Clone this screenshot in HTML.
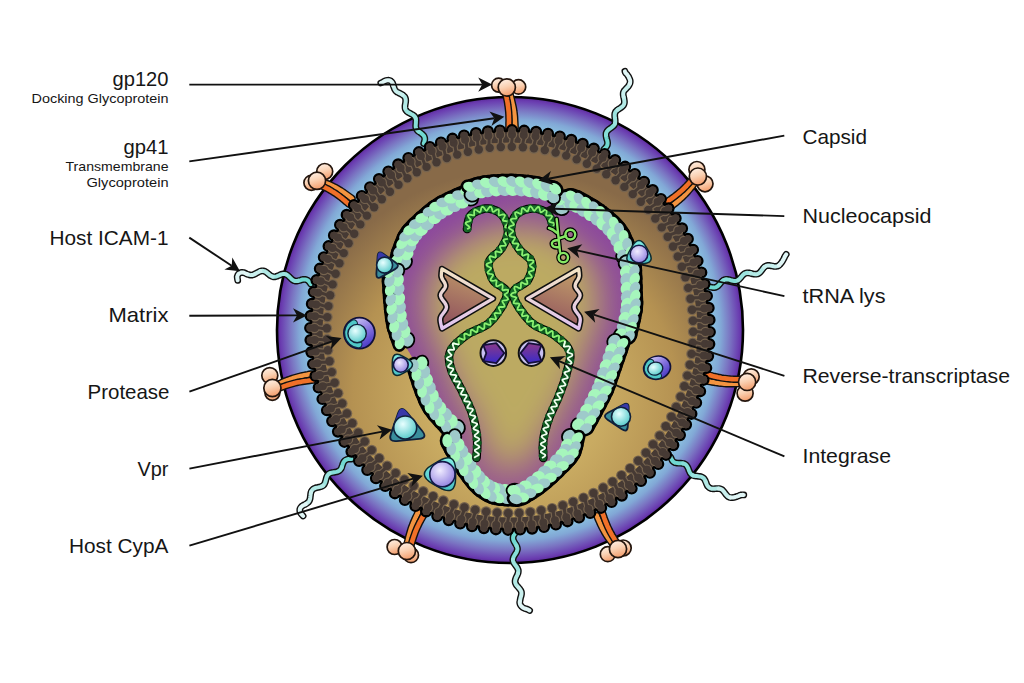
<!DOCTYPE html><html><head><meta charset="utf-8"><style>html,body{margin:0;padding:0;background:#fff;overflow:hidden}svg{display:block}text{font-family:"Liberation Sans",sans-serif}</style></head><body><svg width="1024" height="683" viewBox="0 0 1024 683"><defs>
<radialGradient id="gEnv" cx="510" cy="330" r="233" gradientUnits="userSpaceOnUse">
 <stop offset="0.86" stop-color="#8cc6e2"/>
 <stop offset="0.905" stop-color="#82a8d6"/>
 <stop offset="0.945" stop-color="#7a74c2"/>
 <stop offset="0.985" stop-color="#6a3cb0"/>
 <stop offset="1" stop-color="#5a2a98"/>
</radialGradient>
<radialGradient id="gMat" cx="515" cy="395" r="225" gradientUnits="userSpaceOnUse">
 <stop offset="0.4" stop-color="#c9ab62"/>
 <stop offset="0.72" stop-color="#b59252"/>
 <stop offset="1" stop-color="#886a48"/>
</radialGradient>
<linearGradient id="gKnob" x1="0.3" y1="0" x2="0.6" y2="1">
 <stop offset="0" stop-color="#fff0e4"/>
 <stop offset="0.45" stop-color="#fad2b4"/>
 <stop offset="1" stop-color="#f29a68"/>
</linearGradient>
<linearGradient id="gStalk" x1="0" y1="0" x2="0" y2="1">
 <stop offset="0" stop-color="#f06020"/>
 <stop offset="1" stop-color="#f8a040"/>
</linearGradient>
<filter id="blur15" x="-50%" y="-50%" width="200%" height="200%"><feGaussianBlur stdDeviation="17"/></filter>
<filter id="blur6" x="-50%" y="-50%" width="200%" height="200%"><feGaussianBlur stdDeviation="6"/></filter>
<linearGradient id="gRT" x1="0.3" y1="0" x2="0" y2="1">
 <stop offset="0" stop-color="#bc9468"/>
 <stop offset="1" stop-color="#8a4a5c"/>
</linearGradient>
<radialGradient id="gCyan" cx="0.4" cy="0.35" r="0.7">
 <stop offset="0" stop-color="#e8ffff"/>
 <stop offset="1" stop-color="#50c8c8"/>
</radialGradient>
<radialGradient id="gLav" cx="0.4" cy="0.35" r="0.7">
 <stop offset="0" stop-color="#f0ecff"/>
 <stop offset="1" stop-color="#9080e0"/>
</radialGradient>
</defs>
<circle cx="510" cy="330" r="233" fill="url(#gEnv)" stroke="#000" stroke-width="2.6"/>
<linearGradient id="gIcam" x1="0" y1="0" x2="1" y2="0"><stop offset="0" stop-color="#6ed8d0"/><stop offset="1" stop-color="#d8f4f4"/></linearGradient>
<polyline points="423.7,143.5 424.1,142.4 424.4,141.3 424.7,140.2 424.8,139.1 424.7,138.1 424.4,137.1 424.0,136.1 423.3,135.2 422.5,134.4 421.6,133.6 420.7,132.9 419.7,132.2 418.7,131.6 417.8,130.9 417.1,130.1 416.5,129.3 416.1,128.4 415.8,127.4 415.7,126.4 415.7,125.3 415.8,124.1 415.9,122.9 415.9,121.7 416.0,120.5 415.9,119.4 415.7,118.4 415.3,117.4 414.8,116.6 414.1,115.8 413.2,115.1 412.3,114.5 411.2,114.0 410.2,113.4 409.1,112.9 408.1,112.3 407.2,111.6 406.4,110.9 405.8,110.0 405.3,109.1 405.1,108.1 405.0,107.0 405.0,105.8 405.2,104.7 405.4,103.5 405.6,102.3 405.7,101.1 405.7,100.0 405.6,99.0 405.3,98.0 404.9,97.1 404.2,96.2 403.4,95.5 402.5,94.8 401.4,94.2 400.3,93.6 399.3,93.1 398.3,92.6 397.3,92.2 396.5,91.6 395.8,91.0 395.3,90.3 394.8,89.5 394.4,88.6 394.0,87.6 393.6,86.5 393.2,85.3 393.0,84.1 392.5,83.0 391.8,82.0 390.9,81.1 389.8,80.5 388.6,80.2 387.4,80.3 386.2,80.5 385.1,80.9 384.0,81.4 383.0,82.0 381.9,82.5 380.8,83.0" fill="none" stroke="#111" stroke-width="6.8" stroke-linecap="round" stroke-linejoin="round"/>
<polyline points="423.7,143.5 424.1,142.4 424.4,141.3 424.7,140.2 424.8,139.1 424.7,138.1 424.4,137.1 424.0,136.1 423.3,135.2 422.5,134.4 421.6,133.6 420.7,132.9 419.7,132.2 418.7,131.6" fill="none" stroke="#70d8d0" stroke-width="4.0" stroke-linecap="round" stroke-linejoin="round"/>
<polyline points="418.7,131.6 417.8,130.9 417.1,130.1 416.5,129.3 416.1,128.4 415.8,127.4 415.7,126.4 415.7,125.3 415.8,124.1 415.9,122.9 415.9,121.7 416.0,120.5 415.9,119.4 415.7,118.4" fill="none" stroke="#86ded7" stroke-width="4.0" stroke-linecap="round" stroke-linejoin="round"/>
<polyline points="415.7,118.4 415.3,117.4 414.8,116.6 414.1,115.8 413.2,115.1 412.3,114.5 411.2,114.0 410.2,113.4 409.1,112.9 408.1,112.3 407.2,111.6 406.4,110.9 405.8,110.0 405.3,109.1 405.1,108.1" fill="none" stroke="#9ce4df" stroke-width="4.0" stroke-linecap="round" stroke-linejoin="round"/>
<polyline points="405.1,108.1 405.0,107.0 405.0,105.8 405.2,104.7 405.4,103.5 405.6,102.3 405.7,101.1 405.7,100.0 405.6,99.0 405.3,98.0 404.9,97.1 404.2,96.2 403.4,95.5 402.5,94.8" fill="none" stroke="#b3eae6" stroke-width="4.0" stroke-linecap="round" stroke-linejoin="round"/>
<polyline points="402.5,94.8 401.4,94.2 400.3,93.6 399.3,93.1 398.3,92.6 397.3,92.2 396.5,91.6 395.8,91.0 395.3,90.3 394.8,89.5 394.4,88.6 394.0,87.6 393.6,86.5 393.2,85.3" fill="none" stroke="#c9f0ee" stroke-width="4.0" stroke-linecap="round" stroke-linejoin="round"/>
<polyline points="393.2,85.3 393.0,84.1 392.5,83.0 391.8,82.0 390.9,81.1 389.8,80.5 388.6,80.2 387.4,80.3 386.2,80.5 385.1,80.9 384.0,81.4 383.0,82.0 381.9,82.5 380.8,83.0" fill="none" stroke="#e0f6f6" stroke-width="4.0" stroke-linecap="round" stroke-linejoin="round"/>
<polyline points="603.9,149.3 604.8,148.5 605.6,147.6 606.3,146.8 606.9,145.9 607.3,145.0 607.5,144.0 607.6,143.0 607.5,142.0 607.3,140.9 607.0,139.8 606.6,138.6 606.3,137.5 606.1,136.3 606.0,135.3 606.0,134.2 606.1,133.1 606.5,132.2 607.0,131.3 607.7,130.5 608.5,129.7 609.4,129.0 610.4,128.3 611.4,127.6 612.3,126.9 613.2,126.2 613.9,125.5 614.5,124.6 614.9,123.7 615.1,122.7 615.2,121.7 615.2,120.6 615.1,119.4 614.9,118.2 614.8,117.1 614.7,115.9 614.7,114.8 614.8,113.7 615.1,112.8 615.5,111.9 616.1,111.1 616.9,110.3 617.8,109.6 618.8,109.0 619.8,108.4 620.8,107.7 621.7,107.0 622.6,106.3 623.3,105.5 623.8,104.6 624.2,103.7 624.4,102.7 624.4,101.6 624.3,100.5 624.1,99.3 623.9,98.1 623.6,97.0 623.4,95.8 623.2,94.8 623.2,93.7 623.3,92.7 623.6,91.8 624.1,90.9 624.7,90.1 625.5,89.3 626.3,88.5 627.1,87.6 628.0,86.8 628.7,85.8 629.3,84.8 629.7,83.8 630.0,83.1 630.2,82.1 630.2,81.0 630.0,80.0 629.6,78.9 629.1,77.8 628.6,76.7 627.9,75.7 627.3,74.8 626.7,74.0 626.1,73.5 625.6,72.9 625.2,72.2 624.9,71.3" fill="none" stroke="#111" stroke-width="6.8" stroke-linecap="round" stroke-linejoin="round"/>
<polyline points="603.9,149.3 604.8,148.5 605.6,147.6 606.3,146.8 606.9,145.9 607.3,145.0 607.5,144.0 607.6,143.0 607.5,142.0 607.3,140.9 607.0,139.8 606.6,138.6 606.3,137.5 606.1,136.3 606.0,135.3" fill="none" stroke="#70d8d0" stroke-width="4.0" stroke-linecap="round" stroke-linejoin="round"/>
<polyline points="606.0,135.3 606.0,134.2 606.1,133.1 606.5,132.2 607.0,131.3 607.7,130.5 608.5,129.7 609.4,129.0 610.4,128.3 611.4,127.6 612.3,126.9 613.2,126.2 613.9,125.5 614.5,124.6 614.9,123.7" fill="none" stroke="#86ded7" stroke-width="4.0" stroke-linecap="round" stroke-linejoin="round"/>
<polyline points="614.9,123.7 615.1,122.7 615.2,121.7 615.2,120.6 615.1,119.4 614.9,118.2 614.8,117.1 614.7,115.9 614.7,114.8 614.8,113.7 615.1,112.8 615.5,111.9 616.1,111.1 616.9,110.3 617.8,109.6" fill="none" stroke="#9ce4df" stroke-width="4.0" stroke-linecap="round" stroke-linejoin="round"/>
<polyline points="617.8,109.6 618.8,109.0 619.8,108.4 620.8,107.7 621.7,107.0 622.6,106.3 623.3,105.5 623.8,104.6 624.2,103.7 624.4,102.7 624.4,101.6 624.3,100.5 624.1,99.3 623.9,98.1 623.6,97.0" fill="none" stroke="#b3eae6" stroke-width="4.0" stroke-linecap="round" stroke-linejoin="round"/>
<polyline points="623.6,97.0 623.4,95.8 623.2,94.8 623.2,93.7 623.3,92.7 623.6,91.8 624.1,90.9 624.7,90.1 625.5,89.3 626.3,88.5 627.1,87.6 628.0,86.8 628.7,85.8 629.3,84.8 629.7,83.8" fill="none" stroke="#c9f0ee" stroke-width="4.0" stroke-linecap="round" stroke-linejoin="round"/>
<polyline points="629.7,83.8 630.0,83.1 630.2,82.1 630.2,81.0 630.0,80.0 629.6,78.9 629.1,77.8 628.6,76.7 627.9,75.7 627.3,74.8 626.7,74.0 626.1,73.5 625.6,72.9 625.2,72.2 624.9,71.3" fill="none" stroke="#e0f6f6" stroke-width="4.0" stroke-linecap="round" stroke-linejoin="round"/>
<polyline points="310.8,284.0 310.1,283.0 309.4,282.1 308.7,281.2 307.9,280.5 307.0,280.0 306.1,279.6 305.0,279.4 303.9,279.4 302.8,279.5 301.6,279.8 300.5,280.2 299.3,280.5 298.2,280.8 297.2,281.1 296.0,281.1 295.0,281.0 294.1,280.8 293.2,280.3 292.3,279.7 291.5,279.0 290.7,278.2 289.8,277.3 289.0,276.5 288.1,275.7 287.2,275.0 286.3,274.5 285.3,274.1 284.3,273.9 283.3,273.9 282.3,274.1 281.2,274.4 280.1,274.9 279.0,275.4 277.9,275.8 276.8,276.3 275.8,276.6 274.7,276.8 273.7,276.8 272.7,276.6 271.8,276.3 270.8,275.8 269.9,275.2 269.0,274.4 268.1,273.7 267.2,272.9 266.3,272.2 265.3,271.6 264.3,271.1 263.3,270.9 262.3,270.8 261.3,270.9 260.3,271.2 259.2,271.6 258.2,272.2 257.1,272.8 256.1,273.4 255.1,273.9 254.1,274.4 253.3,274.8 252.4,275.0 251.5,275.1 250.5,275.1 249.5,274.9 248.5,274.6 247.2,274.2 246.2,273.7 245.1,273.2 244.0,272.7 242.9,272.5 241.7,272.4 240.5,272.7 239.4,273.2 238.4,274.1 237.7,275.3 237.2,276.7 237.3,277.9 237.5,279.1 237.7,280.3" fill="none" stroke="#111" stroke-width="6.8" stroke-linecap="round" stroke-linejoin="round"/>
<polyline points="310.8,284.0 310.1,283.0 309.4,282.1 308.7,281.2 307.9,280.5 307.0,280.0 306.1,279.6 305.0,279.4 303.9,279.4 302.8,279.5 301.6,279.8 300.5,280.2 299.3,280.5 298.2,280.8" fill="none" stroke="#70d8d0" stroke-width="4.0" stroke-linecap="round" stroke-linejoin="round"/>
<polyline points="298.2,280.8 297.2,281.1 296.0,281.1 295.0,281.0 294.1,280.8 293.2,280.3 292.3,279.7 291.5,279.0 290.7,278.2 289.8,277.3 289.0,276.5 288.1,275.7 287.2,275.0 286.3,274.5" fill="none" stroke="#86ded7" stroke-width="4.0" stroke-linecap="round" stroke-linejoin="round"/>
<polyline points="286.3,274.5 285.3,274.1 284.3,273.9 283.3,273.9 282.3,274.1 281.2,274.4 280.1,274.9 279.0,275.4 277.9,275.8 276.8,276.3 275.8,276.6 274.7,276.8 273.7,276.8 272.7,276.6" fill="none" stroke="#9ce4df" stroke-width="4.0" stroke-linecap="round" stroke-linejoin="round"/>
<polyline points="272.7,276.6 271.8,276.3 270.8,275.8 269.9,275.2 269.0,274.4 268.1,273.7 267.2,272.9 266.3,272.2 265.3,271.6 264.3,271.1 263.3,270.9 262.3,270.8 261.3,270.9 260.3,271.2" fill="none" stroke="#b3eae6" stroke-width="4.0" stroke-linecap="round" stroke-linejoin="round"/>
<polyline points="260.3,271.2 259.2,271.6 258.2,272.2 257.1,272.8 256.1,273.4 255.1,273.9 254.1,274.4 253.3,274.8 252.4,275.0 251.5,275.1 250.5,275.1 249.5,274.9 248.5,274.6 247.2,274.2" fill="none" stroke="#c9f0ee" stroke-width="4.0" stroke-linecap="round" stroke-linejoin="round"/>
<polyline points="247.2,274.2 246.2,273.7 245.1,273.2 244.0,272.7 242.9,272.5 241.7,272.4 240.5,272.7 239.4,273.2 238.4,274.1 237.7,275.3 237.2,276.7 237.3,277.9 237.5,279.1 237.7,280.3" fill="none" stroke="#e0f6f6" stroke-width="4.0" stroke-linecap="round" stroke-linejoin="round"/>
<polyline points="709.8,286.9 711.0,287.2 712.1,287.4 713.2,287.6 714.3,287.6 715.3,287.4 716.2,287.1 717.1,286.6 717.9,286.0 718.7,285.2 719.5,284.3 720.2,283.4 721.0,282.5 721.8,281.6 722.6,280.9 723.4,280.2 724.3,279.8 725.3,279.5 726.3,279.3 727.4,279.4 728.5,279.6 729.6,279.8 730.8,280.2 731.9,280.5 733.0,280.8 734.1,280.9 735.2,281.0 736.2,280.9 737.2,280.6 738.1,280.1 738.9,279.5 739.7,278.7 740.5,277.8 741.3,276.9 742.0,276.0 742.8,275.1 743.6,274.4 744.5,273.7 745.4,273.3 746.3,273.0 747.3,272.8 748.4,272.9 749.5,273.0 750.6,273.3 751.8,273.6 752.9,273.9 754.1,274.1 755.2,274.2 756.2,274.2 757.3,274.0 758.2,273.7 759.1,273.1 759.9,272.5 760.7,271.6 761.4,270.7 762.1,269.8 762.8,268.8 763.5,267.9 764.3,267.1 765.1,266.4 766.0,265.9 767.0,265.6 768.0,265.4 769.0,265.4 770.2,265.6 771.3,265.8 772.5,266.0 773.6,266.3 774.8,266.4 776.0,266.4 777.1,266.2 778.1,265.9 779.0,265.3 779.5,264.8 780.3,264.1 781.0,263.2 781.7,262.3 782.4,261.3 783.0,260.3 783.5,259.3 784.0,258.4 784.4,257.6 784.6,257.0 784.8,256.6 785.1,256.1 785.6,255.3 786.2,254.4" fill="none" stroke="#111" stroke-width="6.8" stroke-linecap="round" stroke-linejoin="round"/>
<polyline points="709.8,286.9 711.0,287.2 712.1,287.4 713.2,287.6 714.3,287.6 715.3,287.4 716.2,287.1 717.1,286.6 717.9,286.0 718.7,285.2 719.5,284.3 720.2,283.4 721.0,282.5 721.8,281.6 722.6,280.9" fill="none" stroke="#70d8d0" stroke-width="4.0" stroke-linecap="round" stroke-linejoin="round"/>
<polyline points="722.6,280.9 723.4,280.2 724.3,279.8 725.3,279.5 726.3,279.3 727.4,279.4 728.5,279.6 729.6,279.8 730.8,280.2 731.9,280.5 733.0,280.8 734.1,280.9 735.2,281.0 736.2,280.9 737.2,280.6 738.1,280.1" fill="none" stroke="#86ded7" stroke-width="4.0" stroke-linecap="round" stroke-linejoin="round"/>
<polyline points="738.1,280.1 738.9,279.5 739.7,278.7 740.5,277.8 741.3,276.9 742.0,276.0 742.8,275.1 743.6,274.4 744.5,273.7 745.4,273.3 746.3,273.0 747.3,272.8 748.4,272.9 749.5,273.0 750.6,273.3" fill="none" stroke="#9ce4df" stroke-width="4.0" stroke-linecap="round" stroke-linejoin="round"/>
<polyline points="750.6,273.3 751.8,273.6 752.9,273.9 754.1,274.1 755.2,274.2 756.2,274.2 757.3,274.0 758.2,273.7 759.1,273.1 759.9,272.5 760.7,271.6 761.4,270.7 762.1,269.8 762.8,268.8 763.5,267.9 764.3,267.1" fill="none" stroke="#b3eae6" stroke-width="4.0" stroke-linecap="round" stroke-linejoin="round"/>
<polyline points="764.3,267.1 765.1,266.4 766.0,265.9 767.0,265.6 768.0,265.4 769.0,265.4 770.2,265.6 771.3,265.8 772.5,266.0 773.6,266.3 774.8,266.4 776.0,266.4 777.1,266.2 778.1,265.9 779.0,265.3" fill="none" stroke="#c9f0ee" stroke-width="4.0" stroke-linecap="round" stroke-linejoin="round"/>
<polyline points="779.0,265.3 779.5,264.8 780.3,264.1 781.0,263.2 781.7,262.3 782.4,261.3 783.0,260.3 783.5,259.3 784.0,258.4 784.4,257.6 784.6,257.0 784.8,256.6 785.1,256.1 785.6,255.3 786.2,254.4" fill="none" stroke="#e0f6f6" stroke-width="4.0" stroke-linecap="round" stroke-linejoin="round"/>
<polyline points="351.5,459.0 350.3,459.0 349.1,459.0 348.0,459.1 347.0,459.4 346.0,459.8 345.2,460.3 344.4,461.0 343.7,461.9 343.2,462.9 342.8,464.0 342.4,465.2 342.0,466.3 341.7,467.4 341.2,468.5 340.6,469.4 340.0,470.1 339.2,470.7 338.3,471.2 337.4,471.6 336.3,471.9 335.1,472.1 334.0,472.3 332.8,472.5 331.6,472.7 330.6,473.0 329.6,473.4 328.7,474.0 328.0,474.7 327.4,475.5 326.9,476.5 326.5,477.5 326.2,478.6 325.9,479.8 325.6,481.0 325.3,482.1 324.9,483.1 324.4,484.1 323.8,484.9 323.1,485.6 322.2,486.1 321.3,486.5 320.2,486.9 319.1,487.1 317.9,487.4 316.7,487.6 315.6,487.9 314.6,488.3 313.6,488.8 312.8,489.4 312.1,490.2 311.5,491.1 311.1,492.1 310.8,493.1 310.6,494.3 310.5,495.5 310.3,496.7 310.2,497.8 310.0,498.9 309.7,499.8 309.4,500.7 308.9,501.5 308.3,502.2 307.5,502.8 306.6,503.5 305.5,504.2 304.5,504.7 303.4,505.2 302.4,505.8 301.5,506.5 300.7,507.4 300.1,508.4 299.8,509.5 299.8,510.8 300.1,512.1 300.7,513.2 301.5,514.2 302.3,515.1 303.1,516.0" fill="none" stroke="#111" stroke-width="6.8" stroke-linecap="round" stroke-linejoin="round"/>
<polyline points="351.5,459.0 350.3,459.0 349.1,459.0 348.0,459.1 347.0,459.4 346.0,459.8 345.2,460.3 344.4,461.0 343.7,461.9 343.2,462.9 342.8,464.0 342.4,465.2 342.0,466.3 341.7,467.4" fill="none" stroke="#70d8d0" stroke-width="4.0" stroke-linecap="round" stroke-linejoin="round"/>
<polyline points="341.7,467.4 341.2,468.5 340.6,469.4 340.0,470.1 339.2,470.7 338.3,471.2 337.4,471.6 336.3,471.9 335.1,472.1 334.0,472.3 332.8,472.5 331.6,472.7 330.6,473.0 329.6,473.4" fill="none" stroke="#86ded7" stroke-width="4.0" stroke-linecap="round" stroke-linejoin="round"/>
<polyline points="329.6,473.4 328.7,474.0 328.0,474.7 327.4,475.5 326.9,476.5 326.5,477.5 326.2,478.6 325.9,479.8 325.6,481.0 325.3,482.1 324.9,483.1 324.4,484.1 323.8,484.9 323.1,485.6" fill="none" stroke="#9ce4df" stroke-width="4.0" stroke-linecap="round" stroke-linejoin="round"/>
<polyline points="323.1,485.6 322.2,486.1 321.3,486.5 320.2,486.9 319.1,487.1 317.9,487.4 316.7,487.6 315.6,487.9 314.6,488.3 313.6,488.8 312.8,489.4 312.1,490.2 311.5,491.1 311.1,492.1" fill="none" stroke="#b3eae6" stroke-width="4.0" stroke-linecap="round" stroke-linejoin="round"/>
<polyline points="311.1,492.1 310.8,493.1 310.6,494.3 310.5,495.5 310.3,496.7 310.2,497.8 310.0,498.9 309.7,499.8 309.4,500.7 308.9,501.5 308.3,502.2 307.5,502.8 306.6,503.5 305.5,504.2" fill="none" stroke="#c9f0ee" stroke-width="4.0" stroke-linecap="round" stroke-linejoin="round"/>
<polyline points="305.5,504.2 304.5,504.7 303.4,505.2 302.4,505.8 301.5,506.5 300.7,507.4 300.1,508.4 299.8,509.5 299.8,510.8 300.1,512.1 300.7,513.2 301.5,514.2 302.3,515.1 303.1,516.0" fill="none" stroke="#e0f6f6" stroke-width="4.0" stroke-linecap="round" stroke-linejoin="round"/>
<polyline points="670.5,457.0 671.0,458.1 671.5,459.1 672.0,460.1 672.6,461.0 673.3,461.7 674.2,462.2 675.1,462.7 676.1,462.9 677.2,463.1 678.4,463.2 679.6,463.2 680.7,463.2 681.9,463.3 683.0,463.5 684.0,463.7 685.0,464.1 685.8,464.7 686.5,465.4 687.1,466.3 687.7,467.3 688.2,468.3 688.6,469.4 689.0,470.6 689.5,471.6 689.9,472.6 690.5,473.5 691.2,474.3 692.0,474.9 692.9,475.3 693.9,475.7 694.9,475.9 696.1,476.0 697.3,476.1 698.5,476.3 699.6,476.4 700.7,476.6 701.7,476.9 702.6,477.4 703.4,478.0 704.1,478.7 704.7,479.6 705.2,480.5 705.6,481.6 706.1,482.7 706.5,483.8 707.0,484.9 707.5,485.9 708.2,486.7 708.9,487.4 709.8,488.0 710.7,488.4 711.8,488.7 712.9,488.8 714.1,488.8 715.2,488.7 716.4,488.6 717.6,488.6 718.7,488.6 719.7,488.7 720.7,489.0 721.6,489.4 722.4,489.9 723.1,490.7 723.8,491.5 724.5,492.4 725.2,493.4 725.9,494.3 726.6,495.2 727.5,496.1 728.3,496.7 729.3,497.2 730.3,497.5 731.0,497.6 732.1,497.6 733.2,497.5 734.4,497.3 735.5,496.9 736.7,496.6 737.7,496.2 738.7,495.8 739.6,495.4 740.1,495.2 740.8,495.0 741.7,494.9 742.7,494.8 743.8,494.9" fill="none" stroke="#111" stroke-width="6.8" stroke-linecap="round" stroke-linejoin="round"/>
<polyline points="670.5,457.0 671.0,458.1 671.5,459.1 672.0,460.1 672.6,461.0 673.3,461.7 674.2,462.2 675.1,462.7 676.1,462.9 677.2,463.1 678.4,463.2 679.6,463.2 680.7,463.2 681.9,463.3 683.0,463.5" fill="none" stroke="#70d8d0" stroke-width="4.0" stroke-linecap="round" stroke-linejoin="round"/>
<polyline points="683.0,463.5 684.0,463.7 685.0,464.1 685.8,464.7 686.5,465.4 687.1,466.3 687.7,467.3 688.2,468.3 688.6,469.4 689.0,470.6 689.5,471.6 689.9,472.6 690.5,473.5 691.2,474.3 692.0,474.9 692.9,475.3" fill="none" stroke="#86ded7" stroke-width="4.0" stroke-linecap="round" stroke-linejoin="round"/>
<polyline points="692.9,475.3 693.9,475.7 694.9,475.9 696.1,476.0 697.3,476.1 698.5,476.3 699.6,476.4 700.7,476.6 701.7,476.9 702.6,477.4 703.4,478.0 704.1,478.7 704.7,479.6 705.2,480.5 705.6,481.6" fill="none" stroke="#9ce4df" stroke-width="4.0" stroke-linecap="round" stroke-linejoin="round"/>
<polyline points="705.6,481.6 706.1,482.7 706.5,483.8 707.0,484.9 707.5,485.9 708.2,486.7 708.9,487.4 709.8,488.0 710.7,488.4 711.8,488.7 712.9,488.8 714.1,488.8 715.2,488.7 716.4,488.6 717.6,488.6 718.7,488.6" fill="none" stroke="#b3eae6" stroke-width="4.0" stroke-linecap="round" stroke-linejoin="round"/>
<polyline points="718.7,488.6 719.7,488.7 720.7,489.0 721.6,489.4 722.4,489.9 723.1,490.7 723.8,491.5 724.5,492.4 725.2,493.4 725.9,494.3 726.6,495.2 727.5,496.1 728.3,496.7 729.3,497.2 730.3,497.5" fill="none" stroke="#c9f0ee" stroke-width="4.0" stroke-linecap="round" stroke-linejoin="round"/>
<polyline points="730.3,497.5 731.0,497.6 732.1,497.6 733.2,497.5 734.4,497.3 735.5,496.9 736.7,496.6 737.7,496.2 738.7,495.8 739.6,495.4 740.1,495.2 740.8,495.0 741.7,494.9 742.7,494.8 743.8,494.9" fill="none" stroke="#e0f6f6" stroke-width="4.0" stroke-linecap="round" stroke-linejoin="round"/>
<polyline points="515.6,532.4 514.9,533.4 514.3,534.4 513.7,535.3 513.3,536.3 513.1,537.3 513.1,538.3 513.2,539.4 513.6,540.4 514.0,541.4 514.6,542.4 515.2,543.5 515.9,544.5 516.4,545.5 516.9,546.5 517.2,547.5 517.4,548.5 517.4,549.5 517.1,550.5 516.8,551.5 516.3,552.5 515.7,553.5 515.0,554.5 514.4,555.5 513.8,556.6 513.4,557.6 513.1,558.6 512.9,559.6 513.0,560.7 513.3,561.7 513.7,562.7 514.3,563.6 515.0,564.6 515.7,565.6 516.4,566.5 517.1,567.5 517.6,568.4 518.0,569.4 518.3,570.3 518.3,571.3 518.2,572.4 517.9,573.4 517.5,574.4 517.1,575.5 516.5,576.6 516.0,577.7 515.6,578.8 515.3,579.8 515.1,580.9 515.1,581.9 515.3,582.9 515.7,583.8 516.2,584.8 516.9,585.7 517.7,586.6 518.5,587.5 519.3,588.4 520.0,589.3 520.6,590.2 521.1,591.1 521.4,592.0 521.5,593.0 521.5,594.0 521.3,595.0 521.1,596.1 520.7,597.2 520.4,598.4 520.2,599.6 520.0,600.7 519.8,601.6 519.7,602.7 519.9,603.7 520.3,604.7 520.8,605.6 521.6,606.5 522.5,607.3 523.6,608.0 524.7,608.5 525.8,608.8 526.9,609.1 527.8,609.4 528.7,609.9 529.6,610.5" fill="none" stroke="#111" stroke-width="6.8" stroke-linecap="round" stroke-linejoin="round"/>
<polyline points="515.6,532.4 514.9,533.4 514.3,534.4 513.7,535.3 513.3,536.3 513.1,537.3 513.1,538.3 513.2,539.4 513.6,540.4 514.0,541.4 514.6,542.4 515.2,543.5 515.9,544.5 516.4,545.5" fill="none" stroke="#70d8d0" stroke-width="4.0" stroke-linecap="round" stroke-linejoin="round"/>
<polyline points="516.4,545.5 516.9,546.5 517.2,547.5 517.4,548.5 517.4,549.5 517.1,550.5 516.8,551.5 516.3,552.5 515.7,553.5 515.0,554.5 514.4,555.5 513.8,556.6 513.4,557.6 513.1,558.6 512.9,559.6" fill="none" stroke="#86ded7" stroke-width="4.0" stroke-linecap="round" stroke-linejoin="round"/>
<polyline points="512.9,559.6 513.0,560.7 513.3,561.7 513.7,562.7 514.3,563.6 515.0,564.6 515.7,565.6 516.4,566.5 517.1,567.5 517.6,568.4 518.0,569.4 518.3,570.3 518.3,571.3 518.2,572.4 517.9,573.4" fill="none" stroke="#9ce4df" stroke-width="4.0" stroke-linecap="round" stroke-linejoin="round"/>
<polyline points="517.9,573.4 517.5,574.4 517.1,575.5 516.5,576.6 516.0,577.7 515.6,578.8 515.3,579.8 515.1,580.9 515.1,581.9 515.3,582.9 515.7,583.8 516.2,584.8 516.9,585.7 517.7,586.6 518.5,587.5" fill="none" stroke="#b3eae6" stroke-width="4.0" stroke-linecap="round" stroke-linejoin="round"/>
<polyline points="518.5,587.5 519.3,588.4 520.0,589.3 520.6,590.2 521.1,591.1 521.4,592.0 521.5,593.0 521.5,594.0 521.3,595.0 521.1,596.1 520.7,597.2 520.4,598.4 520.2,599.6 520.0,600.7 519.8,601.6" fill="none" stroke="#c9f0ee" stroke-width="4.0" stroke-linecap="round" stroke-linejoin="round"/>
<polyline points="519.8,601.6 519.7,602.7 519.9,603.7 520.3,604.7 520.8,605.6 521.6,606.5 522.5,607.3 523.6,608.0 524.7,608.5 525.8,608.8 526.9,609.1 527.8,609.4 528.7,609.9 529.6,610.5" fill="none" stroke="#e0f6f6" stroke-width="4.0" stroke-linecap="round" stroke-linejoin="round"/>
<polyline points="515.2,127.6 515.1,125.8 515.0,124.0 514.9,122.2 514.8,120.4 514.7,118.6 514.6,116.8 514.4,115.0 514.2,113.2 513.9,111.4 513.7,109.6 513.4,107.8 513.0,106.0 512.6,104.3 512.2,102.5 511.8,100.7 511.4,99.0 510.9,97.2 510.4,95.4 509.9,93.7 509.4,91.9" fill="none" stroke="#111" stroke-width="7.4" stroke-linecap="round" stroke-linejoin="round"/>
<polyline points="515.2,127.6 515.1,125.8 515.0,124.0 514.9,122.2 514.8,120.4 514.7,118.6 514.6,116.8 514.4,115.0 514.2,113.2 513.9,111.4 513.7,109.6 513.4,107.8 513.0,106.0 512.6,104.3 512.2,102.5 511.8,100.7 511.4,99.0 510.9,97.2 510.4,95.4 509.9,93.7 509.4,91.9" fill="none" stroke="#f39440" stroke-width="4.6" stroke-linecap="round" stroke-linejoin="round"/>
<polyline points="508.8,128.4 508.9,126.6 508.9,124.8 508.9,122.9 509.0,121.1 509.0,119.3 508.9,117.5 508.9,115.7 508.8,113.9 508.7,112.0 508.5,110.2 508.3,108.5 508.1,106.7 507.8,104.9 507.6,103.1 507.3,101.3 506.9,99.5 506.6,97.8 506.2,96.0 505.8,94.2 505.4,92.4" fill="none" stroke="#111" stroke-width="7.4" stroke-linecap="round" stroke-linejoin="round"/>
<polyline points="508.8,128.4 508.9,126.6 508.9,124.8 508.9,122.9 509.0,121.1 509.0,119.3 508.9,117.5 508.9,115.7 508.8,113.9 508.7,112.0 508.5,110.2 508.3,108.5 508.1,106.7 507.8,104.9 507.6,103.1 507.3,101.3 506.9,99.5 506.6,97.8 506.2,96.0 505.8,94.2 505.4,92.4" fill="none" stroke="#f07028" stroke-width="4.6" stroke-linecap="round" stroke-linejoin="round"/>
<circle cx="498.6" cy="85.2" r="7.0" fill="url(#gKnob)" stroke="#24160e" stroke-width="1.7"/>
<circle cx="518.5" cy="86.9" r="7.2" fill="url(#gKnob)" stroke="#24160e" stroke-width="1.7"/>
<circle cx="506.8" cy="87.5" r="8.6" fill="url(#gKnob)" stroke="#24160e" stroke-width="1.7"/>
<polyline points="352.0,198.5 350.6,197.4 349.2,196.4 347.8,195.4 346.4,194.4 345.0,193.4 343.6,192.4 342.2,191.5 340.7,190.5 339.2,189.6 337.8,188.8 336.3,187.9 334.7,187.1 333.2,186.4 331.6,185.6 330.1,184.9 328.5,184.2 326.9,183.5 325.3,182.8 323.7,182.1 322.1,181.5" fill="none" stroke="#111" stroke-width="7.4" stroke-linecap="round" stroke-linejoin="round"/>
<polyline points="352.0,198.5 350.6,197.4 349.2,196.4 347.8,195.4 346.4,194.4 345.0,193.4 343.6,192.4 342.2,191.5 340.7,190.5 339.2,189.6 337.8,188.8 336.3,187.9 334.7,187.1 333.2,186.4 331.6,185.6 330.1,184.9 328.5,184.2 326.9,183.5 325.3,182.8 323.7,182.1 322.1,181.5" fill="none" stroke="#f39440" stroke-width="4.6" stroke-linecap="round" stroke-linejoin="round"/>
<polyline points="348.6,203.9 347.3,202.8 346.0,201.7 344.7,200.5 343.3,199.4 342.0,198.3 340.6,197.2 339.3,196.2 337.9,195.2 336.5,194.2 335.0,193.2 333.6,192.3 332.1,191.4 330.7,190.5 329.2,189.6 327.7,188.8 326.1,188.0 324.6,187.2 323.1,186.4 321.5,185.6 320.0,184.9" fill="none" stroke="#111" stroke-width="7.4" stroke-linecap="round" stroke-linejoin="round"/>
<polyline points="348.6,203.9 347.3,202.8 346.0,201.7 344.7,200.5 343.3,199.4 342.0,198.3 340.6,197.2 339.3,196.2 337.9,195.2 336.5,194.2 335.0,193.2 333.6,192.3 332.1,191.4 330.7,190.5 329.2,189.6 327.7,188.8 326.1,188.0 324.6,187.2 323.1,186.4 321.5,185.6 320.0,184.9" fill="none" stroke="#f07028" stroke-width="4.6" stroke-linecap="round" stroke-linejoin="round"/>
<circle cx="324.7" cy="171.5" r="8" fill="url(#gKnob)" stroke="#24160e" stroke-width="1.7"/>
<circle cx="311.4" cy="182.8" r="7.5" fill="url(#gKnob)" stroke="#24160e" stroke-width="1.7"/>
<circle cx="317" cy="180.7" r="8.6" fill="url(#gKnob)" stroke="#24160e" stroke-width="1.7"/>
<polyline points="672.4,205.6 673.7,204.5 675.1,203.5 676.4,202.4 677.7,201.3 679.0,200.2 680.2,199.1 681.5,198.0 682.7,196.9 683.9,195.7 685.1,194.5 686.3,193.2 687.4,192.0 688.5,190.7 689.6,189.4 690.7,188.1 691.8,186.8 692.8,185.4 693.8,184.1 694.9,182.7 695.9,181.3" fill="none" stroke="#111" stroke-width="7.4" stroke-linecap="round" stroke-linejoin="round"/>
<polyline points="672.4,205.6 673.7,204.5 675.1,203.5 676.4,202.4 677.7,201.3 679.0,200.2 680.2,199.1 681.5,198.0 682.7,196.9 683.9,195.7 685.1,194.5 686.3,193.2 687.4,192.0 688.5,190.7 689.6,189.4 690.7,188.1 691.8,186.8 692.8,185.4 693.8,184.1 694.9,182.7 695.9,181.3" fill="none" stroke="#f39440" stroke-width="4.6" stroke-linecap="round" stroke-linejoin="round"/>
<polyline points="668.0,201.0 669.4,200.0 670.8,199.1 672.2,198.1 673.6,197.1 674.9,196.1 676.3,195.0 677.6,194.0 679.0,192.9 680.2,191.8 681.5,190.7 682.8,189.6 684.0,188.4 685.2,187.2 686.4,186.0 687.5,184.8 688.7,183.5 689.8,182.3 690.9,181.0 692.0,179.7 693.1,178.4" fill="none" stroke="#111" stroke-width="7.4" stroke-linecap="round" stroke-linejoin="round"/>
<polyline points="668.0,201.0 669.4,200.0 670.8,199.1 672.2,198.1 673.6,197.1 674.9,196.1 676.3,195.0 677.6,194.0 679.0,192.9 680.2,191.8 681.5,190.7 682.8,189.6 684.0,188.4 685.2,187.2 686.4,186.0 687.5,184.8 688.7,183.5 689.8,182.3 690.9,181.0 692.0,179.7 693.1,178.4" fill="none" stroke="#f07028" stroke-width="4.6" stroke-linecap="round" stroke-linejoin="round"/>
<circle cx="696.9" cy="169.5" r="8" fill="url(#gKnob)" stroke="#24160e" stroke-width="1.7"/>
<circle cx="705" cy="183.8" r="8" fill="url(#gKnob)" stroke="#24160e" stroke-width="1.7"/>
<circle cx="697.9" cy="176.6" r="8.6" fill="url(#gKnob)" stroke="#24160e" stroke-width="1.7"/>
<polyline points="311.4,373.9 309.6,374.2 307.8,374.6 306.0,374.9 304.2,375.3 302.4,375.7 300.6,376.1 298.9,376.5 297.1,377.0 295.3,377.5 293.6,378.0 291.8,378.6 290.1,379.2 288.4,379.8 286.6,380.5 284.9,381.1 283.2,381.8 281.5,382.6 279.8,383.3 278.1,384.1 276.4,384.8" fill="none" stroke="#111" stroke-width="7.4" stroke-linecap="round" stroke-linejoin="round"/>
<polyline points="311.4,373.9 309.6,374.2 307.8,374.6 306.0,374.9 304.2,375.3 302.4,375.7 300.6,376.1 298.9,376.5 297.1,377.0 295.3,377.5 293.6,378.0 291.8,378.6 290.1,379.2 288.4,379.8 286.6,380.5 284.9,381.1 283.2,381.8 281.5,382.6 279.8,383.3 278.1,384.1 276.4,384.8" fill="none" stroke="#f39440" stroke-width="4.6" stroke-linecap="round" stroke-linejoin="round"/>
<polyline points="313.2,380.1 311.3,380.3 309.5,380.5 307.6,380.8 305.8,381.0 304.0,381.3 302.2,381.6 300.3,381.9 298.5,382.2 296.7,382.6 294.9,383.0 293.2,383.5 291.4,384.0 289.6,384.5 287.9,385.0 286.1,385.6 284.4,386.2 282.7,386.8 280.9,387.4 279.2,388.0 277.5,388.7" fill="none" stroke="#111" stroke-width="7.4" stroke-linecap="round" stroke-linejoin="round"/>
<polyline points="313.2,380.1 311.3,380.3 309.5,380.5 307.6,380.8 305.8,381.0 304.0,381.3 302.2,381.6 300.3,381.9 298.5,382.2 296.7,382.6 294.9,383.0 293.2,383.5 291.4,384.0 289.6,384.5 287.9,385.0 286.1,385.6 284.4,386.2 282.7,386.8 280.9,387.4 279.2,388.0 277.5,388.7" fill="none" stroke="#f07028" stroke-width="4.6" stroke-linecap="round" stroke-linejoin="round"/>
<circle cx="269.8" cy="375.6" r="8" fill="url(#gKnob)" stroke="#24160e" stroke-width="1.7"/>
<circle cx="272.4" cy="392.8" r="7.5" fill="url(#gKnob)" stroke="#24160e" stroke-width="1.7"/>
<circle cx="272.4" cy="388" r="8.6" fill="url(#gKnob)" stroke="#24160e" stroke-width="1.7"/>
<polyline points="706.9,381.0 708.6,381.3 710.4,381.7 712.1,382.0 713.9,382.3 715.6,382.6 717.4,382.8 719.1,383.1 720.9,383.3 722.6,383.4 724.4,383.6 726.2,383.7 727.9,383.8 729.7,383.8 731.5,383.8 733.3,383.8 735.0,383.7 736.8,383.7 738.6,383.6 740.4,383.5 742.2,383.4" fill="none" stroke="#111" stroke-width="7.4" stroke-linecap="round" stroke-linejoin="round"/>
<polyline points="706.9,381.0 708.6,381.3 710.4,381.7 712.1,382.0 713.9,382.3 715.6,382.6 717.4,382.8 719.1,383.1 720.9,383.3 722.6,383.4 724.4,383.6 726.2,383.7 727.9,383.8 729.7,383.8 731.5,383.8 733.3,383.8 735.0,383.7 736.8,383.7 738.6,383.6 740.4,383.5 742.2,383.4" fill="none" stroke="#f39440" stroke-width="4.6" stroke-linecap="round" stroke-linejoin="round"/>
<polyline points="707.5,374.6 709.3,375.1 711.0,375.5 712.7,376.0 714.5,376.4 716.2,376.8 717.9,377.2 719.7,377.5 721.4,377.9 723.2,378.2 724.9,378.4 726.7,378.6 728.4,378.8 730.2,379.0 732.0,379.1 733.7,379.2 735.5,379.3 737.3,379.3 739.0,379.4 740.8,379.4 742.6,379.4" fill="none" stroke="#111" stroke-width="7.4" stroke-linecap="round" stroke-linejoin="round"/>
<polyline points="707.5,374.6 709.3,375.1 711.0,375.5 712.7,376.0 714.5,376.4 716.2,376.8 717.9,377.2 719.7,377.5 721.4,377.9 723.2,378.2 724.9,378.4 726.7,378.6 728.4,378.8 730.2,379.0 732.0,379.1 733.7,379.2 735.5,379.3 737.3,379.3 739.0,379.4 740.8,379.4 742.6,379.4" fill="none" stroke="#f07028" stroke-width="4.6" stroke-linecap="round" stroke-linejoin="round"/>
<circle cx="751.2" cy="376.8" r="8" fill="url(#gKnob)" stroke="#24160e" stroke-width="1.7"/>
<circle cx="745.1" cy="393.2" r="8" fill="url(#gKnob)" stroke="#24160e" stroke-width="1.7"/>
<circle cx="747.1" cy="381.9" r="8.6" fill="url(#gKnob)" stroke="#24160e" stroke-width="1.7"/>
<polyline points="418.2,512.1 417.4,513.7 416.7,515.3 415.9,516.9 415.1,518.6 414.4,520.2 413.7,521.8 413.0,523.5 412.4,525.2 411.7,526.8 411.1,528.5 410.6,530.2 410.1,531.9 409.6,533.7 409.1,535.4 408.6,537.1 408.2,538.9 407.8,540.7 407.4,542.4 407.1,544.2 406.7,546.0" fill="none" stroke="#111" stroke-width="7.4" stroke-linecap="round" stroke-linejoin="round"/>
<polyline points="418.2,512.1 417.4,513.7 416.7,515.3 415.9,516.9 415.1,518.6 414.4,520.2 413.7,521.8 413.0,523.5 412.4,525.2 411.7,526.8 411.1,528.5 410.6,530.2 410.1,531.9 409.6,533.7 409.1,535.4 408.6,537.1 408.2,538.9 407.8,540.7 407.4,542.4 407.1,544.2 406.7,546.0" fill="none" stroke="#f39440" stroke-width="4.6" stroke-linecap="round" stroke-linejoin="round"/>
<polyline points="424.2,514.3 423.3,515.9 422.4,517.5 421.5,519.1 420.7,520.6 419.8,522.2 419.0,523.8 418.2,525.5 417.4,527.1 416.7,528.7 416.0,530.4 415.3,532.0 414.7,533.7 414.1,535.4 413.5,537.1 413.0,538.8 412.4,540.5 411.9,542.2 411.4,543.9 410.9,545.7 410.4,547.4" fill="none" stroke="#111" stroke-width="7.4" stroke-linecap="round" stroke-linejoin="round"/>
<polyline points="424.2,514.3 423.3,515.9 422.4,517.5 421.5,519.1 420.7,520.6 419.8,522.2 419.0,523.8 418.2,525.5 417.4,527.1 416.7,528.7 416.0,530.4 415.3,532.0 414.7,533.7 414.1,535.4 413.5,537.1 413.0,538.8 412.4,540.5 411.9,542.2 411.4,543.9 410.9,545.7 410.4,547.4" fill="none" stroke="#f07028" stroke-width="4.6" stroke-linecap="round" stroke-linejoin="round"/>
<circle cx="394.6" cy="547" r="7.5" fill="url(#gKnob)" stroke="#24160e" stroke-width="1.7"/>
<circle cx="411" cy="555.2" r="7.5" fill="url(#gKnob)" stroke="#24160e" stroke-width="1.7"/>
<circle cx="406.9" cy="551.1" r="8.6" fill="url(#gKnob)" stroke="#24160e" stroke-width="1.7"/>
<polyline points="596.8,515.7 597.4,517.3 598.1,518.9 598.8,520.5 599.5,522.1 600.2,523.7 600.9,525.2 601.7,526.8 602.5,528.3 603.3,529.9 604.2,531.4 605.0,532.9 605.9,534.4 606.9,535.8 607.8,537.3 608.8,538.7 609.8,540.1 610.9,541.5 611.9,542.9 613.0,544.4 614.0,545.8" fill="none" stroke="#111" stroke-width="7.4" stroke-linecap="round" stroke-linejoin="round"/>
<polyline points="596.8,515.7 597.4,517.3 598.1,518.9 598.8,520.5 599.5,522.1 600.2,523.7 600.9,525.2 601.7,526.8 602.5,528.3 603.3,529.9 604.2,531.4 605.0,532.9 605.9,534.4 606.9,535.8 607.8,537.3 608.8,538.7 609.8,540.1 610.9,541.5 611.9,542.9 613.0,544.4 614.0,545.8" fill="none" stroke="#f39440" stroke-width="4.6" stroke-linecap="round" stroke-linejoin="round"/>
<polyline points="602.4,512.7 603.0,514.4 603.6,516.0 604.1,517.7 604.7,519.3 605.3,521.0 606.0,522.6 606.6,524.2 607.3,525.8 608.0,527.4 608.8,528.9 609.5,530.5 610.3,532.0 611.2,533.6 612.0,535.1 612.9,536.6 613.8,538.0 614.7,539.5 615.7,541.0 616.6,542.4 617.6,543.9" fill="none" stroke="#111" stroke-width="7.4" stroke-linecap="round" stroke-linejoin="round"/>
<polyline points="602.4,512.7 603.0,514.4 603.6,516.0 604.1,517.7 604.7,519.3 605.3,521.0 606.0,522.6 606.6,524.2 607.3,525.8 608.0,527.4 608.8,528.9 609.5,530.5 610.3,532.0 611.2,533.6 612.0,535.1 612.9,536.6 613.8,538.0 614.7,539.5 615.7,541.0 616.6,542.4 617.6,543.9" fill="none" stroke="#f07028" stroke-width="4.6" stroke-linecap="round" stroke-linejoin="round"/>
<circle cx="623.2" cy="548" r="8" fill="url(#gKnob)" stroke="#24160e" stroke-width="1.7"/>
<circle cx="607.8" cy="554.2" r="7.5" fill="url(#gKnob)" stroke="#24160e" stroke-width="1.7"/>
<circle cx="618" cy="549" r="8.6" fill="url(#gKnob)" stroke="#24160e" stroke-width="1.7"/>
<circle cx="510" cy="330" r="199" fill="#463a34" stroke="#000" stroke-width="2.4"/>
<g fill="#463a34" stroke="#000" stroke-width="2.4"><circle cx="709.8" cy="332.0" r="4.9"/><circle cx="709.3" cy="344.1" r="4.9"/><circle cx="708.1" cy="356.1" r="4.9"/><circle cx="706.2" cy="368.0" r="4.9"/><circle cx="703.5" cy="379.8" r="4.9"/><circle cx="700.1" cy="391.3" r="4.9"/><circle cx="696.1" cy="402.7" r="4.9"/><circle cx="691.4" cy="413.8" r="4.9"/><circle cx="686.0" cy="424.6" r="4.9"/><circle cx="679.9" cy="435.1" r="4.9"/><circle cx="673.3" cy="445.1" r="4.9"/><circle cx="666.0" cy="454.8" r="4.9"/><circle cx="658.2" cy="464.0" r="4.9"/><circle cx="649.9" cy="472.7" r="4.9"/><circle cx="641.0" cy="480.9" r="4.9"/><circle cx="631.6" cy="488.5" r="4.9"/><circle cx="621.8" cy="495.6" r="4.9"/><circle cx="611.6" cy="502.0" r="4.9"/><circle cx="601.1" cy="507.8" r="4.9"/><circle cx="590.2" cy="513.0" r="4.9"/><circle cx="579.0" cy="517.5" r="4.9"/><circle cx="567.5" cy="521.3" r="4.9"/><circle cx="555.9" cy="524.5" r="4.9"/><circle cx="544.0" cy="526.9" r="4.9"/><circle cx="532.1" cy="528.6" r="4.9"/><circle cx="520.1" cy="529.5" r="4.9"/><circle cx="508.0" cy="529.8" r="4.9"/><circle cx="495.9" cy="529.3" r="4.9"/><circle cx="483.9" cy="528.1" r="4.9"/><circle cx="472.0" cy="526.2" r="4.9"/><circle cx="460.2" cy="523.5" r="4.9"/><circle cx="448.7" cy="520.1" r="4.9"/><circle cx="437.3" cy="516.1" r="4.9"/><circle cx="426.2" cy="511.4" r="4.9"/><circle cx="415.4" cy="506.0" r="4.9"/><circle cx="404.9" cy="499.9" r="4.9"/><circle cx="394.9" cy="493.3" r="4.9"/><circle cx="385.2" cy="486.0" r="4.9"/><circle cx="376.0" cy="478.2" r="4.9"/><circle cx="367.3" cy="469.9" r="4.9"/><circle cx="359.1" cy="461.0" r="4.9"/><circle cx="351.5" cy="451.6" r="4.9"/><circle cx="344.4" cy="441.8" r="4.9"/><circle cx="338.0" cy="431.6" r="4.9"/><circle cx="332.2" cy="421.1" r="4.9"/><circle cx="327.0" cy="410.2" r="4.9"/><circle cx="322.5" cy="399.0" r="4.9"/><circle cx="318.7" cy="387.5" r="4.9"/><circle cx="315.5" cy="375.9" r="4.9"/><circle cx="313.1" cy="364.0" r="4.9"/><circle cx="311.4" cy="352.1" r="4.9"/><circle cx="310.5" cy="340.1" r="4.9"/><circle cx="310.2" cy="328.0" r="4.9"/><circle cx="310.7" cy="315.9" r="4.9"/><circle cx="311.9" cy="303.9" r="4.9"/><circle cx="313.8" cy="292.0" r="4.9"/><circle cx="316.5" cy="280.2" r="4.9"/><circle cx="319.9" cy="268.7" r="4.9"/><circle cx="323.9" cy="257.3" r="4.9"/><circle cx="328.6" cy="246.2" r="4.9"/><circle cx="334.0" cy="235.4" r="4.9"/><circle cx="340.1" cy="224.9" r="4.9"/><circle cx="346.7" cy="214.9" r="4.9"/><circle cx="354.0" cy="205.2" r="4.9"/><circle cx="361.8" cy="196.0" r="4.9"/><circle cx="370.1" cy="187.3" r="4.9"/><circle cx="379.0" cy="179.1" r="4.9"/><circle cx="388.4" cy="171.5" r="4.9"/><circle cx="398.2" cy="164.4" r="4.9"/><circle cx="408.4" cy="158.0" r="4.9"/><circle cx="418.9" cy="152.2" r="4.9"/><circle cx="429.8" cy="147.0" r="4.9"/><circle cx="441.0" cy="142.5" r="4.9"/><circle cx="452.5" cy="138.7" r="4.9"/><circle cx="464.1" cy="135.5" r="4.9"/><circle cx="476.0" cy="133.1" r="4.9"/><circle cx="487.9" cy="131.4" r="4.9"/><circle cx="499.9" cy="130.5" r="4.9"/><circle cx="512.0" cy="130.2" r="4.9"/><circle cx="524.1" cy="130.7" r="4.9"/><circle cx="536.1" cy="131.9" r="4.9"/><circle cx="548.0" cy="133.8" r="4.9"/><circle cx="559.8" cy="136.5" r="4.9"/><circle cx="571.3" cy="139.9" r="4.9"/><circle cx="582.7" cy="143.9" r="4.9"/><circle cx="593.8" cy="148.6" r="4.9"/><circle cx="604.6" cy="154.0" r="4.9"/><circle cx="615.1" cy="160.1" r="4.9"/><circle cx="625.1" cy="166.7" r="4.9"/><circle cx="634.8" cy="174.0" r="4.9"/><circle cx="644.0" cy="181.8" r="4.9"/><circle cx="652.7" cy="190.1" r="4.9"/><circle cx="660.9" cy="199.0" r="4.9"/><circle cx="668.5" cy="208.4" r="4.9"/><circle cx="675.6" cy="218.2" r="4.9"/><circle cx="682.0" cy="228.4" r="4.9"/><circle cx="687.8" cy="238.9" r="4.9"/><circle cx="693.0" cy="249.8" r="4.9"/><circle cx="697.5" cy="261.0" r="4.9"/><circle cx="701.3" cy="272.5" r="4.9"/><circle cx="704.5" cy="284.1" r="4.9"/><circle cx="706.9" cy="296.0" r="4.9"/><circle cx="708.6" cy="307.9" r="4.9"/><circle cx="709.5" cy="319.9" r="4.9"/></g>
<g fill="#463a34"><circle cx="709.8" cy="332.0" r="3.7"/><circle cx="709.3" cy="344.1" r="3.7"/><circle cx="708.1" cy="356.1" r="3.7"/><circle cx="706.2" cy="368.0" r="3.7"/><circle cx="703.5" cy="379.8" r="3.7"/><circle cx="700.1" cy="391.3" r="3.7"/><circle cx="696.1" cy="402.7" r="3.7"/><circle cx="691.4" cy="413.8" r="3.7"/><circle cx="686.0" cy="424.6" r="3.7"/><circle cx="679.9" cy="435.1" r="3.7"/><circle cx="673.3" cy="445.1" r="3.7"/><circle cx="666.0" cy="454.8" r="3.7"/><circle cx="658.2" cy="464.0" r="3.7"/><circle cx="649.9" cy="472.7" r="3.7"/><circle cx="641.0" cy="480.9" r="3.7"/><circle cx="631.6" cy="488.5" r="3.7"/><circle cx="621.8" cy="495.6" r="3.7"/><circle cx="611.6" cy="502.0" r="3.7"/><circle cx="601.1" cy="507.8" r="3.7"/><circle cx="590.2" cy="513.0" r="3.7"/><circle cx="579.0" cy="517.5" r="3.7"/><circle cx="567.5" cy="521.3" r="3.7"/><circle cx="555.9" cy="524.5" r="3.7"/><circle cx="544.0" cy="526.9" r="3.7"/><circle cx="532.1" cy="528.6" r="3.7"/><circle cx="520.1" cy="529.5" r="3.7"/><circle cx="508.0" cy="529.8" r="3.7"/><circle cx="495.9" cy="529.3" r="3.7"/><circle cx="483.9" cy="528.1" r="3.7"/><circle cx="472.0" cy="526.2" r="3.7"/><circle cx="460.2" cy="523.5" r="3.7"/><circle cx="448.7" cy="520.1" r="3.7"/><circle cx="437.3" cy="516.1" r="3.7"/><circle cx="426.2" cy="511.4" r="3.7"/><circle cx="415.4" cy="506.0" r="3.7"/><circle cx="404.9" cy="499.9" r="3.7"/><circle cx="394.9" cy="493.3" r="3.7"/><circle cx="385.2" cy="486.0" r="3.7"/><circle cx="376.0" cy="478.2" r="3.7"/><circle cx="367.3" cy="469.9" r="3.7"/><circle cx="359.1" cy="461.0" r="3.7"/><circle cx="351.5" cy="451.6" r="3.7"/><circle cx="344.4" cy="441.8" r="3.7"/><circle cx="338.0" cy="431.6" r="3.7"/><circle cx="332.2" cy="421.1" r="3.7"/><circle cx="327.0" cy="410.2" r="3.7"/><circle cx="322.5" cy="399.0" r="3.7"/><circle cx="318.7" cy="387.5" r="3.7"/><circle cx="315.5" cy="375.9" r="3.7"/><circle cx="313.1" cy="364.0" r="3.7"/><circle cx="311.4" cy="352.1" r="3.7"/><circle cx="310.5" cy="340.1" r="3.7"/><circle cx="310.2" cy="328.0" r="3.7"/><circle cx="310.7" cy="315.9" r="3.7"/><circle cx="311.9" cy="303.9" r="3.7"/><circle cx="313.8" cy="292.0" r="3.7"/><circle cx="316.5" cy="280.2" r="3.7"/><circle cx="319.9" cy="268.7" r="3.7"/><circle cx="323.9" cy="257.3" r="3.7"/><circle cx="328.6" cy="246.2" r="3.7"/><circle cx="334.0" cy="235.4" r="3.7"/><circle cx="340.1" cy="224.9" r="3.7"/><circle cx="346.7" cy="214.9" r="3.7"/><circle cx="354.0" cy="205.2" r="3.7"/><circle cx="361.8" cy="196.0" r="3.7"/><circle cx="370.1" cy="187.3" r="3.7"/><circle cx="379.0" cy="179.1" r="3.7"/><circle cx="388.4" cy="171.5" r="3.7"/><circle cx="398.2" cy="164.4" r="3.7"/><circle cx="408.4" cy="158.0" r="3.7"/><circle cx="418.9" cy="152.2" r="3.7"/><circle cx="429.8" cy="147.0" r="3.7"/><circle cx="441.0" cy="142.5" r="3.7"/><circle cx="452.5" cy="138.7" r="3.7"/><circle cx="464.1" cy="135.5" r="3.7"/><circle cx="476.0" cy="133.1" r="3.7"/><circle cx="487.9" cy="131.4" r="3.7"/><circle cx="499.9" cy="130.5" r="3.7"/><circle cx="512.0" cy="130.2" r="3.7"/><circle cx="524.1" cy="130.7" r="3.7"/><circle cx="536.1" cy="131.9" r="3.7"/><circle cx="548.0" cy="133.8" r="3.7"/><circle cx="559.8" cy="136.5" r="3.7"/><circle cx="571.3" cy="139.9" r="3.7"/><circle cx="582.7" cy="143.9" r="3.7"/><circle cx="593.8" cy="148.6" r="3.7"/><circle cx="604.6" cy="154.0" r="3.7"/><circle cx="615.1" cy="160.1" r="3.7"/><circle cx="625.1" cy="166.7" r="3.7"/><circle cx="634.8" cy="174.0" r="3.7"/><circle cx="644.0" cy="181.8" r="3.7"/><circle cx="652.7" cy="190.1" r="3.7"/><circle cx="660.9" cy="199.0" r="3.7"/><circle cx="668.5" cy="208.4" r="3.7"/><circle cx="675.6" cy="218.2" r="3.7"/><circle cx="682.0" cy="228.4" r="3.7"/><circle cx="687.8" cy="238.9" r="3.7"/><circle cx="693.0" cy="249.8" r="3.7"/><circle cx="697.5" cy="261.0" r="3.7"/><circle cx="701.3" cy="272.5" r="3.7"/><circle cx="704.5" cy="284.1" r="3.7"/><circle cx="706.9" cy="296.0" r="3.7"/><circle cx="708.6" cy="307.9" r="3.7"/><circle cx="709.5" cy="319.9" r="3.7"/></g>
<circle cx="510" cy="330" r="197.8" fill="#463a34"/>
<circle cx="510" cy="330" r="197" fill="url(#gMat)"/>
<circle cx="510" cy="330" r="192.5" fill="none" stroke="#463a34" stroke-width="10"/>
<g fill="none" stroke="#76644f" stroke-linecap="round"><path d="M705.5,332.0 C701.0,333.7 698.0,330.1 693.2,331.8" stroke-width="5.4"/><path d="M705.0,343.8 C700.4,345.2 697.7,341.4 692.7,342.9" stroke-width="5.4"/><path d="M703.8,355.5 C699.1,356.7 696.6,352.7 691.6,353.9" stroke-width="5.4"/><path d="M701.9,367.2 C697.2,368.1 694.9,364.0 689.9,364.8" stroke-width="5.4"/><path d="M699.3,378.7 C694.5,379.3 692.5,375.1 687.4,375.6" stroke-width="5.4"/><path d="M696.1,390.0 C691.2,390.4 689.5,386.0 684.4,386.2" stroke-width="5.4"/><path d="M692.1,401.1 C687.2,401.2 685.8,396.7 680.6,396.7" stroke-width="5.4"/><path d="M687.5,412.0 C682.6,411.8 681.4,407.2 676.3,406.9" stroke-width="5.4"/><path d="M682.2,422.6 C677.4,422.0 676.4,417.4 671.4,416.8" stroke-width="5.4"/><path d="M676.3,432.8 C671.5,432.0 670.9,427.3 665.8,426.3" stroke-width="5.4"/><path d="M669.8,442.7 C665.1,441.5 664.7,436.9 659.7,435.6" stroke-width="5.4"/><path d="M662.7,452.1 C658.0,450.7 657.9,446.0 653.1,444.4" stroke-width="5.4"/><path d="M655.0,461.1 C650.5,459.4 650.7,454.7 645.9,452.8" stroke-width="5.4"/><path d="M646.9,469.6 C642.4,467.7 642.9,463.0 638.2,460.8" stroke-width="5.4"/><path d="M638.2,477.6 C633.9,475.4 634.6,470.8 630.1,468.3" stroke-width="5.4"/><path d="M629.0,485.1 C624.9,482.6 625.9,478.0 621.5,475.3" stroke-width="5.4"/><path d="M619.4,492.0 C615.4,489.3 616.7,484.8 612.6,481.8" stroke-width="5.4"/><path d="M609.5,498.3 C605.6,495.3 607.2,490.9 603.2,487.7" stroke-width="5.4"/><path d="M599.1,504.0 C595.5,500.8 597.3,496.5 593.5,493.1" stroke-width="5.4"/><path d="M588.4,509.1 C585.0,505.7 587.1,501.5 583.5,497.8" stroke-width="5.4"/><path d="M577.5,513.5 C574.3,509.9 576.6,505.8 573.2,501.9" stroke-width="5.4"/><path d="M566.3,517.2 C563.3,513.4 565.9,509.5 562.8,505.4" stroke-width="5.4"/><path d="M554.9,520.3 C552.1,516.3 554.9,512.6 552.1,508.3" stroke-width="5.4"/><path d="M543.3,522.6 C540.8,518.5 543.8,514.9 541.2,510.5" stroke-width="5.4"/><path d="M531.6,524.3 C529.3,520.0 532.6,516.6 530.3,512.1" stroke-width="5.4"/><path d="M519.9,525.3 C517.8,520.8 521.3,517.7 519.2,513.0" stroke-width="5.4"/><path d="M508.0,525.5 C506.3,521.0 509.9,518.0 508.2,513.2" stroke-width="5.4"/><path d="M496.2,525.0 C494.8,520.4 498.6,517.7 497.1,512.7" stroke-width="5.4"/><path d="M484.5,523.8 C483.3,519.1 487.3,516.6 486.1,511.6" stroke-width="5.4"/><path d="M472.8,521.9 C471.9,517.2 476.0,514.9 475.2,509.9" stroke-width="5.4"/><path d="M461.3,519.3 C460.7,514.5 464.9,512.5 464.4,507.4" stroke-width="5.4"/><path d="M450.0,516.1 C449.6,511.2 454.0,509.5 453.8,504.4" stroke-width="5.4"/><path d="M438.9,512.1 C438.8,507.2 443.3,505.8 443.3,500.6" stroke-width="5.4"/><path d="M428.0,507.5 C428.2,502.6 432.8,501.4 433.1,496.3" stroke-width="5.4"/><path d="M417.4,502.2 C418.0,497.4 422.6,496.4 423.2,491.4" stroke-width="5.4"/><path d="M407.2,496.3 C408.0,491.5 412.7,490.9 413.7,485.8" stroke-width="5.4"/><path d="M397.3,489.8 C398.5,485.1 403.1,484.7 404.4,479.7" stroke-width="5.4"/><path d="M387.9,482.7 C389.3,478.0 394.0,477.9 395.6,473.1" stroke-width="5.4"/><path d="M378.9,475.0 C380.6,470.5 385.3,470.7 387.2,465.9" stroke-width="5.4"/><path d="M370.4,466.9 C372.3,462.4 377.0,462.9 379.2,458.2" stroke-width="5.4"/><path d="M362.4,458.2 C364.6,453.9 369.2,454.6 371.7,450.1" stroke-width="5.4"/><path d="M354.9,449.0 C357.4,444.9 362.0,445.9 364.7,441.5" stroke-width="5.4"/><path d="M348.0,439.4 C350.7,435.4 355.2,436.7 358.2,432.6" stroke-width="5.4"/><path d="M341.7,429.5 C344.7,425.6 349.1,427.2 352.3,423.2" stroke-width="5.4"/><path d="M336.0,419.1 C339.2,415.5 343.5,417.3 346.9,413.5" stroke-width="5.4"/><path d="M330.9,408.4 C334.3,405.0 338.5,407.1 342.2,403.5" stroke-width="5.4"/><path d="M326.5,397.5 C330.1,394.3 334.2,396.6 338.1,393.2" stroke-width="5.4"/><path d="M322.8,386.3 C326.6,383.3 330.5,385.9 334.6,382.8" stroke-width="5.4"/><path d="M319.7,374.9 C323.7,372.1 327.4,374.9 331.7,372.1" stroke-width="5.4"/><path d="M317.4,363.3 C321.5,360.8 325.1,363.8 329.5,361.2" stroke-width="5.4"/><path d="M315.7,351.6 C320.0,349.3 323.4,352.6 327.9,350.3" stroke-width="5.4"/><path d="M314.7,339.9 C319.2,337.8 322.3,341.3 327.0,339.2" stroke-width="5.4"/><path d="M314.5,328.0 C319.0,326.3 322.0,329.9 326.8,328.2" stroke-width="5.4"/><path d="M315.0,316.2 C319.6,314.8 322.3,318.6 327.3,317.1" stroke-width="5.4"/><path d="M316.2,304.5 C320.9,303.3 323.4,307.3 328.4,306.1" stroke-width="5.4"/><path d="M318.1,292.8 C322.8,291.9 325.1,296.0 330.1,295.2" stroke-width="5.4"/><path d="M320.7,281.3 C325.5,280.7 327.5,284.9 332.6,284.4" stroke-width="5.4"/><path d="M323.9,270.0 C328.8,269.6 330.5,274.0 335.6,273.8" stroke-width="5.4"/><path d="M327.9,258.9 C332.8,258.8 334.2,263.3 339.4,263.3" stroke-width="5.4"/><path d="M332.5,248.0 C337.4,248.2 338.6,252.8 343.7,253.1" stroke-width="5.4"/><path d="M337.8,237.4 C342.6,238.0 343.6,242.6 348.6,243.2" stroke-width="5.4"/><path d="M343.7,227.2 C348.5,228.0 349.1,232.7 354.2,233.7" stroke-width="5.4"/><path d="M350.2,217.3 C354.9,218.5 355.3,223.1 360.3,224.4" stroke-width="5.4"/><path d="M357.3,207.9 C362.0,209.3 362.1,214.0 366.9,215.6" stroke-width="5.4"/><path d="M365.0,198.9 C369.5,200.6 369.3,205.3 374.1,207.2" stroke-width="5.4"/><path d="M373.1,190.4 C377.6,192.3 377.1,197.0 381.8,199.2" stroke-width="5.4"/><path d="M381.8,182.4 C386.1,184.6 385.4,189.2 389.9,191.7" stroke-width="5.4"/><path d="M391.0,174.9 C395.1,177.4 394.1,182.0 398.5,184.7" stroke-width="5.4"/><path d="M400.6,168.0 C404.6,170.7 403.3,175.2 407.4,178.2" stroke-width="5.4"/><path d="M410.5,161.7 C414.4,164.7 412.8,169.1 416.8,172.3" stroke-width="5.4"/><path d="M420.9,156.0 C424.5,159.2 422.7,163.5 426.5,166.9" stroke-width="5.4"/><path d="M431.6,150.9 C435.0,154.3 432.9,158.5 436.5,162.2" stroke-width="5.4"/><path d="M442.5,146.5 C445.7,150.1 443.4,154.2 446.8,158.1" stroke-width="5.4"/><path d="M453.7,142.8 C456.7,146.6 454.1,150.5 457.2,154.6" stroke-width="5.4"/><path d="M465.1,139.7 C467.9,143.7 465.1,147.4 467.9,151.7" stroke-width="5.4"/><path d="M476.7,137.4 C479.2,141.5 476.2,145.1 478.8,149.5" stroke-width="5.4"/><path d="M488.4,135.7 C490.7,140.0 487.4,143.4 489.7,147.9" stroke-width="5.4"/><path d="M500.1,134.7 C502.2,139.2 498.7,142.3 500.8,147.0" stroke-width="5.4"/><path d="M512.0,134.5 C513.7,139.0 510.1,142.0 511.8,146.8" stroke-width="5.4"/><path d="M523.8,135.0 C525.2,139.6 521.4,142.3 522.9,147.3" stroke-width="5.4"/><path d="M535.5,136.2 C536.7,140.9 532.7,143.4 533.9,148.4" stroke-width="5.4"/><path d="M547.2,138.1 C548.1,142.8 544.0,145.1 544.8,150.1" stroke-width="5.4"/><path d="M558.7,140.7 C559.3,145.5 555.1,147.5 555.6,152.6" stroke-width="5.4"/><path d="M570.0,143.9 C570.4,148.8 566.0,150.5 566.2,155.6" stroke-width="5.4"/><path d="M581.1,147.9 C581.2,152.8 576.7,154.2 576.7,159.4" stroke-width="5.4"/><path d="M592.0,152.5 C591.8,157.4 587.2,158.6 586.9,163.7" stroke-width="5.4"/><path d="M602.6,157.8 C602.0,162.6 597.4,163.6 596.8,168.6" stroke-width="5.4"/><path d="M612.8,163.7 C612.0,168.5 607.3,169.1 606.3,174.2" stroke-width="5.4"/><path d="M622.7,170.2 C621.5,174.9 616.9,175.3 615.6,180.3" stroke-width="5.4"/><path d="M632.1,177.3 C630.7,182.0 626.0,182.1 624.4,186.9" stroke-width="5.4"/><path d="M641.1,185.0 C639.4,189.5 634.7,189.3 632.8,194.1" stroke-width="5.4"/><path d="M649.6,193.1 C647.7,197.6 643.0,197.1 640.8,201.8" stroke-width="5.4"/><path d="M657.6,201.8 C655.4,206.1 650.8,205.4 648.3,209.9" stroke-width="5.4"/><path d="M665.1,211.0 C662.6,215.1 658.0,214.1 655.3,218.5" stroke-width="5.4"/><path d="M672.0,220.6 C669.3,224.6 664.8,223.3 661.8,227.4" stroke-width="5.4"/><path d="M678.3,230.5 C675.3,234.4 670.9,232.8 667.7,236.8" stroke-width="5.4"/><path d="M684.0,240.9 C680.8,244.5 676.5,242.7 673.1,246.5" stroke-width="5.4"/><path d="M689.1,251.6 C685.7,255.0 681.5,252.9 677.8,256.5" stroke-width="5.4"/><path d="M693.5,262.5 C689.9,265.7 685.8,263.4 681.9,266.8" stroke-width="5.4"/><path d="M697.2,273.7 C693.4,276.7 689.5,274.1 685.4,277.2" stroke-width="5.4"/><path d="M700.3,285.1 C696.3,287.9 692.6,285.1 688.3,287.9" stroke-width="5.4"/><path d="M702.6,296.7 C698.5,299.2 694.9,296.2 690.5,298.8" stroke-width="5.4"/><path d="M704.3,308.4 C700.0,310.7 696.6,307.4 692.1,309.7" stroke-width="5.4"/><path d="M705.3,320.1 C700.8,322.2 697.7,318.7 693.0,320.8" stroke-width="5.4"/></g><g fill="#76644f"><circle cx="693.2" cy="331.8" r="5.4"/><circle cx="705.5" cy="332.0" r="5.2"/><circle cx="692.7" cy="342.9" r="5.4"/><circle cx="705.0" cy="343.8" r="5.2"/><circle cx="691.6" cy="353.9" r="5.4"/><circle cx="703.8" cy="355.5" r="5.2"/><circle cx="689.9" cy="364.8" r="5.4"/><circle cx="701.9" cy="367.2" r="5.2"/><circle cx="687.4" cy="375.6" r="5.4"/><circle cx="699.3" cy="378.7" r="5.2"/><circle cx="684.4" cy="386.2" r="5.4"/><circle cx="696.1" cy="390.0" r="5.2"/><circle cx="680.6" cy="396.7" r="5.4"/><circle cx="692.1" cy="401.1" r="5.2"/><circle cx="676.3" cy="406.9" r="5.4"/><circle cx="687.5" cy="412.0" r="5.2"/><circle cx="671.4" cy="416.8" r="5.4"/><circle cx="682.2" cy="422.6" r="5.2"/><circle cx="665.8" cy="426.3" r="5.4"/><circle cx="676.3" cy="432.8" r="5.2"/><circle cx="659.7" cy="435.6" r="5.4"/><circle cx="669.8" cy="442.7" r="5.2"/><circle cx="653.1" cy="444.4" r="5.4"/><circle cx="662.7" cy="452.1" r="5.2"/><circle cx="645.9" cy="452.8" r="5.4"/><circle cx="655.0" cy="461.1" r="5.2"/><circle cx="638.2" cy="460.8" r="5.4"/><circle cx="646.9" cy="469.6" r="5.2"/><circle cx="630.1" cy="468.3" r="5.4"/><circle cx="638.2" cy="477.6" r="5.2"/><circle cx="621.5" cy="475.3" r="5.4"/><circle cx="629.0" cy="485.1" r="5.2"/><circle cx="612.6" cy="481.8" r="5.4"/><circle cx="619.4" cy="492.0" r="5.2"/><circle cx="603.2" cy="487.7" r="5.4"/><circle cx="609.5" cy="498.3" r="5.2"/><circle cx="593.5" cy="493.1" r="5.4"/><circle cx="599.1" cy="504.0" r="5.2"/><circle cx="583.5" cy="497.8" r="5.4"/><circle cx="588.4" cy="509.1" r="5.2"/><circle cx="573.2" cy="501.9" r="5.4"/><circle cx="577.5" cy="513.5" r="5.2"/><circle cx="562.8" cy="505.4" r="5.4"/><circle cx="566.3" cy="517.2" r="5.2"/><circle cx="552.1" cy="508.3" r="5.4"/><circle cx="554.9" cy="520.3" r="5.2"/><circle cx="541.2" cy="510.5" r="5.4"/><circle cx="543.3" cy="522.6" r="5.2"/><circle cx="530.3" cy="512.1" r="5.4"/><circle cx="531.6" cy="524.3" r="5.2"/><circle cx="519.2" cy="513.0" r="5.4"/><circle cx="519.9" cy="525.3" r="5.2"/><circle cx="508.2" cy="513.2" r="5.4"/><circle cx="508.0" cy="525.5" r="5.2"/><circle cx="497.1" cy="512.7" r="5.4"/><circle cx="496.2" cy="525.0" r="5.2"/><circle cx="486.1" cy="511.6" r="5.4"/><circle cx="484.5" cy="523.8" r="5.2"/><circle cx="475.2" cy="509.9" r="5.4"/><circle cx="472.8" cy="521.9" r="5.2"/><circle cx="464.4" cy="507.4" r="5.4"/><circle cx="461.3" cy="519.3" r="5.2"/><circle cx="453.8" cy="504.4" r="5.4"/><circle cx="450.0" cy="516.1" r="5.2"/><circle cx="443.3" cy="500.6" r="5.4"/><circle cx="438.9" cy="512.1" r="5.2"/><circle cx="433.1" cy="496.3" r="5.4"/><circle cx="428.0" cy="507.5" r="5.2"/><circle cx="423.2" cy="491.4" r="5.4"/><circle cx="417.4" cy="502.2" r="5.2"/><circle cx="413.7" cy="485.8" r="5.4"/><circle cx="407.2" cy="496.3" r="5.2"/><circle cx="404.4" cy="479.7" r="5.4"/><circle cx="397.3" cy="489.8" r="5.2"/><circle cx="395.6" cy="473.1" r="5.4"/><circle cx="387.9" cy="482.7" r="5.2"/><circle cx="387.2" cy="465.9" r="5.4"/><circle cx="378.9" cy="475.0" r="5.2"/><circle cx="379.2" cy="458.2" r="5.4"/><circle cx="370.4" cy="466.9" r="5.2"/><circle cx="371.7" cy="450.1" r="5.4"/><circle cx="362.4" cy="458.2" r="5.2"/><circle cx="364.7" cy="441.5" r="5.4"/><circle cx="354.9" cy="449.0" r="5.2"/><circle cx="358.2" cy="432.6" r="5.4"/><circle cx="348.0" cy="439.4" r="5.2"/><circle cx="352.3" cy="423.2" r="5.4"/><circle cx="341.7" cy="429.5" r="5.2"/><circle cx="346.9" cy="413.5" r="5.4"/><circle cx="336.0" cy="419.1" r="5.2"/><circle cx="342.2" cy="403.5" r="5.4"/><circle cx="330.9" cy="408.4" r="5.2"/><circle cx="338.1" cy="393.2" r="5.4"/><circle cx="326.5" cy="397.5" r="5.2"/><circle cx="334.6" cy="382.8" r="5.4"/><circle cx="322.8" cy="386.3" r="5.2"/><circle cx="331.7" cy="372.1" r="5.4"/><circle cx="319.7" cy="374.9" r="5.2"/><circle cx="329.5" cy="361.2" r="5.4"/><circle cx="317.4" cy="363.3" r="5.2"/><circle cx="327.9" cy="350.3" r="5.4"/><circle cx="315.7" cy="351.6" r="5.2"/><circle cx="327.0" cy="339.2" r="5.4"/><circle cx="314.7" cy="339.9" r="5.2"/><circle cx="326.8" cy="328.2" r="5.4"/><circle cx="314.5" cy="328.0" r="5.2"/><circle cx="327.3" cy="317.1" r="5.4"/><circle cx="315.0" cy="316.2" r="5.2"/><circle cx="328.4" cy="306.1" r="5.4"/><circle cx="316.2" cy="304.5" r="5.2"/><circle cx="330.1" cy="295.2" r="5.4"/><circle cx="318.1" cy="292.8" r="5.2"/><circle cx="332.6" cy="284.4" r="5.4"/><circle cx="320.7" cy="281.3" r="5.2"/><circle cx="335.6" cy="273.8" r="5.4"/><circle cx="323.9" cy="270.0" r="5.2"/><circle cx="339.4" cy="263.3" r="5.4"/><circle cx="327.9" cy="258.9" r="5.2"/><circle cx="343.7" cy="253.1" r="5.4"/><circle cx="332.5" cy="248.0" r="5.2"/><circle cx="348.6" cy="243.2" r="5.4"/><circle cx="337.8" cy="237.4" r="5.2"/><circle cx="354.2" cy="233.7" r="5.4"/><circle cx="343.7" cy="227.2" r="5.2"/><circle cx="360.3" cy="224.4" r="5.4"/><circle cx="350.2" cy="217.3" r="5.2"/><circle cx="366.9" cy="215.6" r="5.4"/><circle cx="357.3" cy="207.9" r="5.2"/><circle cx="374.1" cy="207.2" r="5.4"/><circle cx="365.0" cy="198.9" r="5.2"/><circle cx="381.8" cy="199.2" r="5.4"/><circle cx="373.1" cy="190.4" r="5.2"/><circle cx="389.9" cy="191.7" r="5.4"/><circle cx="381.8" cy="182.4" r="5.2"/><circle cx="398.5" cy="184.7" r="5.4"/><circle cx="391.0" cy="174.9" r="5.2"/><circle cx="407.4" cy="178.2" r="5.4"/><circle cx="400.6" cy="168.0" r="5.2"/><circle cx="416.8" cy="172.3" r="5.4"/><circle cx="410.5" cy="161.7" r="5.2"/><circle cx="426.5" cy="166.9" r="5.4"/><circle cx="420.9" cy="156.0" r="5.2"/><circle cx="436.5" cy="162.2" r="5.4"/><circle cx="431.6" cy="150.9" r="5.2"/><circle cx="446.8" cy="158.1" r="5.4"/><circle cx="442.5" cy="146.5" r="5.2"/><circle cx="457.2" cy="154.6" r="5.4"/><circle cx="453.7" cy="142.8" r="5.2"/><circle cx="467.9" cy="151.7" r="5.4"/><circle cx="465.1" cy="139.7" r="5.2"/><circle cx="478.8" cy="149.5" r="5.4"/><circle cx="476.7" cy="137.4" r="5.2"/><circle cx="489.7" cy="147.9" r="5.4"/><circle cx="488.4" cy="135.7" r="5.2"/><circle cx="500.8" cy="147.0" r="5.4"/><circle cx="500.1" cy="134.7" r="5.2"/><circle cx="511.8" cy="146.8" r="5.4"/><circle cx="512.0" cy="134.5" r="5.2"/><circle cx="522.9" cy="147.3" r="5.4"/><circle cx="523.8" cy="135.0" r="5.2"/><circle cx="533.9" cy="148.4" r="5.4"/><circle cx="535.5" cy="136.2" r="5.2"/><circle cx="544.8" cy="150.1" r="5.4"/><circle cx="547.2" cy="138.1" r="5.2"/><circle cx="555.6" cy="152.6" r="5.4"/><circle cx="558.7" cy="140.7" r="5.2"/><circle cx="566.2" cy="155.6" r="5.4"/><circle cx="570.0" cy="143.9" r="5.2"/><circle cx="576.7" cy="159.4" r="5.4"/><circle cx="581.1" cy="147.9" r="5.2"/><circle cx="586.9" cy="163.7" r="5.4"/><circle cx="592.0" cy="152.5" r="5.2"/><circle cx="596.8" cy="168.6" r="5.4"/><circle cx="602.6" cy="157.8" r="5.2"/><circle cx="606.3" cy="174.2" r="5.4"/><circle cx="612.8" cy="163.7" r="5.2"/><circle cx="615.6" cy="180.3" r="5.4"/><circle cx="622.7" cy="170.2" r="5.2"/><circle cx="624.4" cy="186.9" r="5.4"/><circle cx="632.1" cy="177.3" r="5.2"/><circle cx="632.8" cy="194.1" r="5.4"/><circle cx="641.1" cy="185.0" r="5.2"/><circle cx="640.8" cy="201.8" r="5.4"/><circle cx="649.6" cy="193.1" r="5.2"/><circle cx="648.3" cy="209.9" r="5.4"/><circle cx="657.6" cy="201.8" r="5.2"/><circle cx="655.3" cy="218.5" r="5.4"/><circle cx="665.1" cy="211.0" r="5.2"/><circle cx="661.8" cy="227.4" r="5.4"/><circle cx="672.0" cy="220.6" r="5.2"/><circle cx="667.7" cy="236.8" r="5.4"/><circle cx="678.3" cy="230.5" r="5.2"/><circle cx="673.1" cy="246.5" r="5.4"/><circle cx="684.0" cy="240.9" r="5.2"/><circle cx="677.8" cy="256.5" r="5.4"/><circle cx="689.1" cy="251.6" r="5.2"/><circle cx="681.9" cy="266.8" r="5.4"/><circle cx="693.5" cy="262.5" r="5.2"/><circle cx="685.4" cy="277.2" r="5.4"/><circle cx="697.2" cy="273.7" r="5.2"/><circle cx="688.3" cy="287.9" r="5.4"/><circle cx="700.3" cy="285.1" r="5.2"/><circle cx="690.5" cy="298.8" r="5.4"/><circle cx="702.6" cy="296.7" r="5.2"/><circle cx="692.1" cy="309.7" r="5.4"/><circle cx="704.3" cy="308.4" r="5.2"/><circle cx="693.0" cy="320.8" r="5.4"/><circle cx="705.3" cy="320.1" r="5.2"/></g><g fill="none" stroke="#463a34" stroke-linecap="round"><path d="M705.5,332.0 C701.0,333.7 698.0,330.1 693.2,331.8" stroke-width="3.0"/><path d="M705.0,343.8 C700.4,345.2 697.7,341.4 692.7,342.9" stroke-width="3.0"/><path d="M703.8,355.5 C699.1,356.7 696.6,352.7 691.6,353.9" stroke-width="3.0"/><path d="M701.9,367.2 C697.2,368.1 694.9,364.0 689.9,364.8" stroke-width="3.0"/><path d="M699.3,378.7 C694.5,379.3 692.5,375.1 687.4,375.6" stroke-width="3.0"/><path d="M696.1,390.0 C691.2,390.4 689.5,386.0 684.4,386.2" stroke-width="3.0"/><path d="M692.1,401.1 C687.2,401.2 685.8,396.7 680.6,396.7" stroke-width="3.0"/><path d="M687.5,412.0 C682.6,411.8 681.4,407.2 676.3,406.9" stroke-width="3.0"/><path d="M682.2,422.6 C677.4,422.0 676.4,417.4 671.4,416.8" stroke-width="3.0"/><path d="M676.3,432.8 C671.5,432.0 670.9,427.3 665.8,426.3" stroke-width="3.0"/><path d="M669.8,442.7 C665.1,441.5 664.7,436.9 659.7,435.6" stroke-width="3.0"/><path d="M662.7,452.1 C658.0,450.7 657.9,446.0 653.1,444.4" stroke-width="3.0"/><path d="M655.0,461.1 C650.5,459.4 650.7,454.7 645.9,452.8" stroke-width="3.0"/><path d="M646.9,469.6 C642.4,467.7 642.9,463.0 638.2,460.8" stroke-width="3.0"/><path d="M638.2,477.6 C633.9,475.4 634.6,470.8 630.1,468.3" stroke-width="3.0"/><path d="M629.0,485.1 C624.9,482.6 625.9,478.0 621.5,475.3" stroke-width="3.0"/><path d="M619.4,492.0 C615.4,489.3 616.7,484.8 612.6,481.8" stroke-width="3.0"/><path d="M609.5,498.3 C605.6,495.3 607.2,490.9 603.2,487.7" stroke-width="3.0"/><path d="M599.1,504.0 C595.5,500.8 597.3,496.5 593.5,493.1" stroke-width="3.0"/><path d="M588.4,509.1 C585.0,505.7 587.1,501.5 583.5,497.8" stroke-width="3.0"/><path d="M577.5,513.5 C574.3,509.9 576.6,505.8 573.2,501.9" stroke-width="3.0"/><path d="M566.3,517.2 C563.3,513.4 565.9,509.5 562.8,505.4" stroke-width="3.0"/><path d="M554.9,520.3 C552.1,516.3 554.9,512.6 552.1,508.3" stroke-width="3.0"/><path d="M543.3,522.6 C540.8,518.5 543.8,514.9 541.2,510.5" stroke-width="3.0"/><path d="M531.6,524.3 C529.3,520.0 532.6,516.6 530.3,512.1" stroke-width="3.0"/><path d="M519.9,525.3 C517.8,520.8 521.3,517.7 519.2,513.0" stroke-width="3.0"/><path d="M508.0,525.5 C506.3,521.0 509.9,518.0 508.2,513.2" stroke-width="3.0"/><path d="M496.2,525.0 C494.8,520.4 498.6,517.7 497.1,512.7" stroke-width="3.0"/><path d="M484.5,523.8 C483.3,519.1 487.3,516.6 486.1,511.6" stroke-width="3.0"/><path d="M472.8,521.9 C471.9,517.2 476.0,514.9 475.2,509.9" stroke-width="3.0"/><path d="M461.3,519.3 C460.7,514.5 464.9,512.5 464.4,507.4" stroke-width="3.0"/><path d="M450.0,516.1 C449.6,511.2 454.0,509.5 453.8,504.4" stroke-width="3.0"/><path d="M438.9,512.1 C438.8,507.2 443.3,505.8 443.3,500.6" stroke-width="3.0"/><path d="M428.0,507.5 C428.2,502.6 432.8,501.4 433.1,496.3" stroke-width="3.0"/><path d="M417.4,502.2 C418.0,497.4 422.6,496.4 423.2,491.4" stroke-width="3.0"/><path d="M407.2,496.3 C408.0,491.5 412.7,490.9 413.7,485.8" stroke-width="3.0"/><path d="M397.3,489.8 C398.5,485.1 403.1,484.7 404.4,479.7" stroke-width="3.0"/><path d="M387.9,482.7 C389.3,478.0 394.0,477.9 395.6,473.1" stroke-width="3.0"/><path d="M378.9,475.0 C380.6,470.5 385.3,470.7 387.2,465.9" stroke-width="3.0"/><path d="M370.4,466.9 C372.3,462.4 377.0,462.9 379.2,458.2" stroke-width="3.0"/><path d="M362.4,458.2 C364.6,453.9 369.2,454.6 371.7,450.1" stroke-width="3.0"/><path d="M354.9,449.0 C357.4,444.9 362.0,445.9 364.7,441.5" stroke-width="3.0"/><path d="M348.0,439.4 C350.7,435.4 355.2,436.7 358.2,432.6" stroke-width="3.0"/><path d="M341.7,429.5 C344.7,425.6 349.1,427.2 352.3,423.2" stroke-width="3.0"/><path d="M336.0,419.1 C339.2,415.5 343.5,417.3 346.9,413.5" stroke-width="3.0"/><path d="M330.9,408.4 C334.3,405.0 338.5,407.1 342.2,403.5" stroke-width="3.0"/><path d="M326.5,397.5 C330.1,394.3 334.2,396.6 338.1,393.2" stroke-width="3.0"/><path d="M322.8,386.3 C326.6,383.3 330.5,385.9 334.6,382.8" stroke-width="3.0"/><path d="M319.7,374.9 C323.7,372.1 327.4,374.9 331.7,372.1" stroke-width="3.0"/><path d="M317.4,363.3 C321.5,360.8 325.1,363.8 329.5,361.2" stroke-width="3.0"/><path d="M315.7,351.6 C320.0,349.3 323.4,352.6 327.9,350.3" stroke-width="3.0"/><path d="M314.7,339.9 C319.2,337.8 322.3,341.3 327.0,339.2" stroke-width="3.0"/><path d="M314.5,328.0 C319.0,326.3 322.0,329.9 326.8,328.2" stroke-width="3.0"/><path d="M315.0,316.2 C319.6,314.8 322.3,318.6 327.3,317.1" stroke-width="3.0"/><path d="M316.2,304.5 C320.9,303.3 323.4,307.3 328.4,306.1" stroke-width="3.0"/><path d="M318.1,292.8 C322.8,291.9 325.1,296.0 330.1,295.2" stroke-width="3.0"/><path d="M320.7,281.3 C325.5,280.7 327.5,284.9 332.6,284.4" stroke-width="3.0"/><path d="M323.9,270.0 C328.8,269.6 330.5,274.0 335.6,273.8" stroke-width="3.0"/><path d="M327.9,258.9 C332.8,258.8 334.2,263.3 339.4,263.3" stroke-width="3.0"/><path d="M332.5,248.0 C337.4,248.2 338.6,252.8 343.7,253.1" stroke-width="3.0"/><path d="M337.8,237.4 C342.6,238.0 343.6,242.6 348.6,243.2" stroke-width="3.0"/><path d="M343.7,227.2 C348.5,228.0 349.1,232.7 354.2,233.7" stroke-width="3.0"/><path d="M350.2,217.3 C354.9,218.5 355.3,223.1 360.3,224.4" stroke-width="3.0"/><path d="M357.3,207.9 C362.0,209.3 362.1,214.0 366.9,215.6" stroke-width="3.0"/><path d="M365.0,198.9 C369.5,200.6 369.3,205.3 374.1,207.2" stroke-width="3.0"/><path d="M373.1,190.4 C377.6,192.3 377.1,197.0 381.8,199.2" stroke-width="3.0"/><path d="M381.8,182.4 C386.1,184.6 385.4,189.2 389.9,191.7" stroke-width="3.0"/><path d="M391.0,174.9 C395.1,177.4 394.1,182.0 398.5,184.7" stroke-width="3.0"/><path d="M400.6,168.0 C404.6,170.7 403.3,175.2 407.4,178.2" stroke-width="3.0"/><path d="M410.5,161.7 C414.4,164.7 412.8,169.1 416.8,172.3" stroke-width="3.0"/><path d="M420.9,156.0 C424.5,159.2 422.7,163.5 426.5,166.9" stroke-width="3.0"/><path d="M431.6,150.9 C435.0,154.3 432.9,158.5 436.5,162.2" stroke-width="3.0"/><path d="M442.5,146.5 C445.7,150.1 443.4,154.2 446.8,158.1" stroke-width="3.0"/><path d="M453.7,142.8 C456.7,146.6 454.1,150.5 457.2,154.6" stroke-width="3.0"/><path d="M465.1,139.7 C467.9,143.7 465.1,147.4 467.9,151.7" stroke-width="3.0"/><path d="M476.7,137.4 C479.2,141.5 476.2,145.1 478.8,149.5" stroke-width="3.0"/><path d="M488.4,135.7 C490.7,140.0 487.4,143.4 489.7,147.9" stroke-width="3.0"/><path d="M500.1,134.7 C502.2,139.2 498.7,142.3 500.8,147.0" stroke-width="3.0"/><path d="M512.0,134.5 C513.7,139.0 510.1,142.0 511.8,146.8" stroke-width="3.0"/><path d="M523.8,135.0 C525.2,139.6 521.4,142.3 522.9,147.3" stroke-width="3.0"/><path d="M535.5,136.2 C536.7,140.9 532.7,143.4 533.9,148.4" stroke-width="3.0"/><path d="M547.2,138.1 C548.1,142.8 544.0,145.1 544.8,150.1" stroke-width="3.0"/><path d="M558.7,140.7 C559.3,145.5 555.1,147.5 555.6,152.6" stroke-width="3.0"/><path d="M570.0,143.9 C570.4,148.8 566.0,150.5 566.2,155.6" stroke-width="3.0"/><path d="M581.1,147.9 C581.2,152.8 576.7,154.2 576.7,159.4" stroke-width="3.0"/><path d="M592.0,152.5 C591.8,157.4 587.2,158.6 586.9,163.7" stroke-width="3.0"/><path d="M602.6,157.8 C602.0,162.6 597.4,163.6 596.8,168.6" stroke-width="3.0"/><path d="M612.8,163.7 C612.0,168.5 607.3,169.1 606.3,174.2" stroke-width="3.0"/><path d="M622.7,170.2 C621.5,174.9 616.9,175.3 615.6,180.3" stroke-width="3.0"/><path d="M632.1,177.3 C630.7,182.0 626.0,182.1 624.4,186.9" stroke-width="3.0"/><path d="M641.1,185.0 C639.4,189.5 634.7,189.3 632.8,194.1" stroke-width="3.0"/><path d="M649.6,193.1 C647.7,197.6 643.0,197.1 640.8,201.8" stroke-width="3.0"/><path d="M657.6,201.8 C655.4,206.1 650.8,205.4 648.3,209.9" stroke-width="3.0"/><path d="M665.1,211.0 C662.6,215.1 658.0,214.1 655.3,218.5" stroke-width="3.0"/><path d="M672.0,220.6 C669.3,224.6 664.8,223.3 661.8,227.4" stroke-width="3.0"/><path d="M678.3,230.5 C675.3,234.4 670.9,232.8 667.7,236.8" stroke-width="3.0"/><path d="M684.0,240.9 C680.8,244.5 676.5,242.7 673.1,246.5" stroke-width="3.0"/><path d="M689.1,251.6 C685.7,255.0 681.5,252.9 677.8,256.5" stroke-width="3.0"/><path d="M693.5,262.5 C689.9,265.7 685.8,263.4 681.9,266.8" stroke-width="3.0"/><path d="M697.2,273.7 C693.4,276.7 689.5,274.1 685.4,277.2" stroke-width="3.0"/><path d="M700.3,285.1 C696.3,287.9 692.6,285.1 688.3,287.9" stroke-width="3.0"/><path d="M702.6,296.7 C698.5,299.2 694.9,296.2 690.5,298.8" stroke-width="3.0"/><path d="M704.3,308.4 C700.0,310.7 696.6,307.4 692.1,309.7" stroke-width="3.0"/><path d="M705.3,320.1 C700.8,322.2 697.7,318.7 693.0,320.8" stroke-width="3.0"/></g><g fill="#463a34"><circle cx="693.2" cy="331.8" r="4.2"/><circle cx="705.5" cy="332.0" r="4.0"/><circle cx="692.7" cy="342.9" r="4.2"/><circle cx="705.0" cy="343.8" r="4.0"/><circle cx="691.6" cy="353.9" r="4.2"/><circle cx="703.8" cy="355.5" r="4.0"/><circle cx="689.9" cy="364.8" r="4.2"/><circle cx="701.9" cy="367.2" r="4.0"/><circle cx="687.4" cy="375.6" r="4.2"/><circle cx="699.3" cy="378.7" r="4.0"/><circle cx="684.4" cy="386.2" r="4.2"/><circle cx="696.1" cy="390.0" r="4.0"/><circle cx="680.6" cy="396.7" r="4.2"/><circle cx="692.1" cy="401.1" r="4.0"/><circle cx="676.3" cy="406.9" r="4.2"/><circle cx="687.5" cy="412.0" r="4.0"/><circle cx="671.4" cy="416.8" r="4.2"/><circle cx="682.2" cy="422.6" r="4.0"/><circle cx="665.8" cy="426.3" r="4.2"/><circle cx="676.3" cy="432.8" r="4.0"/><circle cx="659.7" cy="435.6" r="4.2"/><circle cx="669.8" cy="442.7" r="4.0"/><circle cx="653.1" cy="444.4" r="4.2"/><circle cx="662.7" cy="452.1" r="4.0"/><circle cx="645.9" cy="452.8" r="4.2"/><circle cx="655.0" cy="461.1" r="4.0"/><circle cx="638.2" cy="460.8" r="4.2"/><circle cx="646.9" cy="469.6" r="4.0"/><circle cx="630.1" cy="468.3" r="4.2"/><circle cx="638.2" cy="477.6" r="4.0"/><circle cx="621.5" cy="475.3" r="4.2"/><circle cx="629.0" cy="485.1" r="4.0"/><circle cx="612.6" cy="481.8" r="4.2"/><circle cx="619.4" cy="492.0" r="4.0"/><circle cx="603.2" cy="487.7" r="4.2"/><circle cx="609.5" cy="498.3" r="4.0"/><circle cx="593.5" cy="493.1" r="4.2"/><circle cx="599.1" cy="504.0" r="4.0"/><circle cx="583.5" cy="497.8" r="4.2"/><circle cx="588.4" cy="509.1" r="4.0"/><circle cx="573.2" cy="501.9" r="4.2"/><circle cx="577.5" cy="513.5" r="4.0"/><circle cx="562.8" cy="505.4" r="4.2"/><circle cx="566.3" cy="517.2" r="4.0"/><circle cx="552.1" cy="508.3" r="4.2"/><circle cx="554.9" cy="520.3" r="4.0"/><circle cx="541.2" cy="510.5" r="4.2"/><circle cx="543.3" cy="522.6" r="4.0"/><circle cx="530.3" cy="512.1" r="4.2"/><circle cx="531.6" cy="524.3" r="4.0"/><circle cx="519.2" cy="513.0" r="4.2"/><circle cx="519.9" cy="525.3" r="4.0"/><circle cx="508.2" cy="513.2" r="4.2"/><circle cx="508.0" cy="525.5" r="4.0"/><circle cx="497.1" cy="512.7" r="4.2"/><circle cx="496.2" cy="525.0" r="4.0"/><circle cx="486.1" cy="511.6" r="4.2"/><circle cx="484.5" cy="523.8" r="4.0"/><circle cx="475.2" cy="509.9" r="4.2"/><circle cx="472.8" cy="521.9" r="4.0"/><circle cx="464.4" cy="507.4" r="4.2"/><circle cx="461.3" cy="519.3" r="4.0"/><circle cx="453.8" cy="504.4" r="4.2"/><circle cx="450.0" cy="516.1" r="4.0"/><circle cx="443.3" cy="500.6" r="4.2"/><circle cx="438.9" cy="512.1" r="4.0"/><circle cx="433.1" cy="496.3" r="4.2"/><circle cx="428.0" cy="507.5" r="4.0"/><circle cx="423.2" cy="491.4" r="4.2"/><circle cx="417.4" cy="502.2" r="4.0"/><circle cx="413.7" cy="485.8" r="4.2"/><circle cx="407.2" cy="496.3" r="4.0"/><circle cx="404.4" cy="479.7" r="4.2"/><circle cx="397.3" cy="489.8" r="4.0"/><circle cx="395.6" cy="473.1" r="4.2"/><circle cx="387.9" cy="482.7" r="4.0"/><circle cx="387.2" cy="465.9" r="4.2"/><circle cx="378.9" cy="475.0" r="4.0"/><circle cx="379.2" cy="458.2" r="4.2"/><circle cx="370.4" cy="466.9" r="4.0"/><circle cx="371.7" cy="450.1" r="4.2"/><circle cx="362.4" cy="458.2" r="4.0"/><circle cx="364.7" cy="441.5" r="4.2"/><circle cx="354.9" cy="449.0" r="4.0"/><circle cx="358.2" cy="432.6" r="4.2"/><circle cx="348.0" cy="439.4" r="4.0"/><circle cx="352.3" cy="423.2" r="4.2"/><circle cx="341.7" cy="429.5" r="4.0"/><circle cx="346.9" cy="413.5" r="4.2"/><circle cx="336.0" cy="419.1" r="4.0"/><circle cx="342.2" cy="403.5" r="4.2"/><circle cx="330.9" cy="408.4" r="4.0"/><circle cx="338.1" cy="393.2" r="4.2"/><circle cx="326.5" cy="397.5" r="4.0"/><circle cx="334.6" cy="382.8" r="4.2"/><circle cx="322.8" cy="386.3" r="4.0"/><circle cx="331.7" cy="372.1" r="4.2"/><circle cx="319.7" cy="374.9" r="4.0"/><circle cx="329.5" cy="361.2" r="4.2"/><circle cx="317.4" cy="363.3" r="4.0"/><circle cx="327.9" cy="350.3" r="4.2"/><circle cx="315.7" cy="351.6" r="4.0"/><circle cx="327.0" cy="339.2" r="4.2"/><circle cx="314.7" cy="339.9" r="4.0"/><circle cx="326.8" cy="328.2" r="4.2"/><circle cx="314.5" cy="328.0" r="4.0"/><circle cx="327.3" cy="317.1" r="4.2"/><circle cx="315.0" cy="316.2" r="4.0"/><circle cx="328.4" cy="306.1" r="4.2"/><circle cx="316.2" cy="304.5" r="4.0"/><circle cx="330.1" cy="295.2" r="4.2"/><circle cx="318.1" cy="292.8" r="4.0"/><circle cx="332.6" cy="284.4" r="4.2"/><circle cx="320.7" cy="281.3" r="4.0"/><circle cx="335.6" cy="273.8" r="4.2"/><circle cx="323.9" cy="270.0" r="4.0"/><circle cx="339.4" cy="263.3" r="4.2"/><circle cx="327.9" cy="258.9" r="4.0"/><circle cx="343.7" cy="253.1" r="4.2"/><circle cx="332.5" cy="248.0" r="4.0"/><circle cx="348.6" cy="243.2" r="4.2"/><circle cx="337.8" cy="237.4" r="4.0"/><circle cx="354.2" cy="233.7" r="4.2"/><circle cx="343.7" cy="227.2" r="4.0"/><circle cx="360.3" cy="224.4" r="4.2"/><circle cx="350.2" cy="217.3" r="4.0"/><circle cx="366.9" cy="215.6" r="4.2"/><circle cx="357.3" cy="207.9" r="4.0"/><circle cx="374.1" cy="207.2" r="4.2"/><circle cx="365.0" cy="198.9" r="4.0"/><circle cx="381.8" cy="199.2" r="4.2"/><circle cx="373.1" cy="190.4" r="4.0"/><circle cx="389.9" cy="191.7" r="4.2"/><circle cx="381.8" cy="182.4" r="4.0"/><circle cx="398.5" cy="184.7" r="4.2"/><circle cx="391.0" cy="174.9" r="4.0"/><circle cx="407.4" cy="178.2" r="4.2"/><circle cx="400.6" cy="168.0" r="4.0"/><circle cx="416.8" cy="172.3" r="4.2"/><circle cx="410.5" cy="161.7" r="4.0"/><circle cx="426.5" cy="166.9" r="4.2"/><circle cx="420.9" cy="156.0" r="4.0"/><circle cx="436.5" cy="162.2" r="4.2"/><circle cx="431.6" cy="150.9" r="4.0"/><circle cx="446.8" cy="158.1" r="4.2"/><circle cx="442.5" cy="146.5" r="4.0"/><circle cx="457.2" cy="154.6" r="4.2"/><circle cx="453.7" cy="142.8" r="4.0"/><circle cx="467.9" cy="151.7" r="4.2"/><circle cx="465.1" cy="139.7" r="4.0"/><circle cx="478.8" cy="149.5" r="4.2"/><circle cx="476.7" cy="137.4" r="4.0"/><circle cx="489.7" cy="147.9" r="4.2"/><circle cx="488.4" cy="135.7" r="4.0"/><circle cx="500.8" cy="147.0" r="4.2"/><circle cx="500.1" cy="134.7" r="4.0"/><circle cx="511.8" cy="146.8" r="4.2"/><circle cx="512.0" cy="134.5" r="4.0"/><circle cx="522.9" cy="147.3" r="4.2"/><circle cx="523.8" cy="135.0" r="4.0"/><circle cx="533.9" cy="148.4" r="4.2"/><circle cx="535.5" cy="136.2" r="4.0"/><circle cx="544.8" cy="150.1" r="4.2"/><circle cx="547.2" cy="138.1" r="4.0"/><circle cx="555.6" cy="152.6" r="4.2"/><circle cx="558.7" cy="140.7" r="4.0"/><circle cx="566.2" cy="155.6" r="4.2"/><circle cx="570.0" cy="143.9" r="4.0"/><circle cx="576.7" cy="159.4" r="4.2"/><circle cx="581.1" cy="147.9" r="4.0"/><circle cx="586.9" cy="163.7" r="4.2"/><circle cx="592.0" cy="152.5" r="4.0"/><circle cx="596.8" cy="168.6" r="4.2"/><circle cx="602.6" cy="157.8" r="4.0"/><circle cx="606.3" cy="174.2" r="4.2"/><circle cx="612.8" cy="163.7" r="4.0"/><circle cx="615.6" cy="180.3" r="4.2"/><circle cx="622.7" cy="170.2" r="4.0"/><circle cx="624.4" cy="186.9" r="4.2"/><circle cx="632.1" cy="177.3" r="4.0"/><circle cx="632.8" cy="194.1" r="4.2"/><circle cx="641.1" cy="185.0" r="4.0"/><circle cx="640.8" cy="201.8" r="4.2"/><circle cx="649.6" cy="193.1" r="4.0"/><circle cx="648.3" cy="209.9" r="4.2"/><circle cx="657.6" cy="201.8" r="4.0"/><circle cx="655.3" cy="218.5" r="4.2"/><circle cx="665.1" cy="211.0" r="4.0"/><circle cx="661.8" cy="227.4" r="4.2"/><circle cx="672.0" cy="220.6" r="4.0"/><circle cx="667.7" cy="236.8" r="4.2"/><circle cx="678.3" cy="230.5" r="4.0"/><circle cx="673.1" cy="246.5" r="4.2"/><circle cx="684.0" cy="240.9" r="4.0"/><circle cx="677.8" cy="256.5" r="4.2"/><circle cx="689.1" cy="251.6" r="4.0"/><circle cx="681.9" cy="266.8" r="4.2"/><circle cx="693.5" cy="262.5" r="4.0"/><circle cx="685.4" cy="277.2" r="4.2"/><circle cx="697.2" cy="273.7" r="4.0"/><circle cx="688.3" cy="287.9" r="4.2"/><circle cx="700.3" cy="285.1" r="4.0"/><circle cx="690.5" cy="298.8" r="4.2"/><circle cx="702.6" cy="296.7" r="4.0"/><circle cx="692.1" cy="309.7" r="4.2"/><circle cx="704.3" cy="308.4" r="4.0"/><circle cx="693.0" cy="320.8" r="4.2"/><circle cx="705.3" cy="320.1" r="4.0"/></g>
<g fill="#463a34"><circle cx="709.8" cy="332.0" r="3.7"/><circle cx="709.3" cy="344.1" r="3.7"/><circle cx="708.1" cy="356.1" r="3.7"/><circle cx="706.2" cy="368.0" r="3.7"/><circle cx="703.5" cy="379.8" r="3.7"/><circle cx="700.1" cy="391.3" r="3.7"/><circle cx="696.1" cy="402.7" r="3.7"/><circle cx="691.4" cy="413.8" r="3.7"/><circle cx="686.0" cy="424.6" r="3.7"/><circle cx="679.9" cy="435.1" r="3.7"/><circle cx="673.3" cy="445.1" r="3.7"/><circle cx="666.0" cy="454.8" r="3.7"/><circle cx="658.2" cy="464.0" r="3.7"/><circle cx="649.9" cy="472.7" r="3.7"/><circle cx="641.0" cy="480.9" r="3.7"/><circle cx="631.6" cy="488.5" r="3.7"/><circle cx="621.8" cy="495.6" r="3.7"/><circle cx="611.6" cy="502.0" r="3.7"/><circle cx="601.1" cy="507.8" r="3.7"/><circle cx="590.2" cy="513.0" r="3.7"/><circle cx="579.0" cy="517.5" r="3.7"/><circle cx="567.5" cy="521.3" r="3.7"/><circle cx="555.9" cy="524.5" r="3.7"/><circle cx="544.0" cy="526.9" r="3.7"/><circle cx="532.1" cy="528.6" r="3.7"/><circle cx="520.1" cy="529.5" r="3.7"/><circle cx="508.0" cy="529.8" r="3.7"/><circle cx="495.9" cy="529.3" r="3.7"/><circle cx="483.9" cy="528.1" r="3.7"/><circle cx="472.0" cy="526.2" r="3.7"/><circle cx="460.2" cy="523.5" r="3.7"/><circle cx="448.7" cy="520.1" r="3.7"/><circle cx="437.3" cy="516.1" r="3.7"/><circle cx="426.2" cy="511.4" r="3.7"/><circle cx="415.4" cy="506.0" r="3.7"/><circle cx="404.9" cy="499.9" r="3.7"/><circle cx="394.9" cy="493.3" r="3.7"/><circle cx="385.2" cy="486.0" r="3.7"/><circle cx="376.0" cy="478.2" r="3.7"/><circle cx="367.3" cy="469.9" r="3.7"/><circle cx="359.1" cy="461.0" r="3.7"/><circle cx="351.5" cy="451.6" r="3.7"/><circle cx="344.4" cy="441.8" r="3.7"/><circle cx="338.0" cy="431.6" r="3.7"/><circle cx="332.2" cy="421.1" r="3.7"/><circle cx="327.0" cy="410.2" r="3.7"/><circle cx="322.5" cy="399.0" r="3.7"/><circle cx="318.7" cy="387.5" r="3.7"/><circle cx="315.5" cy="375.9" r="3.7"/><circle cx="313.1" cy="364.0" r="3.7"/><circle cx="311.4" cy="352.1" r="3.7"/><circle cx="310.5" cy="340.1" r="3.7"/><circle cx="310.2" cy="328.0" r="3.7"/><circle cx="310.7" cy="315.9" r="3.7"/><circle cx="311.9" cy="303.9" r="3.7"/><circle cx="313.8" cy="292.0" r="3.7"/><circle cx="316.5" cy="280.2" r="3.7"/><circle cx="319.9" cy="268.7" r="3.7"/><circle cx="323.9" cy="257.3" r="3.7"/><circle cx="328.6" cy="246.2" r="3.7"/><circle cx="334.0" cy="235.4" r="3.7"/><circle cx="340.1" cy="224.9" r="3.7"/><circle cx="346.7" cy="214.9" r="3.7"/><circle cx="354.0" cy="205.2" r="3.7"/><circle cx="361.8" cy="196.0" r="3.7"/><circle cx="370.1" cy="187.3" r="3.7"/><circle cx="379.0" cy="179.1" r="3.7"/><circle cx="388.4" cy="171.5" r="3.7"/><circle cx="398.2" cy="164.4" r="3.7"/><circle cx="408.4" cy="158.0" r="3.7"/><circle cx="418.9" cy="152.2" r="3.7"/><circle cx="429.8" cy="147.0" r="3.7"/><circle cx="441.0" cy="142.5" r="3.7"/><circle cx="452.5" cy="138.7" r="3.7"/><circle cx="464.1" cy="135.5" r="3.7"/><circle cx="476.0" cy="133.1" r="3.7"/><circle cx="487.9" cy="131.4" r="3.7"/><circle cx="499.9" cy="130.5" r="3.7"/><circle cx="512.0" cy="130.2" r="3.7"/><circle cx="524.1" cy="130.7" r="3.7"/><circle cx="536.1" cy="131.9" r="3.7"/><circle cx="548.0" cy="133.8" r="3.7"/><circle cx="559.8" cy="136.5" r="3.7"/><circle cx="571.3" cy="139.9" r="3.7"/><circle cx="582.7" cy="143.9" r="3.7"/><circle cx="593.8" cy="148.6" r="3.7"/><circle cx="604.6" cy="154.0" r="3.7"/><circle cx="615.1" cy="160.1" r="3.7"/><circle cx="625.1" cy="166.7" r="3.7"/><circle cx="634.8" cy="174.0" r="3.7"/><circle cx="644.0" cy="181.8" r="3.7"/><circle cx="652.7" cy="190.1" r="3.7"/><circle cx="660.9" cy="199.0" r="3.7"/><circle cx="668.5" cy="208.4" r="3.7"/><circle cx="675.6" cy="218.2" r="3.7"/><circle cx="682.0" cy="228.4" r="3.7"/><circle cx="687.8" cy="238.9" r="3.7"/><circle cx="693.0" cy="249.8" r="3.7"/><circle cx="697.5" cy="261.0" r="3.7"/><circle cx="701.3" cy="272.5" r="3.7"/><circle cx="704.5" cy="284.1" r="3.7"/><circle cx="706.9" cy="296.0" r="3.7"/><circle cx="708.6" cy="307.9" r="3.7"/><circle cx="709.5" cy="319.9" r="3.7"/></g>
<clipPath id="capClip"><polygon points="514.8,496.0 513.8,496.0 512.5,495.9 511.5,495.8 510.5,495.8 509.5,495.7 508.5,495.7 507.5,495.6 506.6,495.5 505.6,495.5 504.6,495.4 503.9,495.4 502.9,495.3 501.9,495.2 501.2,495.1 500.2,495.0 499.2,494.9 498.8,494.8 497.8,494.7 496.8,494.5 496.6,494.5 495.6,494.2 494.7,494.0 494.5,494.0 493.6,493.6 492.6,493.3 492.3,493.1 491.3,492.8 490.9,492.6 490.0,492.2 489.2,491.7 488.8,491.5 487.9,491.0 487.5,490.8 486.6,490.3 485.8,489.7 485.4,489.4 484.5,488.9 484.1,488.5 483.3,487.9 482.5,487.3 482.0,486.9 481.2,486.3 480.5,485.7 480.1,485.3 479.4,484.7 479.1,484.4 478.4,483.6 477.7,482.9 477.3,482.5 476.6,481.8 476.0,481.0 475.5,480.5 474.9,479.8 474.3,479.0 473.8,478.4 473.2,477.6 472.6,476.8 472.1,476.2 471.5,475.4 470.9,474.6 470.4,473.9 469.8,473.1 469.2,472.3 468.7,471.5 468.1,470.7 467.5,469.9 467.0,469.2 466.5,468.4 466.1,467.8 465.5,467.0 465.0,466.1 464.5,465.5 464.0,464.6 463.5,463.8 463.1,463.0 462.5,462.2 462.0,461.3 461.6,460.6 461.1,459.7 460.6,458.8 460.1,458.0 459.6,457.2 459.1,456.3 458.6,455.4 458.1,454.6 457.6,453.7 457.1,452.8 456.6,452.0 456.1,451.1 455.7,450.2 455.2,449.5 454.7,448.6 454.3,447.8 453.8,446.9 453.4,446.1 452.9,445.2 452.5,444.4 452.0,443.5 451.6,442.6 451.1,441.7 450.6,440.9 450.2,439.9 448.3,450.8 449.0,450.1 449.7,449.4 450.4,448.7 451.1,448.0 451.8,447.3 452.5,446.6 453.3,445.9 454.0,445.2 453.7,430.5 453.0,429.8 452.3,429.0 451.6,428.3 450.9,427.6 450.2,426.9 449.5,426.1 448.8,425.4 448.1,424.7 447.5,424.0 446.8,423.3 446.1,422.6 445.5,421.9 444.8,421.1 444.1,420.4 443.5,419.8 442.8,419.0 442.2,418.3 441.6,417.7 441.0,416.9 440.4,416.2 439.7,415.5 439.0,414.7 438.4,413.9 437.8,413.2 437.1,412.5 436.5,411.7 436.0,411.1 435.5,410.5 434.9,409.7 434.5,409.2 433.9,408.4 433.5,407.9 433.0,407.1 432.6,406.6 432.1,405.7 431.6,404.9 431.3,404.4 430.8,403.5 430.5,402.9 430.1,402.0 429.7,401.4 429.3,400.5 429.0,399.8 428.6,398.9 428.2,398.0 427.8,397.2 427.5,396.3 427.1,395.5 426.8,394.6 426.4,393.7 426.1,392.8 425.7,391.9 425.3,391.0 425.0,390.1 424.6,389.2 424.3,388.4 424.0,387.4 423.6,386.5 423.4,385.7 423.0,384.8 422.7,383.8 422.4,382.9 422.1,382.1 421.8,381.1 421.4,380.2 421.1,379.2 420.8,378.3 420.5,377.4 420.2,376.4 419.9,375.5 419.6,374.6 419.3,373.6 419.0,372.7 418.7,371.7 418.4,370.8 418.1,369.8 417.8,368.9 417.5,367.9 417.2,367.0 416.9,366.0 416.5,365.0 415.1,362.0 414.6,361.2 414.0,360.3 413.5,359.5 413.0,358.6 412.5,357.8 412.0,356.9 411.4,356.1 410.9,355.2 410.4,354.4 409.9,353.5 409.4,352.6 408.8,351.8 408.3,350.9 407.8,350.1 407.3,349.2 406.8,348.4 406.2,347.5 405.7,346.7 405.2,345.8 404.7,345.0 404.2,344.1 403.6,343.3 403.1,342.4 402.6,341.5 402.1,340.7 401.6,339.8 402.2,340.9 401.8,339.8 401.4,338.8 401.1,337.9 400.8,336.9 400.5,336.1 400.1,335.1 399.8,334.2 399.5,333.4 399.2,332.4 398.9,331.5 398.6,330.7 398.3,329.8 398.1,328.8 397.9,328.1 397.6,327.2 397.3,326.2 397.2,325.6 397.0,324.7 396.8,324.1 396.6,323.1 396.4,322.1 396.3,321.4 396.1,320.4 396.0,319.4 395.9,318.7 395.7,317.7 395.6,316.7 395.5,315.9 395.3,314.9 395.2,313.9 395.1,313.0 395.0,312.0 394.9,311.0 394.8,310.1 394.7,309.1 394.6,308.2 394.5,307.2 394.4,306.2 394.3,305.2 394.2,304.2 394.2,303.2 394.1,302.2 394.0,301.3 393.9,300.3 393.8,299.3 393.7,298.3 393.7,297.4 393.6,296.4 393.5,295.5 393.4,294.5 393.4,293.5 393.3,292.5 393.2,291.5 393.2,290.5 393.1,289.5 393.0,288.6 393.0,287.6 392.9,286.6 392.8,285.6 392.8,284.6 392.7,283.6 392.7,282.6 392.6,281.6 392.5,280.6 392.5,279.6 392.4,278.6 392.4,277.6 392.3,276.6 392.2,275.6 392.2,274.6 392.1,273.6 392.1,272.6 392.0,271.6 391.1,276.3 391.6,275.4 392.1,274.6 392.5,273.7 393.0,272.8 393.5,272.0 394.0,271.1 394.5,270.2 395.0,269.4 395.5,268.5 396.0,267.6 396.5,266.7 397.0,265.9 397.5,265.0 398.0,264.1 398.5,263.3 399.8,260.1 400.1,259.0 400.4,258.1 400.6,257.1 400.9,256.2 401.1,255.2 401.4,254.4 401.6,253.6 401.9,252.7 402.1,252.0 402.4,251.0 402.6,250.4 403.0,249.5 403.3,248.6 403.7,247.7 404.1,246.7 404.4,245.7 404.8,244.8 405.1,243.9 405.5,243.0 405.8,242.2 406.2,241.3 406.4,240.7 406.8,239.8 407.0,239.3 407.5,238.4 407.9,237.6 408.1,237.2 408.6,236.3 408.8,236.1 409.3,235.3 409.9,234.4 410.1,234.2 410.7,233.4 411.3,232.6 411.7,232.3 412.3,231.5 413.0,230.8 413.4,230.3 414.1,229.6 414.8,228.9 415.3,228.4 416.0,227.6 416.7,226.9 417.3,226.4 418.0,225.7 418.7,225.0 419.3,224.5 420.1,223.8 420.8,223.1 421.5,222.4 422.2,221.8 422.9,221.2 423.7,220.5 424.4,219.9 425.1,219.2 425.9,218.6 426.6,218.0 427.4,217.3 428.1,216.6 428.8,216.0 429.6,215.4 430.2,214.8 431.0,214.2 431.8,213.5 432.4,213.1 433.2,212.4 433.9,211.8 434.5,211.4 435.3,210.8 435.8,210.4 436.7,209.8 437.5,209.2 438.0,208.9 438.9,208.3 439.7,207.8 440.3,207.4 441.1,206.9 442.0,206.4 442.5,206.1 443.4,205.6 444.2,205.2 444.8,204.8 445.7,204.4 446.6,203.9 447.5,203.5 448.2,203.1 449.1,202.7 450.0,202.3 450.9,201.9 451.8,201.4 452.6,201.1 453.5,200.7 454.4,200.2 455.3,199.8 456.1,199.4 457.0,199.0 458.0,198.6 458.9,198.2 459.7,197.8 460.7,197.4 461.6,197.0 462.5,196.6 463.4,196.2 464.3,195.8 465.2,195.4 466.3,195.0 467.2,194.5 468.1,194.1 472.4,190.5 473.0,189.7 473.6,189.0 474.3,188.2 474.9,187.4 475.5,186.6 471.0,189.5 472.2,189.2 473.1,189.0 474.1,188.7 475.1,188.4 476.0,188.2 476.9,187.9 477.7,187.7 478.7,187.5 479.7,187.2 480.4,187.0 481.4,186.8 482.1,186.7 483.0,186.5 484.0,186.3 484.6,186.2 485.6,186.0 486.2,185.9 487.2,185.8 488.2,185.7 489.0,185.6 490.0,185.5 491.0,185.4 491.9,185.3 492.9,185.2 493.9,185.1 494.7,185.1 495.7,185.0 496.7,184.9 497.7,184.9 498.5,184.8 499.5,184.8 500.5,184.7 501.4,184.7 502.4,184.6 503.4,184.6 504.2,184.6 505.2,184.5 506.2,184.5 507.0,184.5 508.0,184.5 509.0,184.5 510.0,184.5 510.8,184.5 511.8,184.5 512.8,184.6 513.6,184.6 514.6,184.6 515.6,184.7 516.5,184.7 517.5,184.7 518.5,184.8 519.3,184.8 520.3,184.9 521.3,185.0 522.1,185.0 523.1,185.1 524.1,185.2 524.9,185.3 525.9,185.4 526.9,185.5 527.9,185.6 528.7,185.7 529.7,185.8 530.7,186.0 531.5,186.1 532.4,186.2 533.4,186.4 534.1,186.5 535.1,186.7 536.0,186.9 536.7,187.0 537.7,187.2 538.6,187.4 539.4,187.6 540.3,187.8 541.3,188.1 542.1,188.3 543.1,188.5 544.0,188.8 544.9,189.0 545.9,189.3 546.8,189.5 547.8,189.8 548.7,190.1 549.7,190.3 550.6,190.6 551.6,190.9 552.6,191.2 553.7,191.5 547.0,181.4 546.9,182.4 546.9,183.4 546.8,184.4 546.7,185.4 546.6,186.4 546.5,187.4 546.4,188.4 546.4,189.3 546.3,190.3 546.2,191.3 546.1,192.3 559.9,203.2 560.8,202.9 562.3,202.2 563.2,201.7 564.1,201.3 564.8,201.0 565.7,200.6 566.6,200.2 567.0,200.0 568.0,199.6 568.1,199.6 569.1,199.3 570.1,199.0 569.9,199.1 570.9,198.9 570.2,199.0 571.2,199.0 570.4,198.9 571.4,199.1 572.4,199.2 572.2,199.2 573.2,199.5 573.4,199.6 574.3,199.9 575.2,200.3 575.6,200.5 576.5,200.9 577.4,201.3 577.9,201.6 578.8,202.1 579.7,202.5 580.3,202.9 581.2,203.3 582.0,203.8 582.8,204.3 583.7,204.8 584.5,205.2 585.4,205.7 586.3,206.2 587.0,206.7 587.9,207.2 588.8,207.7 589.4,208.1 590.3,208.6 591.1,209.2 591.8,209.6 592.6,210.1 593.5,210.7 594.1,211.1 595.0,211.7 595.8,212.2 596.6,212.8 597.3,213.2 598.1,213.8 598.9,214.4 599.5,214.9 600.3,215.5 601.1,216.1 601.7,216.5 602.5,217.1 603.3,217.8 603.8,218.2 604.6,218.9 605.4,219.5 606.0,220.0 606.7,220.7 607.5,221.3 608.1,221.9 608.9,222.6 609.4,223.1 610.2,223.7 610.9,224.4 611.4,224.9 612.1,225.6 612.8,226.3 613.2,226.8 613.9,227.5 614.6,228.2 615.0,228.7 615.6,229.4 616.0,229.8 616.6,230.6 617.2,231.4 617.5,231.8 618.0,232.6 618.6,233.5 618.8,233.7 619.3,234.6 619.8,235.4 620.0,235.8 620.4,236.6 620.9,237.5 621.1,238.1 621.6,239.0 622.0,239.9 622.4,240.8 622.7,241.5 623.1,242.4 623.5,243.3 623.8,244.1 624.2,245.0 624.5,245.9 624.9,246.8 625.3,247.7 625.6,248.6 626.0,249.5 626.4,250.5 626.8,251.4 627.2,252.5 627.6,253.4 627.7,253.6 628.0,254.6 628.3,255.5 628.6,256.5 628.9,257.4 629.3,258.4 629.6,259.3 629.9,260.3 630.2,261.2 630.5,262.2 630.8,263.1 631.2,264.1 631.5,265.0 631.0,263.2 631.1,264.2 631.1,265.2 631.2,266.2 631.2,267.2 631.2,268.2 631.3,269.2 631.3,270.2 631.4,271.2 631.4,272.2 631.4,273.2 631.5,274.2 631.5,275.2 631.5,276.2 631.6,277.2 631.6,278.2 631.7,279.2 631.7,280.2 631.7,281.2 631.8,282.2 631.8,283.2 631.8,284.2 631.9,285.2 631.9,286.2 631.9,287.1 631.9,288.1 632.0,289.1 632.0,290.1 632.0,291.2 632.1,292.2 632.1,293.3 632.1,294.3 632.2,295.3 632.2,296.4 632.3,297.4 632.4,298.3 632.4,299.3 632.4,300.3 632.5,301.0 632.5,302.0 632.5,302.7 632.5,303.7 632.5,304.2 632.4,305.2 632.3,306.2 632.3,306.8 632.2,307.8 632.1,308.8 632.0,309.3 631.8,310.3 631.7,311.3 631.6,311.9 631.4,312.9 631.2,313.9 631.0,314.9 630.9,315.6 630.7,316.6 630.5,317.6 630.3,318.6 630.1,319.4 629.8,320.4 629.6,321.4 629.4,322.3 629.2,323.2 629.0,324.2 628.7,325.2 628.5,326.1 628.3,327.1 628.1,328.1 627.8,329.0 627.6,330.0 627.4,331.0 627.1,332.0 626.9,332.9 626.7,334.0 626.4,335.0 628.4,331.5 627.7,332.3 627.0,333.0 626.4,333.8 625.7,334.6 625.1,335.3 624.4,336.1 623.8,336.8 623.1,337.6 622.4,338.3 621.8,339.1 619.4,343.2 619.0,344.2 618.7,345.1 618.4,346.1 618.1,347.0 617.7,348.0 617.4,348.9 617.1,349.9 616.8,350.8 616.4,351.7 616.1,352.7 615.8,353.6 615.5,354.6 615.1,355.5 614.8,356.5 614.5,357.4 614.1,358.4 613.8,359.3 613.5,360.3 613.2,361.2 612.8,362.1 612.5,363.1 612.2,364.0 611.9,365.0 611.5,365.9 611.2,366.9 610.9,367.8 610.5,368.8 610.2,369.7 609.9,370.7 609.5,371.7 609.2,372.7 608.9,373.6 608.6,374.6 608.3,375.5 608.0,376.5 607.6,377.4 607.3,378.4 607.0,379.3 606.7,380.2 606.4,381.1 606.1,382.0 605.8,382.9 605.5,383.8 605.2,384.6 604.8,385.5 604.5,386.2 604.2,387.2 603.8,388.1 603.5,388.8 603.1,389.7 602.8,390.4 602.4,391.3 601.9,392.2 601.6,392.9 601.2,393.8 600.8,394.6 600.3,395.5 599.9,396.3 599.5,397.2 599.0,398.0 598.6,398.9 598.1,399.8 597.6,400.6 597.2,401.5 596.7,402.4 596.2,403.3 595.8,404.2 595.3,405.1 594.8,405.9 594.4,406.8 593.9,407.7 593.5,408.5 593.0,409.4 592.5,410.3 592.1,411.1 591.6,412.0 591.1,412.9 590.6,413.8 590.1,414.6 589.7,415.5 589.2,416.4 588.7,417.2 588.2,418.1 587.8,419.0 587.3,419.9 586.8,420.7 586.3,421.6 585.8,422.5 585.3,423.4 584.9,424.2 584.4,425.1 583.9,426.0 583.4,426.9 584.5,425.4 583.8,426.1 583.1,426.8 582.3,427.5 581.6,428.2 580.9,428.9 580.2,429.6 579.5,430.3 578.8,431.0 578.1,431.8 577.4,432.5 574.2,437.9 574.0,438.8 573.7,440.2 573.5,441.2 573.3,442.2 573.1,443.2 572.9,444.0 572.7,444.9 572.5,445.6 572.2,446.6 572.0,447.5 571.9,448.0 571.6,449.0 571.3,449.9 571.1,450.2 570.8,451.1 570.8,451.1 570.3,452.0 569.9,452.9 569.9,452.9 569.4,453.7 568.8,454.5 568.6,454.8 568.0,455.6 567.4,456.4 567.1,456.7 566.4,457.5 566.0,457.9 565.4,458.7 564.7,459.4 564.0,460.2 563.5,460.7 562.8,461.4 562.1,462.1 561.5,462.7 560.8,463.4 560.1,464.1 559.4,464.8 558.7,465.5 558.0,466.2 557.3,466.9 556.6,467.6 555.9,468.3 555.2,469.0 554.4,469.7 553.7,470.4 553.1,471.0 552.4,471.7 551.7,472.4 551.0,473.0 550.3,473.7 549.6,474.4 548.9,475.0 548.2,475.6 547.5,476.3 546.8,476.9 546.1,477.5 545.3,478.2 544.7,478.7 544.0,479.4 543.2,480.0 542.6,480.5 541.8,481.2 541.0,481.8 540.4,482.3 539.6,482.9 538.9,483.5 538.3,483.9 537.5,484.5 536.9,485.0 536.0,485.6 535.2,486.1 534.4,486.7 533.7,487.2 532.9,487.7 532.1,488.3 531.4,488.7 530.5,489.3 529.7,489.8 529.0,490.2 528.2,490.8 527.3,491.3 526.6,491.7 525.7,492.2 524.9,492.8 524.2,493.2 523.3,493.7 522.7,494.0 521.8,494.5 521.4,494.7 520.5,495.2 520.3,495.2 519.4,495.6 519.3,495.6 519.1,495.7 518.7,495.7 518.1,495.8 517.0,495.9 515.2,496.2"/></clipPath>
<linearGradient id="gCapIn" x1="0" y1="170" x2="0" y2="510" gradientUnits="userSpaceOnUse"><stop offset="0" stop-color="#8a44a0"/><stop offset="0.6" stop-color="#8e4c98"/><stop offset="1" stop-color="#985690"/></linearGradient>
<polygon points="514.8,496.0 513.8,496.0 512.5,495.9 511.5,495.8 510.5,495.8 509.5,495.7 508.5,495.7 507.5,495.6 506.6,495.5 505.6,495.5 504.6,495.4 503.9,495.4 502.9,495.3 501.9,495.2 501.2,495.1 500.2,495.0 499.2,494.9 498.8,494.8 497.8,494.7 496.8,494.5 496.6,494.5 495.6,494.2 494.7,494.0 494.5,494.0 493.6,493.6 492.6,493.3 492.3,493.1 491.3,492.8 490.9,492.6 490.0,492.2 489.2,491.7 488.8,491.5 487.9,491.0 487.5,490.8 486.6,490.3 485.8,489.7 485.4,489.4 484.5,488.9 484.1,488.5 483.3,487.9 482.5,487.3 482.0,486.9 481.2,486.3 480.5,485.7 480.1,485.3 479.4,484.7 479.1,484.4 478.4,483.6 477.7,482.9 477.3,482.5 476.6,481.8 476.0,481.0 475.5,480.5 474.9,479.8 474.3,479.0 473.8,478.4 473.2,477.6 472.6,476.8 472.1,476.2 471.5,475.4 470.9,474.6 470.4,473.9 469.8,473.1 469.2,472.3 468.7,471.5 468.1,470.7 467.5,469.9 467.0,469.2 466.5,468.4 466.1,467.8 465.5,467.0 465.0,466.1 464.5,465.5 464.0,464.6 463.5,463.8 463.1,463.0 462.5,462.2 462.0,461.3 461.6,460.6 461.1,459.7 460.6,458.8 460.1,458.0 459.6,457.2 459.1,456.3 458.6,455.4 458.1,454.6 457.6,453.7 457.1,452.8 456.6,452.0 456.1,451.1 455.7,450.2 455.2,449.5 454.7,448.6 454.3,447.8 453.8,446.9 453.4,446.1 452.9,445.2 452.5,444.4 452.0,443.5 451.6,442.6 451.1,441.7 450.6,440.9 450.2,439.9 448.3,450.8 449.0,450.1 449.7,449.4 450.4,448.7 451.1,448.0 451.8,447.3 452.5,446.6 453.3,445.9 454.0,445.2 453.7,430.5 453.0,429.8 452.3,429.0 451.6,428.3 450.9,427.6 450.2,426.9 449.5,426.1 448.8,425.4 448.1,424.7 447.5,424.0 446.8,423.3 446.1,422.6 445.5,421.9 444.8,421.1 444.1,420.4 443.5,419.8 442.8,419.0 442.2,418.3 441.6,417.7 441.0,416.9 440.4,416.2 439.7,415.5 439.0,414.7 438.4,413.9 437.8,413.2 437.1,412.5 436.5,411.7 436.0,411.1 435.5,410.5 434.9,409.7 434.5,409.2 433.9,408.4 433.5,407.9 433.0,407.1 432.6,406.6 432.1,405.7 431.6,404.9 431.3,404.4 430.8,403.5 430.5,402.9 430.1,402.0 429.7,401.4 429.3,400.5 429.0,399.8 428.6,398.9 428.2,398.0 427.8,397.2 427.5,396.3 427.1,395.5 426.8,394.6 426.4,393.7 426.1,392.8 425.7,391.9 425.3,391.0 425.0,390.1 424.6,389.2 424.3,388.4 424.0,387.4 423.6,386.5 423.4,385.7 423.0,384.8 422.7,383.8 422.4,382.9 422.1,382.1 421.8,381.1 421.4,380.2 421.1,379.2 420.8,378.3 420.5,377.4 420.2,376.4 419.9,375.5 419.6,374.6 419.3,373.6 419.0,372.7 418.7,371.7 418.4,370.8 418.1,369.8 417.8,368.9 417.5,367.9 417.2,367.0 416.9,366.0 416.5,365.0 415.1,362.0 414.6,361.2 414.0,360.3 413.5,359.5 413.0,358.6 412.5,357.8 412.0,356.9 411.4,356.1 410.9,355.2 410.4,354.4 409.9,353.5 409.4,352.6 408.8,351.8 408.3,350.9 407.8,350.1 407.3,349.2 406.8,348.4 406.2,347.5 405.7,346.7 405.2,345.8 404.7,345.0 404.2,344.1 403.6,343.3 403.1,342.4 402.6,341.5 402.1,340.7 401.6,339.8 402.2,340.9 401.8,339.8 401.4,338.8 401.1,337.9 400.8,336.9 400.5,336.1 400.1,335.1 399.8,334.2 399.5,333.4 399.2,332.4 398.9,331.5 398.6,330.7 398.3,329.8 398.1,328.8 397.9,328.1 397.6,327.2 397.3,326.2 397.2,325.6 397.0,324.7 396.8,324.1 396.6,323.1 396.4,322.1 396.3,321.4 396.1,320.4 396.0,319.4 395.9,318.7 395.7,317.7 395.6,316.7 395.5,315.9 395.3,314.9 395.2,313.9 395.1,313.0 395.0,312.0 394.9,311.0 394.8,310.1 394.7,309.1 394.6,308.2 394.5,307.2 394.4,306.2 394.3,305.2 394.2,304.2 394.2,303.2 394.1,302.2 394.0,301.3 393.9,300.3 393.8,299.3 393.7,298.3 393.7,297.4 393.6,296.4 393.5,295.5 393.4,294.5 393.4,293.5 393.3,292.5 393.2,291.5 393.2,290.5 393.1,289.5 393.0,288.6 393.0,287.6 392.9,286.6 392.8,285.6 392.8,284.6 392.7,283.6 392.7,282.6 392.6,281.6 392.5,280.6 392.5,279.6 392.4,278.6 392.4,277.6 392.3,276.6 392.2,275.6 392.2,274.6 392.1,273.6 392.1,272.6 392.0,271.6 391.1,276.3 391.6,275.4 392.1,274.6 392.5,273.7 393.0,272.8 393.5,272.0 394.0,271.1 394.5,270.2 395.0,269.4 395.5,268.5 396.0,267.6 396.5,266.7 397.0,265.9 397.5,265.0 398.0,264.1 398.5,263.3 399.8,260.1 400.1,259.0 400.4,258.1 400.6,257.1 400.9,256.2 401.1,255.2 401.4,254.4 401.6,253.6 401.9,252.7 402.1,252.0 402.4,251.0 402.6,250.4 403.0,249.5 403.3,248.6 403.7,247.7 404.1,246.7 404.4,245.7 404.8,244.8 405.1,243.9 405.5,243.0 405.8,242.2 406.2,241.3 406.4,240.7 406.8,239.8 407.0,239.3 407.5,238.4 407.9,237.6 408.1,237.2 408.6,236.3 408.8,236.1 409.3,235.3 409.9,234.4 410.1,234.2 410.7,233.4 411.3,232.6 411.7,232.3 412.3,231.5 413.0,230.8 413.4,230.3 414.1,229.6 414.8,228.9 415.3,228.4 416.0,227.6 416.7,226.9 417.3,226.4 418.0,225.7 418.7,225.0 419.3,224.5 420.1,223.8 420.8,223.1 421.5,222.4 422.2,221.8 422.9,221.2 423.7,220.5 424.4,219.9 425.1,219.2 425.9,218.6 426.6,218.0 427.4,217.3 428.1,216.6 428.8,216.0 429.6,215.4 430.2,214.8 431.0,214.2 431.8,213.5 432.4,213.1 433.2,212.4 433.9,211.8 434.5,211.4 435.3,210.8 435.8,210.4 436.7,209.8 437.5,209.2 438.0,208.9 438.9,208.3 439.7,207.8 440.3,207.4 441.1,206.9 442.0,206.4 442.5,206.1 443.4,205.6 444.2,205.2 444.8,204.8 445.7,204.4 446.6,203.9 447.5,203.5 448.2,203.1 449.1,202.7 450.0,202.3 450.9,201.9 451.8,201.4 452.6,201.1 453.5,200.7 454.4,200.2 455.3,199.8 456.1,199.4 457.0,199.0 458.0,198.6 458.9,198.2 459.7,197.8 460.7,197.4 461.6,197.0 462.5,196.6 463.4,196.2 464.3,195.8 465.2,195.4 466.3,195.0 467.2,194.5 468.1,194.1 472.4,190.5 473.0,189.7 473.6,189.0 474.3,188.2 474.9,187.4 475.5,186.6 471.0,189.5 472.2,189.2 473.1,189.0 474.1,188.7 475.1,188.4 476.0,188.2 476.9,187.9 477.7,187.7 478.7,187.5 479.7,187.2 480.4,187.0 481.4,186.8 482.1,186.7 483.0,186.5 484.0,186.3 484.6,186.2 485.6,186.0 486.2,185.9 487.2,185.8 488.2,185.7 489.0,185.6 490.0,185.5 491.0,185.4 491.9,185.3 492.9,185.2 493.9,185.1 494.7,185.1 495.7,185.0 496.7,184.9 497.7,184.9 498.5,184.8 499.5,184.8 500.5,184.7 501.4,184.7 502.4,184.6 503.4,184.6 504.2,184.6 505.2,184.5 506.2,184.5 507.0,184.5 508.0,184.5 509.0,184.5 510.0,184.5 510.8,184.5 511.8,184.5 512.8,184.6 513.6,184.6 514.6,184.6 515.6,184.7 516.5,184.7 517.5,184.7 518.5,184.8 519.3,184.8 520.3,184.9 521.3,185.0 522.1,185.0 523.1,185.1 524.1,185.2 524.9,185.3 525.9,185.4 526.9,185.5 527.9,185.6 528.7,185.7 529.7,185.8 530.7,186.0 531.5,186.1 532.4,186.2 533.4,186.4 534.1,186.5 535.1,186.7 536.0,186.9 536.7,187.0 537.7,187.2 538.6,187.4 539.4,187.6 540.3,187.8 541.3,188.1 542.1,188.3 543.1,188.5 544.0,188.8 544.9,189.0 545.9,189.3 546.8,189.5 547.8,189.8 548.7,190.1 549.7,190.3 550.6,190.6 551.6,190.9 552.6,191.2 553.7,191.5 547.0,181.4 546.9,182.4 546.9,183.4 546.8,184.4 546.7,185.4 546.6,186.4 546.5,187.4 546.4,188.4 546.4,189.3 546.3,190.3 546.2,191.3 546.1,192.3 559.9,203.2 560.8,202.9 562.3,202.2 563.2,201.7 564.1,201.3 564.8,201.0 565.7,200.6 566.6,200.2 567.0,200.0 568.0,199.6 568.1,199.6 569.1,199.3 570.1,199.0 569.9,199.1 570.9,198.9 570.2,199.0 571.2,199.0 570.4,198.9 571.4,199.1 572.4,199.2 572.2,199.2 573.2,199.5 573.4,199.6 574.3,199.9 575.2,200.3 575.6,200.5 576.5,200.9 577.4,201.3 577.9,201.6 578.8,202.1 579.7,202.5 580.3,202.9 581.2,203.3 582.0,203.8 582.8,204.3 583.7,204.8 584.5,205.2 585.4,205.7 586.3,206.2 587.0,206.7 587.9,207.2 588.8,207.7 589.4,208.1 590.3,208.6 591.1,209.2 591.8,209.6 592.6,210.1 593.5,210.7 594.1,211.1 595.0,211.7 595.8,212.2 596.6,212.8 597.3,213.2 598.1,213.8 598.9,214.4 599.5,214.9 600.3,215.5 601.1,216.1 601.7,216.5 602.5,217.1 603.3,217.8 603.8,218.2 604.6,218.9 605.4,219.5 606.0,220.0 606.7,220.7 607.5,221.3 608.1,221.9 608.9,222.6 609.4,223.1 610.2,223.7 610.9,224.4 611.4,224.9 612.1,225.6 612.8,226.3 613.2,226.8 613.9,227.5 614.6,228.2 615.0,228.7 615.6,229.4 616.0,229.8 616.6,230.6 617.2,231.4 617.5,231.8 618.0,232.6 618.6,233.5 618.8,233.7 619.3,234.6 619.8,235.4 620.0,235.8 620.4,236.6 620.9,237.5 621.1,238.1 621.6,239.0 622.0,239.9 622.4,240.8 622.7,241.5 623.1,242.4 623.5,243.3 623.8,244.1 624.2,245.0 624.5,245.9 624.9,246.8 625.3,247.7 625.6,248.6 626.0,249.5 626.4,250.5 626.8,251.4 627.2,252.5 627.6,253.4 627.7,253.6 628.0,254.6 628.3,255.5 628.6,256.5 628.9,257.4 629.3,258.4 629.6,259.3 629.9,260.3 630.2,261.2 630.5,262.2 630.8,263.1 631.2,264.1 631.5,265.0 631.0,263.2 631.1,264.2 631.1,265.2 631.2,266.2 631.2,267.2 631.2,268.2 631.3,269.2 631.3,270.2 631.4,271.2 631.4,272.2 631.4,273.2 631.5,274.2 631.5,275.2 631.5,276.2 631.6,277.2 631.6,278.2 631.7,279.2 631.7,280.2 631.7,281.2 631.8,282.2 631.8,283.2 631.8,284.2 631.9,285.2 631.9,286.2 631.9,287.1 631.9,288.1 632.0,289.1 632.0,290.1 632.0,291.2 632.1,292.2 632.1,293.3 632.1,294.3 632.2,295.3 632.2,296.4 632.3,297.4 632.4,298.3 632.4,299.3 632.4,300.3 632.5,301.0 632.5,302.0 632.5,302.7 632.5,303.7 632.5,304.2 632.4,305.2 632.3,306.2 632.3,306.8 632.2,307.8 632.1,308.8 632.0,309.3 631.8,310.3 631.7,311.3 631.6,311.9 631.4,312.9 631.2,313.9 631.0,314.9 630.9,315.6 630.7,316.6 630.5,317.6 630.3,318.6 630.1,319.4 629.8,320.4 629.6,321.4 629.4,322.3 629.2,323.2 629.0,324.2 628.7,325.2 628.5,326.1 628.3,327.1 628.1,328.1 627.8,329.0 627.6,330.0 627.4,331.0 627.1,332.0 626.9,332.9 626.7,334.0 626.4,335.0 628.4,331.5 627.7,332.3 627.0,333.0 626.4,333.8 625.7,334.6 625.1,335.3 624.4,336.1 623.8,336.8 623.1,337.6 622.4,338.3 621.8,339.1 619.4,343.2 619.0,344.2 618.7,345.1 618.4,346.1 618.1,347.0 617.7,348.0 617.4,348.9 617.1,349.9 616.8,350.8 616.4,351.7 616.1,352.7 615.8,353.6 615.5,354.6 615.1,355.5 614.8,356.5 614.5,357.4 614.1,358.4 613.8,359.3 613.5,360.3 613.2,361.2 612.8,362.1 612.5,363.1 612.2,364.0 611.9,365.0 611.5,365.9 611.2,366.9 610.9,367.8 610.5,368.8 610.2,369.7 609.9,370.7 609.5,371.7 609.2,372.7 608.9,373.6 608.6,374.6 608.3,375.5 608.0,376.5 607.6,377.4 607.3,378.4 607.0,379.3 606.7,380.2 606.4,381.1 606.1,382.0 605.8,382.9 605.5,383.8 605.2,384.6 604.8,385.5 604.5,386.2 604.2,387.2 603.8,388.1 603.5,388.8 603.1,389.7 602.8,390.4 602.4,391.3 601.9,392.2 601.6,392.9 601.2,393.8 600.8,394.6 600.3,395.5 599.9,396.3 599.5,397.2 599.0,398.0 598.6,398.9 598.1,399.8 597.6,400.6 597.2,401.5 596.7,402.4 596.2,403.3 595.8,404.2 595.3,405.1 594.8,405.9 594.4,406.8 593.9,407.7 593.5,408.5 593.0,409.4 592.5,410.3 592.1,411.1 591.6,412.0 591.1,412.9 590.6,413.8 590.1,414.6 589.7,415.5 589.2,416.4 588.7,417.2 588.2,418.1 587.8,419.0 587.3,419.9 586.8,420.7 586.3,421.6 585.8,422.5 585.3,423.4 584.9,424.2 584.4,425.1 583.9,426.0 583.4,426.9 584.5,425.4 583.8,426.1 583.1,426.8 582.3,427.5 581.6,428.2 580.9,428.9 580.2,429.6 579.5,430.3 578.8,431.0 578.1,431.8 577.4,432.5 574.2,437.9 574.0,438.8 573.7,440.2 573.5,441.2 573.3,442.2 573.1,443.2 572.9,444.0 572.7,444.9 572.5,445.6 572.2,446.6 572.0,447.5 571.9,448.0 571.6,449.0 571.3,449.9 571.1,450.2 570.8,451.1 570.8,451.1 570.3,452.0 569.9,452.9 569.9,452.9 569.4,453.7 568.8,454.5 568.6,454.8 568.0,455.6 567.4,456.4 567.1,456.7 566.4,457.5 566.0,457.9 565.4,458.7 564.7,459.4 564.0,460.2 563.5,460.7 562.8,461.4 562.1,462.1 561.5,462.7 560.8,463.4 560.1,464.1 559.4,464.8 558.7,465.5 558.0,466.2 557.3,466.9 556.6,467.6 555.9,468.3 555.2,469.0 554.4,469.7 553.7,470.4 553.1,471.0 552.4,471.7 551.7,472.4 551.0,473.0 550.3,473.7 549.6,474.4 548.9,475.0 548.2,475.6 547.5,476.3 546.8,476.9 546.1,477.5 545.3,478.2 544.7,478.7 544.0,479.4 543.2,480.0 542.6,480.5 541.8,481.2 541.0,481.8 540.4,482.3 539.6,482.9 538.9,483.5 538.3,483.9 537.5,484.5 536.9,485.0 536.0,485.6 535.2,486.1 534.4,486.7 533.7,487.2 532.9,487.7 532.1,488.3 531.4,488.7 530.5,489.3 529.7,489.8 529.0,490.2 528.2,490.8 527.3,491.3 526.6,491.7 525.7,492.2 524.9,492.8 524.2,493.2 523.3,493.7 522.7,494.0 521.8,494.5 521.4,494.7 520.5,495.2 520.3,495.2 519.4,495.6 519.3,495.6 519.1,495.7 518.7,495.7 518.1,495.8 517.0,495.9 515.2,496.2" fill="url(#gCapIn)"/>
<g clip-path="url(#capClip)"><polygon points="517.3,464.1 516.3,464.1 514.2,463.9 513.2,463.9 512.2,463.8 511.1,463.7 510.2,463.7 509.2,463.6 508.6,463.6 507.6,463.5 506.6,463.5 506.5,463.5 505.5,463.4 504.5,463.3 505.0,463.3 504.0,463.2 503.0,463.1 504.2,463.3 503.2,463.1 502.2,463.0 504.6,463.5 503.6,463.2 502.6,463.0 505.2,463.8 504.2,463.4 503.3,463.1 504.7,463.6 503.7,463.2 505.0,463.9 504.1,463.4 503.2,463.0 504.4,463.6 503.5,463.1 504.6,463.7 503.7,463.2 502.9,462.7 503.8,463.3 502.9,462.7 503.6,463.2 502.8,462.6 502.0,462.0 502.5,462.4 501.8,461.8 501.0,461.1 501.9,461.9 501.1,461.2 502.1,462.2 501.4,461.4 500.7,460.7 501.3,461.4 500.6,460.6 500.0,459.9 500.3,460.2 499.7,459.5 499.0,458.7 499.1,458.8 498.5,458.0 497.9,457.2 497.8,457.1 497.2,456.3 496.6,455.5 496.3,455.1 495.7,454.3 495.1,453.5 494.7,452.9 494.1,452.1 493.5,451.2 493.4,451.0 492.8,450.2 492.9,450.3 492.3,449.5 491.8,448.7 491.7,448.6 491.2,447.7 490.7,446.9 490.5,446.6 490.0,445.8 489.5,444.9 489.2,444.5 488.7,443.6 488.2,442.8 487.9,442.1 487.4,441.3 486.9,440.5 486.4,439.6 485.9,438.7 485.4,437.8 484.9,436.9 484.5,436.1 484.0,435.3 483.5,434.4 483.2,434.0 482.7,433.1 482.5,432.6 482.0,431.7 481.7,431.1 481.2,430.2 480.8,429.5 480.4,428.6 480.0,427.9 479.5,427.0 479.0,426.1 478.4,424.9 470.9,473.5 471.6,472.8 472.3,472.1 473.1,471.3 473.8,470.6 474.5,469.9 475.2,469.2 475.9,468.5 476.6,467.8 476.9,408.5 476.1,407.6 475.4,406.9 474.7,406.2 474.0,405.5 473.3,404.7 472.7,404.1 472.0,403.4 471.3,402.6 470.8,402.0 470.1,401.3 469.4,400.6 468.9,400.1 468.2,399.3 467.5,398.6 467.2,398.2 466.5,397.5 465.8,396.7 465.6,396.5 465.0,395.8 464.6,395.3 463.9,394.6 463.2,393.8 462.6,393.0 462.1,392.5 461.5,391.7 460.8,391.0 460.7,390.7 460.7,390.8 460.1,390.0 460.3,390.4 459.8,389.6 460.1,390.1 459.6,389.3 460.0,389.9 459.4,389.1 458.9,388.2 459.3,388.8 458.8,387.9 459.0,388.3 458.5,387.4 458.6,387.6 458.2,386.7 458.2,386.7 457.8,385.8 457.4,384.9 457.3,384.8 456.9,383.8 456.8,383.5 456.4,382.6 456.0,381.7 455.8,381.2 455.5,380.2 455.1,379.3 454.9,378.7 454.5,377.7 454.4,377.4 454.0,376.4 453.7,375.5 453.6,375.2 453.3,374.3 452.9,373.3 452.6,372.4 452.4,371.9 452.1,370.9 451.8,370.0 451.5,369.0 451.3,368.4 450.9,367.4 450.6,366.5 450.4,365.7 450.1,364.7 449.8,363.8 449.5,362.8 449.2,362.0 448.9,361.0 448.6,360.1 448.3,359.1 448.0,358.2 447.7,357.2 447.3,356.0 447.0,355.1 442.4,345.4 441.9,344.6 441.4,343.7 440.9,342.8 440.3,342.0 439.8,341.1 439.3,340.3 438.8,339.4 438.3,338.6 437.7,337.7 437.2,336.9 436.7,336.0 436.2,335.2 435.7,334.3 435.1,333.4 434.6,332.6 434.1,331.7 433.6,330.9 433.1,330.0 432.5,329.2 432.0,328.3 431.5,327.5 431.0,326.6 430.5,325.8 429.9,324.9 429.4,324.0 428.9,323.2 432.5,330.7 431.9,329.0 431.6,328.1 431.2,327.1 430.9,326.2 430.7,325.5 430.3,324.6 430.0,323.6 429.9,323.2 429.6,322.3 429.2,321.3 429.2,321.2 428.9,320.3 428.6,319.3 428.7,319.5 428.4,318.6 428.1,317.6 428.3,318.3 428.1,317.3 428.2,318.0 428.0,317.0 427.9,316.0 427.9,316.2 427.7,315.2 427.6,314.2 427.5,314.2 427.4,313.2 427.3,312.2 427.2,312.0 427.1,311.0 427.0,310.0 426.9,309.6 426.8,308.6 426.7,307.6 426.7,307.0 426.6,306.0 426.5,305.0 426.4,304.2 426.3,303.2 426.2,302.2 426.1,301.3 426.0,300.3 425.9,299.3 425.8,298.3 425.8,297.6 425.7,296.6 425.6,295.6 425.6,295.1 425.5,294.1 425.4,293.1 425.3,292.1 425.3,291.4 425.2,290.4 425.2,289.4 425.1,288.4 425.0,287.4 425.0,286.6 424.9,285.6 424.8,284.6 424.8,283.6 424.7,282.7 424.7,281.7 424.6,280.7 424.5,279.7 424.5,278.7 424.4,277.7 424.4,276.7 424.3,275.7 424.2,274.7 424.2,273.7 424.1,272.7 424.1,271.6 424.0,270.6 423.9,269.6 418.8,292.2 419.3,291.3 419.8,290.4 420.3,289.6 420.8,288.7 421.3,287.8 421.8,287.0 422.3,286.1 422.8,285.2 423.3,284.4 423.8,283.5 424.3,282.6 424.8,281.8 425.3,280.9 425.8,280.0 426.3,279.2 430.5,269.0 431.0,267.4 431.3,266.4 431.5,265.4 431.7,264.7 432.0,263.8 432.1,263.3 432.1,263.2 432.4,262.2 432.4,262.3 432.7,261.3 432.6,261.8 432.9,260.8 433.1,260.2 433.5,259.3 433.9,258.4 434.4,257.0 434.7,256.1 435.0,255.4 435.4,254.4 435.4,254.4 435.8,253.4 435.6,253.9 436.0,253.0 435.5,253.9 436.0,253.0 436.4,252.2 435.7,253.5 436.2,252.6 435.1,254.3 435.7,253.5 436.2,252.6 435.1,254.2 435.7,253.4 436.3,252.6 435.6,253.5 436.3,252.7 436.9,252.0 436.6,252.4 437.2,251.7 437.9,251.0 437.8,251.1 438.5,250.4 439.2,249.7 439.3,249.7 440.0,249.0 440.7,248.3 440.9,248.1 441.7,247.4 442.4,246.7 443.1,246.0 443.5,245.7 444.2,245.1 445.0,244.4 445.5,244.0 446.2,243.3 447.0,242.6 447.6,242.1 448.4,241.4 449.1,240.8 449.7,240.3 450.4,239.7 450.7,239.4 451.5,238.8 452.2,238.1 452.3,238.1 453.1,237.5 453.9,236.8 453.7,237.0 454.5,236.4 454.2,236.6 455.0,236.0 455.8,235.4 455.5,235.7 456.3,235.1 457.2,234.6 456.8,234.8 457.6,234.3 458.5,233.8 457.8,234.2 458.7,233.7 459.6,233.2 459.1,233.4 460.0,233.0 460.9,232.6 461.8,232.1 461.9,232.1 462.8,231.6 463.7,231.2 464.6,230.8 465.5,230.3 465.9,230.2 466.8,229.8 467.7,229.3 468.6,228.9 469.2,228.7 470.1,228.3 471.0,227.9 471.9,227.4 472.7,227.1 473.6,226.7 474.5,226.3 475.4,225.9 476.4,225.5 477.3,225.1 478.2,224.7 479.5,224.1 480.4,223.7 481.3,223.3 497.4,210.5 498.0,209.7 498.6,208.9 499.3,208.2 499.9,207.4 500.5,206.6 479.0,220.5 480.8,220.1 481.8,219.8 482.8,219.5 483.8,219.2 484.4,219.1 485.4,218.8 485.7,218.7 486.6,218.5 487.6,218.2 487.6,218.2 488.6,218.0 488.3,218.1 489.2,217.9 490.2,217.7 489.5,217.8 490.5,217.6 490.1,217.7 491.1,217.6 492.1,217.5 492.3,217.4 493.3,217.3 494.3,217.2 494.6,217.2 495.6,217.1 496.6,217.0 496.9,217.0 497.9,216.9 498.9,216.8 499.9,216.8 500.3,216.8 501.3,216.7 502.3,216.6 502.6,216.6 503.6,216.6 504.6,216.6 504.9,216.6 505.9,216.5 506.9,216.5 507.0,216.5 508.0,216.5 509.0,216.5 510.0,216.5 510.2,216.5 511.2,216.5 512.2,216.5 512.5,216.6 513.5,216.6 514.5,216.6 514.8,216.6 515.8,216.7 516.8,216.8 517.1,216.8 518.0,216.8 519.0,216.9 519.3,216.9 520.3,217.0 521.3,217.1 521.5,217.1 522.5,217.2 523.5,217.3 524.5,217.4 524.7,217.5 525.7,217.6 526.7,217.7 526.8,217.7 527.8,217.9 528.7,218.0 528.3,218.0 529.3,218.2 530.3,218.3 529.8,218.2 530.8,218.5 531.8,218.7 531.7,218.7 532.7,218.9 533.7,219.1 533.9,219.2 534.9,219.5 535.9,219.7 536.4,219.9 537.3,220.1 538.3,220.4 539.2,220.7 540.0,220.9 540.9,221.1 541.9,221.4 542.9,221.7 543.9,222.0 545.4,222.4 515.1,178.7 515.0,179.7 515.0,180.7 514.9,181.7 514.8,182.7 514.7,183.7 514.6,184.7 514.5,185.7 514.5,186.7 514.4,187.7 514.3,188.7 514.2,189.7 571.7,232.9 572.6,232.6 576.0,231.1 577.1,230.6 578.0,230.2 577.9,230.2 578.8,229.8 579.7,229.4 578.5,229.9 579.5,229.5 577.2,230.3 578.1,230.0 579.1,229.7 575.2,230.7 576.1,230.5 570.0,231.0 571.0,231.0 564.7,230.4 565.7,230.5 566.6,230.7 563.0,229.9 564.0,230.2 561.6,229.3 562.6,229.7 563.5,230.1 562.1,229.5 563.0,229.9 563.9,230.3 563.2,230.0 564.1,230.5 565.0,230.9 564.9,230.9 565.7,231.4 566.1,231.5 566.9,232.0 567.8,232.5 568.5,232.9 569.4,233.4 570.3,233.9 570.8,234.2 571.6,234.7 572.5,235.3 572.5,235.3 573.4,235.8 574.2,236.3 574.3,236.4 575.2,236.9 576.0,237.5 576.1,237.5 576.9,238.1 577.8,238.7 578.6,239.2 578.7,239.3 579.5,239.9 580.3,240.5 580.3,240.5 581.1,241.1 581.9,241.7 581.9,241.7 582.7,242.3 583.5,242.9 583.4,242.8 584.1,243.5 584.9,244.1 585.0,244.2 585.8,244.8 586.5,245.5 586.8,245.7 587.5,246.4 587.5,246.4 588.3,247.1 589.0,247.8 588.8,247.6 589.5,248.3 590.2,249.0 589.8,248.6 590.5,249.3 591.2,250.0 590.6,249.5 591.3,250.2 590.7,249.4 591.3,250.2 591.9,251.0 591.2,250.1 591.8,250.9 592.4,251.7 591.3,250.1 591.8,251.0 592.3,251.8 591.5,250.4 591.9,251.3 592.4,252.1 592.1,251.5 592.5,252.4 592.9,253.3 593.3,254.2 593.3,254.1 593.7,255.0 594.1,255.9 594.2,256.1 594.5,257.1 594.9,258.0 595.3,258.9 595.5,259.5 595.9,260.4 596.3,261.4 596.7,262.4 597.0,263.3 597.7,265.0 598.1,265.9 597.3,263.8 597.6,264.7 597.9,265.7 598.3,266.6 598.6,267.6 598.9,268.5 599.2,269.4 599.5,270.4 599.8,271.3 600.2,272.3 600.5,273.2 600.8,274.2 601.1,275.1 599.1,264.4 599.1,265.4 599.1,266.5 599.2,267.5 599.2,268.5 599.3,269.5 599.3,270.5 599.3,271.5 599.4,272.5 599.4,273.5 599.5,274.5 599.5,275.5 599.5,276.4 599.6,277.4 599.6,278.4 599.6,279.4 599.7,280.4 599.7,281.3 599.8,282.3 599.8,283.3 599.8,284.3 599.8,285.2 599.9,286.2 599.9,287.2 599.9,287.9 600.0,288.9 600.0,289.9 600.0,290.9 600.0,292.2 600.1,293.2 600.1,294.8 600.2,295.8 600.2,296.8 600.3,298.1 600.3,299.1 600.4,299.7 600.4,300.7 600.5,301.7 600.5,301.7 600.5,302.7 600.5,302.2 600.5,303.2 600.5,302.3 600.4,303.3 600.4,304.3 600.5,303.5 600.3,304.5 600.2,305.5 600.4,304.5 600.2,305.5 600.1,306.5 600.1,306.0 600.0,307.0 599.8,307.9 599.6,308.9 599.6,309.0 599.4,310.0 599.1,311.0 598.9,311.9 598.9,312.4 598.6,313.3 598.4,314.3 598.2,315.3 598.0,315.9 597.8,316.9 597.6,317.9 597.4,318.8 597.2,319.6 596.9,320.6 596.7,321.6 596.5,322.6 596.2,323.6 596.0,324.5 595.8,325.5 595.5,326.9 595.2,327.9 604.3,310.5 603.6,311.2 603.0,312.0 602.3,312.7 601.6,313.5 601.0,314.2 600.3,315.0 599.7,315.7 599.0,316.5 598.4,317.2 597.7,318.0 589.1,332.8 588.8,333.7 588.5,334.7 588.1,335.6 587.8,336.6 587.5,337.5 587.2,338.5 586.8,339.4 586.5,340.3 586.2,341.3 585.9,342.2 585.5,343.2 585.2,344.1 584.9,345.1 584.6,346.0 584.2,347.0 583.9,347.9 583.6,348.8 583.3,349.8 582.9,350.7 582.6,351.7 582.3,352.6 581.9,353.5 581.6,354.5 581.3,355.4 581.0,356.4 580.6,357.3 580.2,358.4 579.9,359.4 579.6,360.3 579.2,361.6 578.8,362.6 578.5,363.5 578.2,364.6 577.9,365.6 577.5,366.5 577.3,367.4 576.9,368.3 576.6,369.3 576.4,369.9 576.1,370.9 576.0,371.3 575.6,372.2 575.3,373.2 575.2,373.3 574.9,374.3 574.9,374.2 574.5,375.2 574.1,376.1 574.2,376.0 573.8,376.9 573.7,377.0 573.3,377.9 572.9,378.8 572.8,378.9 572.4,379.8 572.2,380.1 571.8,381.0 571.6,381.5 571.1,382.4 570.6,383.3 570.3,383.9 569.8,384.8 569.4,385.6 568.9,386.5 568.5,387.4 567.9,388.4 567.5,389.2 567.0,390.1 566.6,390.9 566.1,391.8 565.6,392.7 565.3,393.3 564.8,394.2 564.3,395.1 564.0,395.8 563.5,396.7 563.0,397.6 562.5,398.5 562.1,399.2 561.6,400.1 561.1,401.0 560.6,401.9 560.2,402.7 559.7,403.6 559.2,404.4 558.8,405.3 558.3,406.2 557.8,407.0 557.3,407.9 556.8,408.8 556.4,409.7 555.8,410.6 555.3,411.5 561.8,402.8 561.1,403.5 560.4,404.2 559.7,404.9 559.0,405.6 558.3,406.3 557.6,407.0 556.9,407.7 556.2,408.4 555.5,409.1 554.8,409.8 543.2,430.0 543.0,430.9 542.4,433.6 542.1,434.7 541.9,435.7 541.7,436.6 541.7,436.9 541.4,437.9 541.6,437.5 541.3,438.4 541.0,439.4 541.4,438.3 541.1,439.3 540.7,440.2 541.4,438.3 541.0,439.3 542.4,436.4 541.9,437.3 541.5,438.2 543.2,435.3 542.6,436.1 542.1,436.9 543.2,435.3 542.6,436.1 542.0,436.9 542.7,436.0 542.1,436.7 542.5,436.3 541.8,437.0 541.1,437.8 540.5,438.5 540.5,438.4 539.8,439.1 539.1,439.8 538.9,440.0 538.2,440.8 537.5,441.5 537.0,442.0 536.3,442.7 535.6,443.4 534.8,444.1 534.1,444.8 533.4,445.5 532.7,446.2 532.0,446.9 531.2,447.6 530.8,448.0 530.1,448.7 529.4,449.4 529.1,449.7 528.3,450.4 527.6,451.1 527.3,451.4 526.6,452.1 525.8,452.7 525.6,452.9 524.8,453.6 524.1,454.3 523.9,454.4 523.2,455.1 522.4,455.7 522.3,455.8 521.5,456.4 520.8,457.1 520.7,457.1 519.9,457.7 519.1,458.3 519.2,458.2 518.4,458.8 518.5,458.8 517.6,459.4 516.8,459.9 516.0,460.5 515.9,460.6 515.1,461.2 514.2,461.7 514.0,461.8 513.2,462.4 512.3,462.9 512.1,463.1 511.3,463.6 510.4,464.1 510.2,464.3 509.3,464.8 508.5,465.3 508.3,465.4 507.4,465.9 507.4,465.9 506.5,466.4 507.7,465.8 506.8,466.2 509.2,465.2 508.3,465.6 510.7,464.8 513.0,464.2 514.7,464.0 515.3,463.9 514.0,464.0 509.6,464.7" fill="#bcaa62" filter="url(#blur15)" transform="translate(0 10)"/></g>
<g fill="#000"><polyline points="396.0,259.7 396.3,258.7 396.5,257.7 396.8,256.7 397.0,255.8 397.3,254.8 397.5,254.0 397.8,253.0 398.1,252.1 398.3,251.3 398.7,250.3 398.9,249.5 399.3,248.6 399.6,247.8 399.9,246.9 400.3,246.0 400.6,245.0 401.0,244.1 401.4,243.1 401.7,242.3 402.1,241.3 402.4,240.5 402.8,239.6 403.1,238.8 403.5,237.9 403.8,237.2 404.3,236.4 404.6,235.7 405.1,234.9 405.4,234.3 406.0,233.4 406.3,232.9 406.9,232.1 407.3,231.6 407.9,230.8 408.4,230.2 409.0,229.5 409.6,228.9 410.2,228.1 410.9,227.4 411.5,226.8 412.2,226.1 412.8,225.5 413.5,224.8 414.2,224.1 414.8,223.5 415.6,222.8 416.3,222.1 417.0,221.5 417.7,220.8 418.4,220.2 419.1,219.5 419.9,218.8 420.6,218.2 421.3,217.5 422.0,216.9 422.8,216.3 423.5,215.6 424.3,215.0 425.0,214.3 425.8,213.7 426.5,213.0 427.2,212.4 428.0,211.8 428.7,211.2 429.5,210.5 430.1,210.0 430.9,209.4 431.6,208.8 432.4,208.2 433.2,207.6 433.9,207.1 434.7,206.6 435.4,206.1 436.2,205.5 436.9,205.1 437.7,204.5 438.4,204.1 439.3,203.6 440.1,203.1 440.8,202.7 441.7,202.2 442.6,201.7 443.3,201.4 444.2,200.9 445.0,200.5 445.8,200.1 446.7,199.6 447.6,199.2 448.4,198.8 449.3,198.4 450.2,198.0 451.1,197.5 452.0,197.2 452.9,196.7 453.8,196.3 454.7,195.9 455.6,195.5 456.5,195.1 457.4,194.7 458.3,194.3 459.2,193.9 460.1,193.5 461.0,193.1 461.9,192.7 462.9,192.3 463.8,191.9 464.7,191.5 465.7,191.1 466.6,190.6" fill="none" stroke="#000" stroke-width="14" stroke-linejoin="round"/><ellipse cx="396.7" cy="260.0" rx="9.2" ry="7.5" transform="rotate(-45.8 396.7 260.0)"/><ellipse cx="405.0" cy="262.4" rx="8.4" ry="7.3999999999999995" transform="rotate(-45.8 405.0 262.4)"/><ellipse cx="399.1" cy="251.5" rx="9.2" ry="7.5" transform="rotate(-44.0 399.1 251.5)"/><ellipse cx="402.1" cy="243.4" rx="9.2" ry="7.5" transform="rotate(-41.3 402.1 243.4)"/><ellipse cx="405.3" cy="236.1" rx="9.2" ry="7.5" transform="rotate(-33.2 405.3 236.1)"/><ellipse cx="409.7" cy="230.0" rx="9.2" ry="7.5" transform="rotate(-21.2 409.7 230.0)"/><ellipse cx="415.4" cy="224.0" rx="9.2" ry="7.5" transform="rotate(-15.5 415.4 224.0)"/><ellipse cx="421.8" cy="218.1" rx="9.2" ry="7.5" transform="rotate(-13.6 421.8 218.1)"/><ellipse cx="429.2" cy="211.8" rx="9.2" ry="7.5" transform="rotate(-11.5 429.2 211.8)"/><ellipse cx="435.8" cy="206.7" rx="9.2" ry="7.5" transform="rotate(-6.0 435.8 206.7)"/><ellipse cx="442.9" cy="202.4" rx="9.2" ry="7.5" transform="rotate(-0.9 442.9 202.4)"/><ellipse cx="450.6" cy="198.7" rx="9.2" ry="7.5" transform="rotate(2.9 450.6 198.7)"/><ellipse cx="458.6" cy="195.1" rx="9.2" ry="7.5" transform="rotate(4.2 458.6 195.1)"/><ellipse cx="466.9" cy="191.4" rx="9.2" ry="7.5" transform="rotate(3.5 466.9 191.4)"/><ellipse cx="470.5" cy="199.2" rx="8.4" ry="7.3999999999999995" transform="rotate(3.5 470.5 199.2)"/></g>
<ellipse cx="405.0" cy="262.4" rx="6.6" ry="5.6" transform="rotate(-45.8 405.0 262.4)" fill="#9ecaca"/><ellipse cx="407.3" cy="254.2" rx="6.6" ry="5.6" transform="rotate(-44.0 407.3 254.2)" fill="#a6f6bc"/><ellipse cx="410.1" cy="246.5" rx="6.6" ry="5.6" transform="rotate(-41.3 410.1 246.5)" fill="#9ecaca"/><ellipse cx="412.9" cy="240.3" rx="6.6" ry="5.6" transform="rotate(-33.2 412.9 240.3)" fill="#a6f6bc"/><ellipse cx="416.2" cy="235.6" rx="6.6" ry="5.6" transform="rotate(-21.2 416.2 235.6)" fill="#9ecaca"/><ellipse cx="421.3" cy="230.3" rx="6.6" ry="5.6" transform="rotate(-15.5 421.3 230.3)" fill="#a6f6bc"/><ellipse cx="427.5" cy="224.6" rx="6.6" ry="5.6" transform="rotate(-13.6 427.5 224.6)" fill="#9ecaca"/><ellipse cx="434.7" cy="218.4" rx="6.6" ry="5.6" transform="rotate(-11.5 434.7 218.4)" fill="#a6f6bc"/><ellipse cx="440.6" cy="213.9" rx="6.6" ry="5.6" transform="rotate(-6.0 440.6 213.9)" fill="#9ecaca"/><ellipse cx="447.1" cy="210.0" rx="6.6" ry="5.6" transform="rotate(-0.9 447.1 210.0)" fill="#a6f6bc"/><ellipse cx="454.2" cy="206.5" rx="6.6" ry="5.6" transform="rotate(2.9 454.2 206.5)" fill="#9ecaca"/><ellipse cx="462.1" cy="202.9" rx="6.6" ry="5.6" transform="rotate(4.2 462.1 202.9)" fill="#a6f6bc"/><ellipse cx="470.5" cy="199.2" rx="6.6" ry="5.6" transform="rotate(3.5 470.5 199.2)" fill="#9ecaca"/><ellipse cx="396.7" cy="260.0" rx="6.6" ry="4.9" transform="rotate(-45.8 396.7 260.0)" fill="#a6f6bc"/><ellipse cx="399.1" cy="251.5" rx="6.6" ry="4.9" transform="rotate(-44.0 399.1 251.5)" fill="#9ecaca"/><ellipse cx="402.1" cy="243.4" rx="6.6" ry="4.9" transform="rotate(-41.3 402.1 243.4)" fill="#a6f6bc"/><ellipse cx="405.3" cy="236.1" rx="6.6" ry="4.9" transform="rotate(-33.2 405.3 236.1)" fill="#9ecaca"/><ellipse cx="409.7" cy="230.0" rx="6.6" ry="4.9" transform="rotate(-21.2 409.7 230.0)" fill="#a6f6bc"/><ellipse cx="415.4" cy="224.0" rx="6.6" ry="4.9" transform="rotate(-15.5 415.4 224.0)" fill="#9ecaca"/><ellipse cx="421.8" cy="218.1" rx="6.6" ry="4.9" transform="rotate(-13.6 421.8 218.1)" fill="#a6f6bc"/><ellipse cx="429.2" cy="211.8" rx="6.6" ry="4.9" transform="rotate(-11.5 429.2 211.8)" fill="#9ecaca"/><ellipse cx="435.8" cy="206.7" rx="6.6" ry="4.9" transform="rotate(-6.0 435.8 206.7)" fill="#a6f6bc"/><ellipse cx="442.9" cy="202.4" rx="6.6" ry="4.9" transform="rotate(-0.9 442.9 202.4)" fill="#9ecaca"/><ellipse cx="450.6" cy="198.7" rx="6.6" ry="4.9" transform="rotate(2.9 450.6 198.7)" fill="#a6f6bc"/><ellipse cx="458.6" cy="195.1" rx="6.6" ry="4.9" transform="rotate(4.2 458.6 195.1)" fill="#9ecaca"/><ellipse cx="466.9" cy="191.4" rx="6.6" ry="4.9" transform="rotate(3.5 466.9 191.4)" fill="#a6f6bc"/>
<g fill="#000"><polyline points="558.2,199.8 559.2,199.4 560.4,198.9 561.4,198.4 562.3,198.0 563.2,197.5 564.0,197.2 564.9,196.8 565.5,196.5 566.5,196.1 567.1,195.9 568.0,195.6 568.5,195.5 569.4,195.3 569.8,195.3 570.7,195.1 570.8,195.2 571.8,195.2 571.9,195.3 572.3,195.3 573.3,195.6 573.8,195.7 574.8,196.1 575.4,196.3 576.3,196.6 577.2,197.0 577.9,197.3 578.8,197.8 579.5,198.1 580.4,198.6 581.1,199.0 582.0,199.4 582.9,199.9 583.6,200.4 584.5,200.8 585.3,201.3 586.2,201.8 587.0,202.3 587.9,202.8 588.8,203.3 589.6,203.8 590.5,204.3 591.2,204.7 592.1,205.3 592.8,205.7 593.7,206.3 594.5,206.8 595.3,207.3 596.1,207.8 596.8,208.3 597.7,208.9 598.5,209.5 599.2,210.0 600.0,210.5 600.7,211.1 601.5,211.6 602.3,212.2 603.1,212.8 603.8,213.4 604.5,213.9 605.3,214.5 606.1,215.1 606.8,215.7 607.5,216.3 608.2,216.9 609.0,217.6 609.7,218.2 610.4,218.8 611.1,219.5 611.8,220.1 612.5,220.8 613.2,221.4 613.9,222.1 614.5,222.6 615.2,223.3 615.8,223.9 616.5,224.7 617.0,225.2 617.7,226.0 618.3,226.7 618.8,227.3 619.4,228.1 619.9,228.7 620.5,229.5 620.9,230.1 621.5,230.9 621.8,231.4 622.4,232.3 622.9,233.2 623.2,233.7 623.6,234.6 624.0,235.3 624.4,236.2 624.9,237.1 625.2,237.8 625.6,238.7 626.0,239.6 626.4,240.4 626.8,241.4 627.2,242.3 627.5,243.1 627.9,244.0 628.2,244.9 628.6,245.8 629.0,246.8 629.4,247.7 629.7,248.6 630.1,249.6 630.5,250.5 630.9,251.5 631.3,252.4" fill="none" stroke="#000" stroke-width="14" stroke-linejoin="round"/><ellipse cx="558.5" cy="200.5" rx="9.2" ry="7.5" transform="rotate(6.9 558.5 200.5)"/><ellipse cx="561.6" cy="208.6" rx="8.4" ry="7.3999999999999995" transform="rotate(6.9 561.6 208.6)"/><ellipse cx="566.8" cy="196.9" rx="9.2" ry="7.5" transform="rotate(6.5 566.8 196.9)"/><ellipse cx="571.8" cy="196.1" rx="9.2" ry="7.5" transform="rotate(37.6 571.8 196.1)"/><ellipse cx="579.1" cy="198.8" rx="9.2" ry="7.5" transform="rotate(55.2 579.1 198.8)"/><ellipse cx="586.6" cy="203.0" rx="9.2" ry="7.5" transform="rotate(58.0 586.6 203.0)"/><ellipse cx="594.1" cy="207.5" rx="9.2" ry="7.5" transform="rotate(60.5 594.1 207.5)"/><ellipse cx="601.1" cy="212.3" rx="9.2" ry="7.5" transform="rotate(64.4 601.1 212.3)"/><ellipse cx="607.7" cy="217.5" rx="9.2" ry="7.5" transform="rotate(68.9 607.7 217.5)"/><ellipse cx="613.9" cy="223.2" rx="9.2" ry="7.5" transform="rotate(73.1 613.9 223.2)"/><ellipse cx="619.2" cy="229.2" rx="9.2" ry="7.5" transform="rotate(81.1 619.2 229.2)"/><ellipse cx="623.7" cy="236.5" rx="9.2" ry="7.5" transform="rotate(92.2 623.7 236.5)"/><ellipse cx="627.1" cy="244.3" rx="9.2" ry="7.5" transform="rotate(95.7 627.1 244.3)"/><ellipse cx="630.6" cy="252.8" rx="9.2" ry="7.5" transform="rotate(94.8 630.6 252.8)"/><ellipse cx="622.7" cy="256.1" rx="8.4" ry="7.3999999999999995" transform="rotate(94.8 622.7 256.1)"/></g>
<ellipse cx="561.6" cy="208.6" rx="6.6" ry="5.6" transform="rotate(6.9 561.6 208.6)" fill="#9ecaca"/><ellipse cx="569.9" cy="204.9" rx="6.6" ry="5.6" transform="rotate(6.5 569.9 204.9)" fill="#a6f6bc"/><ellipse cx="570.4" cy="204.5" rx="6.6" ry="5.6" transform="rotate(37.6 570.4 204.5)" fill="#9ecaca"/><ellipse cx="575.2" cy="206.5" rx="6.6" ry="5.6" transform="rotate(55.2 575.2 206.5)" fill="#a6f6bc"/><ellipse cx="582.3" cy="210.4" rx="6.6" ry="5.6" transform="rotate(58.0 582.3 210.4)" fill="#9ecaca"/><ellipse cx="589.5" cy="214.7" rx="6.6" ry="5.6" transform="rotate(60.5 589.5 214.7)" fill="#a6f6bc"/><ellipse cx="596.0" cy="219.2" rx="6.6" ry="5.6" transform="rotate(64.4 596.0 219.2)" fill="#9ecaca"/><ellipse cx="602.1" cy="224.0" rx="6.6" ry="5.6" transform="rotate(68.9 602.1 224.0)" fill="#a6f6bc"/><ellipse cx="607.8" cy="229.3" rx="6.6" ry="5.6" transform="rotate(73.1 607.8 229.3)" fill="#9ecaca"/><ellipse cx="612.4" cy="234.3" rx="6.6" ry="5.6" transform="rotate(81.1 612.4 234.3)" fill="#a6f6bc"/><ellipse cx="616.0" cy="240.3" rx="6.6" ry="5.6" transform="rotate(92.2 616.0 240.3)" fill="#9ecaca"/><ellipse cx="619.2" cy="247.6" rx="6.6" ry="5.6" transform="rotate(95.7 619.2 247.6)" fill="#a6f6bc"/><ellipse cx="622.7" cy="256.1" rx="6.6" ry="5.6" transform="rotate(94.8 622.7 256.1)" fill="#9ecaca"/><ellipse cx="558.5" cy="200.5" rx="6.6" ry="4.9" transform="rotate(6.9 558.5 200.5)" fill="#a6f6bc"/><ellipse cx="566.8" cy="196.9" rx="6.6" ry="4.9" transform="rotate(6.5 566.8 196.9)" fill="#9ecaca"/><ellipse cx="571.8" cy="196.1" rx="6.6" ry="4.9" transform="rotate(37.6 571.8 196.1)" fill="#a6f6bc"/><ellipse cx="579.1" cy="198.8" rx="6.6" ry="4.9" transform="rotate(55.2 579.1 198.8)" fill="#9ecaca"/><ellipse cx="586.6" cy="203.0" rx="6.6" ry="4.9" transform="rotate(58.0 586.6 203.0)" fill="#a6f6bc"/><ellipse cx="594.1" cy="207.5" rx="6.6" ry="4.9" transform="rotate(60.5 594.1 207.5)" fill="#9ecaca"/><ellipse cx="601.1" cy="212.3" rx="6.6" ry="4.9" transform="rotate(64.4 601.1 212.3)" fill="#a6f6bc"/><ellipse cx="607.7" cy="217.5" rx="6.6" ry="4.9" transform="rotate(68.9 607.7 217.5)" fill="#9ecaca"/><ellipse cx="613.9" cy="223.2" rx="6.6" ry="4.9" transform="rotate(73.1 613.9 223.2)" fill="#a6f6bc"/><ellipse cx="619.2" cy="229.2" rx="6.6" ry="4.9" transform="rotate(81.1 619.2 229.2)" fill="#9ecaca"/><ellipse cx="623.7" cy="236.5" rx="6.6" ry="4.9" transform="rotate(92.2 623.7 236.5)" fill="#a6f6bc"/><ellipse cx="627.1" cy="244.3" rx="6.6" ry="4.9" transform="rotate(95.7 627.1 244.3)" fill="#9ecaca"/><ellipse cx="630.6" cy="252.8" rx="6.6" ry="4.9" transform="rotate(94.8 630.6 252.8)" fill="#a6f6bc"/>
<g fill="#000"><polyline points="469.5,186.0 470.5,185.8 471.6,185.5 472.6,185.2 473.5,184.9 474.5,184.6 475.4,184.4 476.4,184.1 477.3,183.9 478.3,183.6 479.1,183.4 480.1,183.2 481.0,183.0 481.9,182.8 482.8,182.7 483.7,182.5 484.5,182.3 485.5,182.2 486.3,182.1 487.3,182.0 488.2,181.9 489.2,181.7 490.2,181.6 491.2,181.6 492.2,181.5 493.1,181.4 494.1,181.3 495.0,181.2 496.0,181.2 497.0,181.1 497.9,181.0 498.9,181.0 499.9,180.9 500.9,180.9 501.9,180.8 502.8,180.8 503.8,180.8 504.8,180.7 505.7,180.7 506.7,180.7 507.6,180.7 508.6,180.7 509.6,180.7 510.5,180.7 511.5,180.7 512.4,180.7 513.4,180.8 514.4,180.8 515.4,180.8 516.4,180.9 517.3,180.9 518.3,181.0 519.3,181.0 520.2,181.1 521.2,181.2 522.2,181.2 523.1,181.3 524.1,181.4 525.0,181.5 526.0,181.6 527.0,181.7 527.9,181.8 528.9,181.9 529.8,182.0 530.8,182.2 531.7,182.3 532.7,182.4 533.7,182.6 534.5,182.7 535.5,182.9 536.3,183.0 537.3,183.2 538.3,183.4 539.1,183.6 540.1,183.9 541.1,184.1 541.9,184.3 542.9,184.6 543.8,184.8 544.8,185.0 545.7,185.3 546.6,185.6 547.6,185.8 548.5,186.1 549.5,186.4 550.5,186.6 551.4,186.9 552.4,187.2 553.4,187.4 554.4,187.7 555.4,188.0" fill="none" stroke="#000" stroke-width="14" stroke-linejoin="round"/><ellipse cx="469.7" cy="186.8" rx="9.2" ry="7.5" transform="rotate(13.7 469.7 186.8)"/><ellipse cx="471.9" cy="195.1" rx="8.4" ry="7.3999999999999995" transform="rotate(13.7 471.9 195.1)"/><ellipse cx="478.5" cy="184.4" rx="9.2" ry="7.5" transform="rotate(13.6 478.5 184.4)"/><ellipse cx="486.4" cy="182.9" rx="9.2" ry="7.5" transform="rotate(21.0 486.4 182.9)"/><ellipse cx="495.1" cy="182.0" rx="9.2" ry="7.5" transform="rotate(24.1 495.1 182.0)"/><ellipse cx="503.8" cy="181.6" rx="9.2" ry="7.5" transform="rotate(26.3 503.8 181.6)"/><ellipse cx="512.4" cy="181.5" rx="9.2" ry="7.5" transform="rotate(29.8 512.4 181.5)"/><ellipse cx="521.1" cy="182.0" rx="9.2" ry="7.5" transform="rotate(32.1 521.1 182.0)"/><ellipse cx="529.7" cy="182.8" rx="9.2" ry="7.5" transform="rotate(35.6 529.7 182.8)"/><ellipse cx="538.1" cy="184.2" rx="9.2" ry="7.5" transform="rotate(39.9 538.1 184.2)"/><ellipse cx="546.4" cy="186.3" rx="9.2" ry="7.5" transform="rotate(43.4 546.4 186.3)"/><ellipse cx="555.2" cy="188.8" rx="9.2" ry="7.5" transform="rotate(42.8 555.2 188.8)"/><ellipse cx="553.0" cy="197.1" rx="8.4" ry="7.3999999999999995" transform="rotate(42.8 553.0 197.1)"/></g>
<ellipse cx="471.9" cy="195.1" rx="6.6" ry="5.6" transform="rotate(13.7 471.9 195.1)" fill="#9ecaca"/><ellipse cx="480.6" cy="192.7" rx="6.6" ry="5.6" transform="rotate(13.6 480.6 192.7)" fill="#a6f6bc"/><ellipse cx="487.5" cy="191.4" rx="6.6" ry="5.6" transform="rotate(21.0 487.5 191.4)" fill="#9ecaca"/><ellipse cx="495.6" cy="190.6" rx="6.6" ry="5.6" transform="rotate(24.1 495.6 190.6)" fill="#a6f6bc"/><ellipse cx="504.1" cy="190.2" rx="6.6" ry="5.6" transform="rotate(26.3 504.1 190.2)" fill="#9ecaca"/><ellipse cx="512.1" cy="190.1" rx="6.6" ry="5.6" transform="rotate(29.8 512.1 190.1)" fill="#a6f6bc"/><ellipse cx="520.5" cy="190.5" rx="6.6" ry="5.6" transform="rotate(32.1 520.5 190.5)" fill="#9ecaca"/><ellipse cx="528.6" cy="191.3" rx="6.6" ry="5.6" transform="rotate(35.6 528.6 191.3)" fill="#a6f6bc"/><ellipse cx="536.3" cy="192.6" rx="6.6" ry="5.6" transform="rotate(39.9 536.3 192.6)" fill="#9ecaca"/><ellipse cx="544.1" cy="194.6" rx="6.6" ry="5.6" transform="rotate(43.4 544.1 194.6)" fill="#a6f6bc"/><ellipse cx="553.0" cy="197.1" rx="6.6" ry="5.6" transform="rotate(42.8 553.0 197.1)" fill="#9ecaca"/><ellipse cx="469.7" cy="186.8" rx="6.6" ry="4.9" transform="rotate(13.7 469.7 186.8)" fill="#a6f6bc"/><ellipse cx="478.5" cy="184.4" rx="6.6" ry="4.9" transform="rotate(13.6 478.5 184.4)" fill="#9ecaca"/><ellipse cx="486.4" cy="182.9" rx="6.6" ry="4.9" transform="rotate(21.0 486.4 182.9)" fill="#a6f6bc"/><ellipse cx="495.1" cy="182.0" rx="6.6" ry="4.9" transform="rotate(24.1 495.1 182.0)" fill="#9ecaca"/><ellipse cx="503.8" cy="181.6" rx="6.6" ry="4.9" transform="rotate(26.3 503.8 181.6)" fill="#a6f6bc"/><ellipse cx="512.4" cy="181.5" rx="6.6" ry="4.9" transform="rotate(29.8 512.4 181.5)" fill="#9ecaca"/><ellipse cx="521.1" cy="182.0" rx="6.6" ry="4.9" transform="rotate(32.1 521.1 182.0)" fill="#a6f6bc"/><ellipse cx="529.7" cy="182.8" rx="6.6" ry="4.9" transform="rotate(35.6 529.7 182.8)" fill="#9ecaca"/><ellipse cx="538.1" cy="184.2" rx="6.6" ry="4.9" transform="rotate(39.9 538.1 184.2)" fill="#a6f6bc"/><ellipse cx="546.4" cy="186.3" rx="6.6" ry="4.9" transform="rotate(43.4 546.4 186.3)" fill="#9ecaca"/><ellipse cx="555.2" cy="188.8" rx="6.6" ry="4.9" transform="rotate(42.8 555.2 188.8)" fill="#a6f6bc"/>
<g fill="#000"><polyline points="398.9,343.0 398.6,342.1 398.2,341.0 397.8,340.1 397.5,339.1 397.2,338.2 396.8,337.2 396.5,336.3 396.2,335.4 395.9,334.5 395.6,333.6 395.3,332.7 395.0,331.7 394.7,330.8 394.4,329.9 394.1,329.0 393.9,328.2 393.7,327.2 393.5,326.4 393.2,325.5 393.1,324.7 392.9,323.7 392.7,322.7 392.5,321.9 392.4,320.9 392.2,320.0 392.1,319.0 391.9,318.1 391.8,317.1 391.7,316.2 391.6,315.2 391.4,314.2 391.3,313.3 391.2,312.3 391.1,311.4 391.0,310.4 390.9,309.4 390.8,308.4 390.7,307.4 390.6,306.4 390.5,305.4 390.5,304.4 390.4,303.4 390.3,302.4 390.2,301.4 390.1,300.5 390.0,299.5 389.9,298.5 389.8,297.5 389.8,296.5 389.7,295.5 389.6,294.6 389.6,293.6 389.5,292.6 389.4,291.6 389.4,290.6 389.3,289.6 389.2,288.6 389.2,287.6 389.1,286.6 389.0,285.6 389.0,284.6 388.9,283.6 388.9,282.6 388.8,281.6 388.7,280.6 388.7,279.6 388.6,278.6 388.6,277.6 388.5,276.6 388.4,275.6 388.4,274.6 388.3,273.6 388.3,272.6 388.2,271.6" fill="none" stroke="#000" stroke-width="14" stroke-linejoin="round"/><ellipse cx="399.6" cy="342.8" rx="9.2" ry="7.5" transform="rotate(-80.5 399.6 342.8)"/><ellipse cx="407.8" cy="340.1" rx="8.4" ry="7.3999999999999995" transform="rotate(-80.5 407.8 340.1)"/><ellipse cx="396.6" cy="334.3" rx="9.2" ry="7.5" transform="rotate(-80.6 396.6 334.3)"/><ellipse cx="394.2" cy="326.3" rx="9.2" ry="7.5" transform="rotate(-75.0 394.2 326.3)"/><ellipse cx="392.6" cy="317.0" rx="9.2" ry="7.5" transform="rotate(-69.7 392.6 317.0)"/><ellipse cx="391.6" cy="308.3" rx="9.2" ry="7.5" transform="rotate(-67.5 391.6 308.3)"/><ellipse cx="390.8" cy="299.4" rx="9.2" ry="7.5" transform="rotate(-66.9 390.8 299.4)"/><ellipse cx="390.1" cy="289.6" rx="9.2" ry="7.5" transform="rotate(-65.8 390.1 289.6)"/><ellipse cx="389.5" cy="280.6" rx="9.2" ry="7.5" transform="rotate(-65.4 389.5 280.6)"/><ellipse cx="389.0" cy="271.6" rx="9.2" ry="7.5" transform="rotate(-65.6 389.0 271.6)"/><ellipse cx="397.6" cy="271.0" rx="8.4" ry="7.3999999999999995" transform="rotate(-65.6 397.6 271.0)"/></g>
<ellipse cx="407.8" cy="340.1" rx="6.6" ry="5.6" transform="rotate(-80.5 407.8 340.1)" fill="#9ecaca"/><ellipse cx="404.8" cy="331.5" rx="6.6" ry="5.6" transform="rotate(-80.6 404.8 331.5)" fill="#a6f6bc"/><ellipse cx="402.6" cy="324.3" rx="6.6" ry="5.6" transform="rotate(-75.0 402.6 324.3)" fill="#9ecaca"/><ellipse cx="401.1" cy="315.9" rx="6.6" ry="5.6" transform="rotate(-69.7 401.1 315.9)" fill="#a6f6bc"/><ellipse cx="400.2" cy="307.5" rx="6.6" ry="5.6" transform="rotate(-67.5 400.2 307.5)" fill="#9ecaca"/><ellipse cx="399.4" cy="298.7" rx="6.6" ry="5.6" transform="rotate(-66.9 399.4 298.7)" fill="#a6f6bc"/><ellipse cx="398.7" cy="289.0" rx="6.6" ry="5.6" transform="rotate(-65.8 398.7 289.0)" fill="#9ecaca"/><ellipse cx="398.1" cy="280.1" rx="6.6" ry="5.6" transform="rotate(-65.4 398.1 280.1)" fill="#a6f6bc"/><ellipse cx="397.6" cy="271.0" rx="6.6" ry="5.6" transform="rotate(-65.6 397.6 271.0)" fill="#9ecaca"/><ellipse cx="399.6" cy="342.8" rx="6.6" ry="4.9" transform="rotate(-80.5 399.6 342.8)" fill="#a6f6bc"/><ellipse cx="396.6" cy="334.3" rx="6.6" ry="4.9" transform="rotate(-80.6 396.6 334.3)" fill="#9ecaca"/><ellipse cx="394.2" cy="326.3" rx="6.6" ry="4.9" transform="rotate(-75.0 394.2 326.3)" fill="#a6f6bc"/><ellipse cx="392.6" cy="317.0" rx="6.6" ry="4.9" transform="rotate(-69.7 392.6 317.0)" fill="#9ecaca"/><ellipse cx="391.6" cy="308.3" rx="6.6" ry="4.9" transform="rotate(-67.5 391.6 308.3)" fill="#a6f6bc"/><ellipse cx="390.8" cy="299.4" rx="6.6" ry="4.9" transform="rotate(-66.9 390.8 299.4)" fill="#9ecaca"/><ellipse cx="390.1" cy="289.6" rx="6.6" ry="4.9" transform="rotate(-65.8 390.1 289.6)" fill="#a6f6bc"/><ellipse cx="389.5" cy="280.6" rx="6.6" ry="4.9" transform="rotate(-65.4 389.5 280.6)" fill="#9ecaca"/><ellipse cx="389.0" cy="271.6" rx="6.6" ry="4.9" transform="rotate(-65.6 389.0 271.6)" fill="#a6f6bc"/>
<g fill="#000"><polyline points="634.8,262.2 634.8,263.2 634.9,264.2 634.9,265.2 635.0,266.2 635.0,267.2 635.0,268.2 635.1,269.2 635.1,270.2 635.2,271.2 635.2,272.2 635.2,273.2 635.3,274.2 635.3,275.2 635.3,276.2 635.4,277.2 635.4,278.2 635.5,279.1 635.5,280.1 635.5,281.1 635.6,282.1 635.6,283.1 635.6,284.1 635.7,285.1 635.7,286.1 635.7,287.1 635.7,288.0 635.8,289.0 635.8,290.0 635.8,291.0 635.9,292.0 635.9,293.1 635.9,294.1 636.0,295.2 636.0,296.2 636.1,297.2 636.1,298.2 636.2,299.1 636.2,300.1 636.3,301.0 636.3,301.8 636.3,302.8 636.3,303.6 636.2,304.6 636.2,305.3 636.1,306.3 636.1,307.1 636.0,308.1 635.9,309.1 635.8,309.8 635.6,310.8 635.5,311.6 635.3,312.6 635.1,313.6 635.0,314.4 634.8,315.4 634.6,316.4 634.4,317.4 634.2,318.3 634.0,319.2 633.8,320.2 633.6,321.1 633.4,322.1 633.1,323.1 632.9,324.0 632.7,325.0 632.5,325.9 632.2,326.9 632.0,327.8 631.8,328.8 631.6,329.8 631.3,330.7 631.1,331.7 630.9,332.7 630.6,333.7 630.4,334.6 630.2,335.7 630.0,336.6" fill="none" stroke="#000" stroke-width="14" stroke-linejoin="round"/><ellipse cx="634.0" cy="262.3" rx="9.2" ry="7.5" transform="rotate(115.8 634.0 262.3)"/><ellipse cx="625.4" cy="262.6" rx="8.4" ry="7.3999999999999995" transform="rotate(115.8 625.4 262.6)"/><ellipse cx="634.4" cy="271.2" rx="9.2" ry="7.5" transform="rotate(115.7 634.4 271.2)"/><ellipse cx="634.7" cy="279.2" rx="9.2" ry="7.5" transform="rotate(115.9 634.7 279.2)"/><ellipse cx="634.9" cy="288.1" rx="9.2" ry="7.5" transform="rotate(116.6 634.9 288.1)"/><ellipse cx="635.2" cy="296.2" rx="9.2" ry="7.5" transform="rotate(115.0 635.2 296.2)"/><ellipse cx="635.4" cy="304.5" rx="9.2" ry="7.5" transform="rotate(120.1 635.4 304.5)"/><ellipse cx="634.7" cy="311.5" rx="9.2" ry="7.5" transform="rotate(128.2 634.7 311.5)"/><ellipse cx="633.0" cy="320.0" rx="9.2" ry="7.5" transform="rotate(130.2 633.0 320.0)"/><ellipse cx="631.2" cy="327.7" rx="9.2" ry="7.5" transform="rotate(131.4 631.2 327.7)"/><ellipse cx="629.2" cy="336.5" rx="9.2" ry="7.5" transform="rotate(130.7 629.2 336.5)"/><ellipse cx="620.8" cy="334.6" rx="8.4" ry="7.3999999999999995" transform="rotate(130.7 620.8 334.6)"/></g>
<ellipse cx="625.4" cy="262.6" rx="6.6" ry="5.6" transform="rotate(115.8 625.4 262.6)" fill="#9ecaca"/><ellipse cx="625.8" cy="271.6" rx="6.6" ry="5.6" transform="rotate(115.7 625.8 271.6)" fill="#a6f6bc"/><ellipse cx="626.1" cy="279.5" rx="6.6" ry="5.6" transform="rotate(115.9 626.1 279.5)" fill="#9ecaca"/><ellipse cx="626.4" cy="288.3" rx="6.6" ry="5.6" transform="rotate(116.6 626.4 288.3)" fill="#a6f6bc"/><ellipse cx="626.7" cy="296.7" rx="6.6" ry="5.6" transform="rotate(115.0 626.7 296.7)" fill="#9ecaca"/><ellipse cx="626.8" cy="304.2" rx="6.6" ry="5.6" transform="rotate(120.1 626.8 304.2)" fill="#a6f6bc"/><ellipse cx="626.2" cy="310.0" rx="6.6" ry="5.6" transform="rotate(128.2 626.2 310.0)" fill="#9ecaca"/><ellipse cx="624.6" cy="318.2" rx="6.6" ry="5.6" transform="rotate(130.2 624.6 318.2)" fill="#a6f6bc"/><ellipse cx="622.9" cy="325.7" rx="6.6" ry="5.6" transform="rotate(131.4 622.9 325.7)" fill="#9ecaca"/><ellipse cx="620.8" cy="334.6" rx="6.6" ry="5.6" transform="rotate(130.7 620.8 334.6)" fill="#a6f6bc"/><ellipse cx="634.0" cy="262.3" rx="6.6" ry="4.9" transform="rotate(115.8 634.0 262.3)" fill="#a6f6bc"/><ellipse cx="634.4" cy="271.2" rx="6.6" ry="4.9" transform="rotate(115.7 634.4 271.2)" fill="#9ecaca"/><ellipse cx="634.7" cy="279.2" rx="6.6" ry="4.9" transform="rotate(115.9 634.7 279.2)" fill="#a6f6bc"/><ellipse cx="634.9" cy="288.1" rx="6.6" ry="4.9" transform="rotate(116.6 634.9 288.1)" fill="#9ecaca"/><ellipse cx="635.2" cy="296.2" rx="6.6" ry="4.9" transform="rotate(115.0 635.2 296.2)" fill="#a6f6bc"/><ellipse cx="635.4" cy="304.5" rx="6.6" ry="4.9" transform="rotate(120.1 635.4 304.5)" fill="#9ecaca"/><ellipse cx="634.7" cy="311.5" rx="6.6" ry="4.9" transform="rotate(128.2 634.7 311.5)" fill="#a6f6bc"/><ellipse cx="633.0" cy="320.0" rx="6.6" ry="4.9" transform="rotate(130.2 633.0 320.0)" fill="#9ecaca"/><ellipse cx="631.2" cy="327.7" rx="6.6" ry="4.9" transform="rotate(131.4 631.2 327.7)" fill="#a6f6bc"/><ellipse cx="629.2" cy="336.5" rx="6.6" ry="4.9" transform="rotate(130.7 629.2 336.5)" fill="#9ecaca"/>
<g fill="#000"><polyline points="451.5,433.7 450.8,433.0 450.1,432.3 449.4,431.5 448.7,430.8 448.0,430.1 447.3,429.4 446.7,428.7 446.0,427.9 445.3,427.2 444.6,426.5 443.9,425.8 443.3,425.1 442.6,424.3 441.9,423.6 441.2,422.9 440.6,422.2 439.9,421.5 439.3,420.7 438.7,420.1 438.0,419.3 437.4,418.6 436.7,417.8 436.1,417.1 435.4,416.3 434.8,415.6 434.2,414.9 433.5,414.1 432.9,413.4 432.4,412.7 431.8,411.9 431.3,411.3 430.8,410.6 430.2,409.8 429.8,409.1 429.2,408.3 428.8,407.6 428.4,406.9 427.9,406.1 427.5,405.3 427.0,404.5 426.6,403.7 426.2,402.8 425.8,402.0 425.4,401.1 425.0,400.3 424.6,399.4 424.3,398.6 423.9,397.7 423.5,396.8 423.2,395.9 422.8,395.0 422.5,394.1 422.1,393.2 421.7,392.3 421.4,391.4 421.0,390.4 420.7,389.6 420.4,388.6 420.0,387.7 419.7,386.8 419.4,385.9 419.1,385.0 418.8,384.1 418.4,383.1 418.1,382.2 417.8,381.3 417.5,380.3 417.2,379.4 416.9,378.4 416.6,377.5 416.3,376.6 416.0,375.6 415.7,374.7 415.4,373.7 415.0,372.8 414.7,371.8 414.4,370.9 414.1,369.9 413.8,369.0 413.5,368.0 413.2,367.0 412.9,366.1" fill="none" stroke="#000" stroke-width="14" stroke-linejoin="round"/><ellipse cx="452.1" cy="433.2" rx="9.2" ry="7.5" transform="rotate(-105.3 452.1 433.2)"/><ellipse cx="458.3" cy="427.3" rx="8.4" ry="7.3999999999999995" transform="rotate(-105.3 458.3 427.3)"/><ellipse cx="445.9" cy="426.7" rx="9.2" ry="7.5" transform="rotate(-105.6 445.9 426.7)"/><ellipse cx="439.9" cy="420.2" rx="9.2" ry="7.5" transform="rotate(-104.1 439.9 420.2)"/><ellipse cx="434.1" cy="413.6" rx="9.2" ry="7.5" transform="rotate(-102.2 434.1 413.6)"/><ellipse cx="429.5" cy="407.2" rx="9.2" ry="7.5" transform="rotate(-93.1 429.5 407.2)"/><ellipse cx="425.4" cy="399.1" rx="9.2" ry="7.5" transform="rotate(-85.9 425.4 399.1)"/><ellipse cx="422.1" cy="391.1" rx="9.2" ry="7.5" transform="rotate(-83.0 422.1 391.1)"/><ellipse cx="419.2" cy="382.9" rx="9.2" ry="7.5" transform="rotate(-80.8 419.2 382.9)"/><ellipse cx="416.4" cy="374.4" rx="9.2" ry="7.5" transform="rotate(-79.9 416.4 374.4)"/><ellipse cx="413.7" cy="365.8" rx="9.2" ry="7.5" transform="rotate(-80.1 413.7 365.8)"/><ellipse cx="421.8" cy="363.1" rx="8.4" ry="7.3999999999999995" transform="rotate(-80.1 421.8 363.1)"/></g>
<ellipse cx="458.3" cy="427.3" rx="6.6" ry="5.6" transform="rotate(-105.3 458.3 427.3)" fill="#9ecaca"/><ellipse cx="452.1" cy="420.7" rx="6.6" ry="5.6" transform="rotate(-105.6 452.1 420.7)" fill="#a6f6bc"/><ellipse cx="446.3" cy="414.4" rx="6.6" ry="5.6" transform="rotate(-104.1 446.3 414.4)" fill="#9ecaca"/><ellipse cx="440.7" cy="408.0" rx="6.6" ry="5.6" transform="rotate(-102.2 440.7 408.0)" fill="#a6f6bc"/><ellipse cx="436.9" cy="402.8" rx="6.6" ry="5.6" transform="rotate(-93.1 436.9 402.8)" fill="#9ecaca"/><ellipse cx="433.2" cy="395.6" rx="6.6" ry="5.6" transform="rotate(-85.9 433.2 395.6)" fill="#a6f6bc"/><ellipse cx="430.2" cy="388.0" rx="6.6" ry="5.6" transform="rotate(-83.0 430.2 388.0)" fill="#9ecaca"/><ellipse cx="427.3" cy="380.1" rx="6.6" ry="5.6" transform="rotate(-80.8 427.3 380.1)" fill="#a6f6bc"/><ellipse cx="424.6" cy="371.8" rx="6.6" ry="5.6" transform="rotate(-79.9 424.6 371.8)" fill="#9ecaca"/><ellipse cx="421.8" cy="363.1" rx="6.6" ry="5.6" transform="rotate(-80.1 421.8 363.1)" fill="#a6f6bc"/><ellipse cx="452.1" cy="433.2" rx="6.6" ry="4.9" transform="rotate(-105.3 452.1 433.2)" fill="#a6f6bc"/><ellipse cx="445.9" cy="426.7" rx="6.6" ry="4.9" transform="rotate(-105.6 445.9 426.7)" fill="#9ecaca"/><ellipse cx="439.9" cy="420.2" rx="6.6" ry="4.9" transform="rotate(-104.1 439.9 420.2)" fill="#a6f6bc"/><ellipse cx="434.1" cy="413.6" rx="6.6" ry="4.9" transform="rotate(-102.2 434.1 413.6)" fill="#9ecaca"/><ellipse cx="429.5" cy="407.2" rx="6.6" ry="4.9" transform="rotate(-93.1 429.5 407.2)" fill="#a6f6bc"/><ellipse cx="425.4" cy="399.1" rx="6.6" ry="4.9" transform="rotate(-85.9 425.4 399.1)" fill="#9ecaca"/><ellipse cx="422.1" cy="391.1" rx="6.6" ry="4.9" transform="rotate(-83.0 422.1 391.1)" fill="#a6f6bc"/><ellipse cx="419.2" cy="382.9" rx="6.6" ry="4.9" transform="rotate(-80.8 419.2 382.9)" fill="#9ecaca"/><ellipse cx="416.4" cy="374.4" rx="6.6" ry="4.9" transform="rotate(-79.9 416.4 374.4)" fill="#a6f6bc"/><ellipse cx="413.7" cy="365.8" rx="6.6" ry="4.9" transform="rotate(-80.1 413.7 365.8)" fill="#9ecaca"/>
<g fill="#000"><polyline points="623.1,344.0 622.8,344.9 622.5,345.9 622.2,346.8 621.8,347.8 621.5,348.7 621.2,349.6 620.9,350.6 620.5,351.5 620.2,352.5 619.9,353.4 619.5,354.4 619.2,355.3 618.9,356.2 618.6,357.2 618.2,358.1 617.9,359.1 617.6,360.0 617.3,361.0 616.9,361.9 616.6,362.9 616.3,363.8 616.0,364.7 615.6,365.7 615.3,366.6 615.0,367.6 614.6,368.5 614.3,369.5 614.0,370.4 613.7,371.4 613.3,372.4 613.0,373.3 612.7,374.2 612.4,375.2 612.1,376.2 611.7,377.1 611.4,378.1 611.1,379.0 610.8,380.0 610.5,380.9 610.2,381.8 609.9,382.7 609.6,383.7 609.3,384.5 608.9,385.4 608.6,386.3 608.2,387.2 607.9,388.0 607.5,389.0 607.2,389.8 606.8,390.7 606.5,391.5 606.1,392.4 605.7,393.2 605.2,394.1 604.9,394.9 604.4,395.8 604.0,396.7 603.6,397.5 603.1,398.4 602.7,399.3 602.2,400.1 601.7,401.0 601.3,401.9 600.8,402.8 600.4,403.6 599.9,404.5 599.4,405.4 598.9,406.3 598.5,407.2 598.0,408.1 597.5,408.9 597.1,409.8 596.6,410.7 596.1,411.5 595.7,412.4 595.2,413.3 594.7,414.1 594.3,415.0 593.8,415.9 593.3,416.8 592.8,417.6 592.3,418.5 591.9,419.4 591.4,420.3 590.9,421.1 590.4,422.0 589.9,422.9 589.5,423.8 589.0,424.6 588.5,425.5 588.0,426.4 587.5,427.3 587.0,428.1 586.6,429.0" fill="none" stroke="#000" stroke-width="14" stroke-linejoin="round"/><ellipse cx="622.4" cy="343.7" rx="9.2" ry="7.5" transform="rotate(137.1 622.4 343.7)"/><ellipse cx="614.3" cy="340.9" rx="8.4" ry="7.3999999999999995" transform="rotate(137.1 614.3 340.9)"/><ellipse cx="619.4" cy="352.2" rx="9.2" ry="7.5" transform="rotate(137.1 619.4 352.2)"/><ellipse cx="616.8" cy="359.8" rx="9.2" ry="7.5" transform="rotate(137.1 616.8 359.8)"/><ellipse cx="613.9" cy="368.2" rx="9.2" ry="7.5" transform="rotate(137.2 613.9 368.2)"/><ellipse cx="611.3" cy="375.9" rx="9.2" ry="7.5" transform="rotate(136.2 611.3 375.9)"/><ellipse cx="608.5" cy="384.2" rx="9.2" ry="7.5" transform="rotate(138.0 608.5 384.2)"/><ellipse cx="605.7" cy="391.2" rx="9.2" ry="7.5" transform="rotate(142.4 605.7 391.2)"/><ellipse cx="601.9" cy="398.9" rx="9.2" ry="7.5" transform="rotate(145.5 601.9 398.9)"/><ellipse cx="598.2" cy="405.9" rx="9.2" ry="7.5" transform="rotate(145.8 598.2 405.9)"/><ellipse cx="594.0" cy="413.8" rx="9.2" ry="7.5" transform="rotate(146.6 594.0 413.8)"/><ellipse cx="590.2" cy="420.8" rx="9.2" ry="7.5" transform="rotate(146.8 590.2 420.8)"/><ellipse cx="585.9" cy="428.6" rx="9.2" ry="7.5" transform="rotate(146.7 585.9 428.6)"/><ellipse cx="578.3" cy="424.5" rx="8.4" ry="7.3999999999999995" transform="rotate(146.7 578.3 424.5)"/></g>
<ellipse cx="614.3" cy="340.9" rx="6.6" ry="5.6" transform="rotate(137.1 614.3 340.9)" fill="#9ecaca"/><ellipse cx="611.3" cy="349.4" rx="6.6" ry="5.6" transform="rotate(137.1 611.3 349.4)" fill="#a6f6bc"/><ellipse cx="608.7" cy="356.9" rx="6.6" ry="5.6" transform="rotate(137.1 608.7 356.9)" fill="#9ecaca"/><ellipse cx="605.8" cy="365.4" rx="6.6" ry="5.6" transform="rotate(137.2 605.8 365.4)" fill="#a6f6bc"/><ellipse cx="603.1" cy="373.2" rx="6.6" ry="5.6" transform="rotate(136.2 603.1 373.2)" fill="#9ecaca"/><ellipse cx="600.4" cy="381.3" rx="6.6" ry="5.6" transform="rotate(138.0 600.4 381.3)" fill="#a6f6bc"/><ellipse cx="597.9" cy="387.6" rx="6.6" ry="5.6" transform="rotate(142.4 597.9 387.6)" fill="#9ecaca"/><ellipse cx="594.3" cy="394.9" rx="6.6" ry="5.6" transform="rotate(145.5 594.3 394.9)" fill="#a6f6bc"/><ellipse cx="590.6" cy="401.9" rx="6.6" ry="5.6" transform="rotate(145.8 590.6 401.9)" fill="#9ecaca"/><ellipse cx="586.5" cy="409.6" rx="6.6" ry="5.6" transform="rotate(146.6 586.5 409.6)" fill="#a6f6bc"/><ellipse cx="582.7" cy="416.6" rx="6.6" ry="5.6" transform="rotate(146.8 582.7 416.6)" fill="#9ecaca"/><ellipse cx="578.3" cy="424.5" rx="6.6" ry="5.6" transform="rotate(146.7 578.3 424.5)" fill="#a6f6bc"/><ellipse cx="622.4" cy="343.7" rx="6.6" ry="4.9" transform="rotate(137.1 622.4 343.7)" fill="#a6f6bc"/><ellipse cx="619.4" cy="352.2" rx="6.6" ry="4.9" transform="rotate(137.1 619.4 352.2)" fill="#9ecaca"/><ellipse cx="616.8" cy="359.8" rx="6.6" ry="4.9" transform="rotate(137.1 616.8 359.8)" fill="#a6f6bc"/><ellipse cx="613.9" cy="368.2" rx="6.6" ry="4.9" transform="rotate(137.2 613.9 368.2)" fill="#9ecaca"/><ellipse cx="611.3" cy="375.9" rx="6.6" ry="4.9" transform="rotate(136.2 611.3 375.9)" fill="#a6f6bc"/><ellipse cx="608.5" cy="384.2" rx="6.6" ry="4.9" transform="rotate(138.0 608.5 384.2)" fill="#9ecaca"/><ellipse cx="605.7" cy="391.2" rx="6.6" ry="4.9" transform="rotate(142.4 605.7 391.2)" fill="#a6f6bc"/><ellipse cx="601.9" cy="398.9" rx="6.6" ry="4.9" transform="rotate(145.5 601.9 398.9)" fill="#9ecaca"/><ellipse cx="598.2" cy="405.9" rx="6.6" ry="4.9" transform="rotate(145.8 598.2 405.9)" fill="#a6f6bc"/><ellipse cx="594.0" cy="413.8" rx="6.6" ry="4.9" transform="rotate(146.6 594.0 413.8)" fill="#9ecaca"/><ellipse cx="590.2" cy="420.8" rx="6.6" ry="4.9" transform="rotate(146.8 590.2 420.8)" fill="#a6f6bc"/><ellipse cx="585.9" cy="428.6" rx="6.6" ry="4.9" transform="rotate(146.7 585.9 428.6)" fill="#9ecaca"/>
<g fill="#000"><polyline points="514.5,499.8 513.5,499.7 512.4,499.7 511.4,499.6 510.3,499.6 509.3,499.5 508.4,499.5 507.4,499.4 506.4,499.3 505.4,499.3 504.4,499.2 503.6,499.1 502.6,499.1 501.7,499.0 500.7,498.9 499.7,498.8 499.0,498.7 498.0,498.6 497.0,498.4 496.3,498.3 495.3,498.1 494.8,498.0 493.8,497.7 493.3,497.6 492.4,497.2 491.7,497.0 490.8,496.6 490.1,496.4 489.2,496.0 488.5,495.7 487.7,495.2 487.0,494.9 486.1,494.4 485.3,493.9 484.7,493.5 483.8,493.0 483.2,492.6 482.4,492.0 481.8,491.5 480.9,491.0 480.3,490.5 479.5,489.8 478.9,489.3 478.2,488.7 477.6,488.2 476.9,487.5 476.4,487.0 475.7,486.3 475.1,485.8 474.5,485.1 473.8,484.3 473.3,483.7 472.6,483.0 472.1,482.3 471.5,481.6 470.9,480.9 470.3,480.1 469.7,479.3 469.2,478.6 468.6,477.8 468.0,477.1 467.4,476.3 466.9,475.5 466.3,474.7 465.7,473.9 465.1,473.1 464.5,472.3 464.0,471.5 463.4,470.7 463.0,470.0 462.4,469.2 461.9,468.4 461.4,467.6 460.9,466.8 460.4,466.0 459.9,465.1 459.4,464.4 458.9,463.5 458.4,462.7 457.9,461.8 457.4,461.0 456.9,460.1 456.4,459.3 456.0,458.4 455.5,457.6 455.0,456.7 454.5,455.8 454.0,454.9 453.5,454.1 453.0,453.2 452.5,452.4 452.0,451.5 451.6,450.7 451.1,449.8 450.6,449.0 450.2,448.1 449.7,447.3 449.3,446.4 448.8,445.5 448.3,444.7 447.9,443.8 447.4,442.9 447.0,442.0 446.5,441.1" fill="none" stroke="#000" stroke-width="14" stroke-linejoin="round"/><ellipse cx="514.6" cy="499.0" rx="9.2" ry="7.5" transform="rotate(-147.2 514.6 499.0)"/><ellipse cx="515.3" cy="490.5" rx="8.4" ry="7.3999999999999995" transform="rotate(-147.2 515.3 490.5)"/><ellipse cx="505.5" cy="498.5" rx="9.2" ry="7.5" transform="rotate(-148.4 505.5 498.5)"/><ellipse cx="498.1" cy="497.8" rx="9.2" ry="7.5" transform="rotate(-143.9 498.1 497.8)"/><ellipse cx="491.1" cy="495.9" rx="9.2" ry="7.5" transform="rotate(-130.2 491.1 495.9)"/><ellipse cx="485.1" cy="492.8" rx="9.2" ry="7.5" transform="rotate(-120.0 485.1 492.8)"/><ellipse cx="478.7" cy="488.1" rx="9.2" ry="7.5" transform="rotate(-111.9 478.7 488.1)"/><ellipse cx="473.2" cy="482.4" rx="9.2" ry="7.5" transform="rotate(-102.7 473.2 482.4)"/><ellipse cx="468.7" cy="476.6" rx="9.2" ry="7.5" transform="rotate(-98.3 468.7 476.6)"/><ellipse cx="463.6" cy="469.6" rx="9.2" ry="7.5" transform="rotate(-95.5 463.6 469.6)"/><ellipse cx="459.6" cy="463.1" rx="9.2" ry="7.5" transform="rotate(-92.8 459.6 463.1)"/><ellipse cx="455.2" cy="455.4" rx="9.2" ry="7.5" transform="rotate(-91.7 455.2 455.4)"/><ellipse cx="451.3" cy="448.6" rx="9.2" ry="7.5" transform="rotate(-90.2 451.3 448.6)"/><ellipse cx="447.2" cy="440.7" rx="9.2" ry="7.5" transform="rotate(-90.0 447.2 440.7)"/><ellipse cx="454.8" cy="436.7" rx="8.4" ry="7.3999999999999995" transform="rotate(-90.0 454.8 436.7)"/></g>
<ellipse cx="515.3" cy="490.5" rx="6.6" ry="5.6" transform="rotate(-147.2 515.3 490.5)" fill="#9ecaca"/><ellipse cx="506.0" cy="489.9" rx="6.6" ry="5.6" transform="rotate(-148.4 506.0 489.9)" fill="#a6f6bc"/><ellipse cx="499.3" cy="489.2" rx="6.6" ry="5.6" transform="rotate(-143.9 499.3 489.2)" fill="#9ecaca"/><ellipse cx="494.3" cy="487.9" rx="6.6" ry="5.6" transform="rotate(-130.2 494.3 487.9)" fill="#a6f6bc"/><ellipse cx="489.6" cy="485.5" rx="6.6" ry="5.6" transform="rotate(-120.0 489.6 485.5)" fill="#9ecaca"/><ellipse cx="484.2" cy="481.5" rx="6.6" ry="5.6" transform="rotate(-111.9 484.2 481.5)" fill="#a6f6bc"/><ellipse cx="479.7" cy="476.8" rx="6.6" ry="5.6" transform="rotate(-102.7 479.7 476.8)" fill="#9ecaca"/><ellipse cx="475.6" cy="471.5" rx="6.6" ry="5.6" transform="rotate(-98.3 475.6 471.5)" fill="#a6f6bc"/><ellipse cx="470.8" cy="464.8" rx="6.6" ry="5.6" transform="rotate(-95.5 470.8 464.8)" fill="#9ecaca"/><ellipse cx="467.0" cy="458.7" rx="6.6" ry="5.6" transform="rotate(-92.8 467.0 458.7)" fill="#a6f6bc"/><ellipse cx="462.6" cy="451.2" rx="6.6" ry="5.6" transform="rotate(-91.7 462.6 451.2)" fill="#9ecaca"/><ellipse cx="458.9" cy="444.6" rx="6.6" ry="5.6" transform="rotate(-90.2 458.9 444.6)" fill="#a6f6bc"/><ellipse cx="454.8" cy="436.7" rx="6.6" ry="5.6" transform="rotate(-90.0 454.8 436.7)" fill="#9ecaca"/><ellipse cx="514.6" cy="499.0" rx="6.6" ry="4.9" transform="rotate(-147.2 514.6 499.0)" fill="#a6f6bc"/><ellipse cx="505.5" cy="498.5" rx="6.6" ry="4.9" transform="rotate(-148.4 505.5 498.5)" fill="#9ecaca"/><ellipse cx="498.1" cy="497.8" rx="6.6" ry="4.9" transform="rotate(-143.9 498.1 497.8)" fill="#a6f6bc"/><ellipse cx="491.1" cy="495.9" rx="6.6" ry="4.9" transform="rotate(-130.2 491.1 495.9)" fill="#9ecaca"/><ellipse cx="485.1" cy="492.8" rx="6.6" ry="4.9" transform="rotate(-120.0 485.1 492.8)" fill="#a6f6bc"/><ellipse cx="478.7" cy="488.1" rx="6.6" ry="4.9" transform="rotate(-111.9 478.7 488.1)" fill="#9ecaca"/><ellipse cx="473.2" cy="482.4" rx="6.6" ry="4.9" transform="rotate(-102.7 473.2 482.4)" fill="#a6f6bc"/><ellipse cx="468.7" cy="476.6" rx="6.6" ry="4.9" transform="rotate(-98.3 468.7 476.6)" fill="#9ecaca"/><ellipse cx="463.6" cy="469.6" rx="6.6" ry="4.9" transform="rotate(-95.5 463.6 469.6)" fill="#a6f6bc"/><ellipse cx="459.6" cy="463.1" rx="6.6" ry="4.9" transform="rotate(-92.8 459.6 463.1)" fill="#9ecaca"/><ellipse cx="455.2" cy="455.4" rx="6.6" ry="4.9" transform="rotate(-91.7 455.2 455.4)" fill="#a6f6bc"/><ellipse cx="451.3" cy="448.6" rx="6.6" ry="4.9" transform="rotate(-90.2 451.3 448.6)" fill="#9ecaca"/><ellipse cx="447.2" cy="440.7" rx="6.6" ry="4.9" transform="rotate(-90.0 447.2 440.7)" fill="#a6f6bc"/>
<g fill="#000"><polyline points="578.0,438.4 577.7,439.4 577.5,440.6 577.2,441.7 577.0,442.7 576.8,443.6 576.6,444.6 576.4,445.5 576.2,446.5 576.0,447.3 575.7,448.2 575.5,449.0 575.2,449.9 575.0,450.6 574.7,451.5 574.5,452.1 574.1,453.0 573.9,453.5 573.4,454.3 573.2,454.8 572.7,455.6 572.3,456.1 571.7,457.0 571.1,457.8 570.7,458.3 570.1,459.1 569.6,459.7 568.9,460.4 568.3,461.1 567.7,461.8 567.0,462.5 566.4,463.2 565.7,463.9 565.0,464.5 564.3,465.3 563.6,466.0 563.0,466.6 562.2,467.3 561.5,468.0 560.8,468.7 560.1,469.4 559.4,470.2 558.7,470.9 558.0,471.6 557.2,472.3 556.6,472.9 555.8,473.6 555.1,474.3 554.4,475.0 553.7,475.7 553.0,476.3 552.3,477.0 551.6,477.7 550.9,478.3 550.1,479.0 549.5,479.6 548.7,480.3 548.0,480.9 547.3,481.6 546.5,482.2 545.8,482.8 545.0,483.4 544.3,484.0 543.6,484.6 542.9,485.2 542.1,485.8 541.3,486.4 540.6,487.0 539.8,487.5 539.1,488.1 538.3,488.6 537.5,489.2 536.7,489.7 535.9,490.3 535.1,490.8 534.3,491.4 533.5,491.9 532.7,492.4 531.8,493.0 531.1,493.4 530.2,494.0 529.4,494.5 528.6,495.0 527.7,495.5 526.9,496.0 526.1,496.5 525.3,496.9 524.4,497.4 523.6,497.8 523.0,498.2 522.1,498.6 521.5,498.8 521.0,499.0 520.4,499.2 519.8,499.4 519.2,499.5 518.4,499.6 517.3,499.7 515.8,499.9" fill="none" stroke="#000" stroke-width="14" stroke-linejoin="round"/><ellipse cx="577.2" cy="438.2" rx="9.2" ry="7.5" transform="rotate(132.7 577.2 438.2)"/><ellipse cx="568.9" cy="436.0" rx="8.4" ry="7.3999999999999995" transform="rotate(132.7 568.9 436.0)"/><ellipse cx="575.2" cy="447.1" rx="9.2" ry="7.5" transform="rotate(132.4 575.2 447.1)"/><ellipse cx="572.7" cy="454.0" rx="9.2" ry="7.5" transform="rotate(146.0 572.7 454.0)"/><ellipse cx="568.3" cy="459.9" rx="9.2" ry="7.5" transform="rotate(159.2 568.3 459.9)"/><ellipse cx="562.4" cy="466.1" rx="9.2" ry="7.5" transform="rotate(163.3 562.4 466.1)"/><ellipse cx="556.0" cy="472.4" rx="9.2" ry="7.5" transform="rotate(163.8 556.0 472.4)"/><ellipse cx="550.3" cy="477.7" rx="9.2" ry="7.5" transform="rotate(165.6 550.3 477.7)"/><ellipse cx="543.8" cy="483.4" rx="9.2" ry="7.5" transform="rotate(169.0 543.8 483.4)"/><ellipse cx="537.1" cy="488.5" rx="9.2" ry="7.5" transform="rotate(173.5 537.1 488.5)"/><ellipse cx="529.8" cy="493.3" rx="9.2" ry="7.5" transform="rotate(176.0 529.8 493.3)"/><ellipse cx="522.6" cy="497.5" rx="9.2" ry="7.5" transform="rotate(182.3 522.6 497.5)"/><ellipse cx="515.7" cy="499.1" rx="9.2" ry="7.5" transform="rotate(197.1 515.7 499.1)"/><ellipse cx="514.0" cy="490.7" rx="8.4" ry="7.3999999999999995" transform="rotate(197.1 514.0 490.7)"/></g>
<ellipse cx="568.9" cy="436.0" rx="6.6" ry="5.6" transform="rotate(132.7 568.9 436.0)" fill="#9ecaca"/><ellipse cx="566.9" cy="444.9" rx="6.6" ry="5.6" transform="rotate(132.4 566.9 444.9)" fill="#a6f6bc"/><ellipse cx="565.1" cy="449.9" rx="6.6" ry="5.6" transform="rotate(146.0 565.1 449.9)" fill="#9ecaca"/><ellipse cx="561.8" cy="454.3" rx="6.6" ry="5.6" transform="rotate(159.2 561.8 454.3)" fill="#a6f6bc"/><ellipse cx="556.4" cy="459.9" rx="6.6" ry="5.6" transform="rotate(163.3 556.4 459.9)" fill="#9ecaca"/><ellipse cx="550.0" cy="466.2" rx="6.6" ry="5.6" transform="rotate(163.8 550.0 466.2)" fill="#a6f6bc"/><ellipse cx="544.5" cy="471.4" rx="6.6" ry="5.6" transform="rotate(165.6 544.5 471.4)" fill="#9ecaca"/><ellipse cx="538.4" cy="476.7" rx="6.6" ry="5.6" transform="rotate(169.0 538.4 476.7)" fill="#a6f6bc"/><ellipse cx="532.2" cy="481.4" rx="6.6" ry="5.6" transform="rotate(173.5 532.2 481.4)" fill="#9ecaca"/><ellipse cx="525.2" cy="486.0" rx="6.6" ry="5.6" transform="rotate(176.0 525.2 486.0)" fill="#a6f6bc"/><ellipse cx="518.9" cy="489.7" rx="6.6" ry="5.6" transform="rotate(182.3 518.9 489.7)" fill="#9ecaca"/><ellipse cx="514.0" cy="490.7" rx="6.6" ry="5.6" transform="rotate(197.1 514.0 490.7)" fill="#a6f6bc"/><ellipse cx="577.2" cy="438.2" rx="6.6" ry="4.9" transform="rotate(132.7 577.2 438.2)" fill="#a6f6bc"/><ellipse cx="575.2" cy="447.1" rx="6.6" ry="4.9" transform="rotate(132.4 575.2 447.1)" fill="#9ecaca"/><ellipse cx="572.7" cy="454.0" rx="6.6" ry="4.9" transform="rotate(146.0 572.7 454.0)" fill="#a6f6bc"/><ellipse cx="568.3" cy="459.9" rx="6.6" ry="4.9" transform="rotate(159.2 568.3 459.9)" fill="#9ecaca"/><ellipse cx="562.4" cy="466.1" rx="6.6" ry="4.9" transform="rotate(163.3 562.4 466.1)" fill="#a6f6bc"/><ellipse cx="556.0" cy="472.4" rx="6.6" ry="4.9" transform="rotate(163.8 556.0 472.4)" fill="#9ecaca"/><ellipse cx="550.3" cy="477.7" rx="6.6" ry="4.9" transform="rotate(165.6 550.3 477.7)" fill="#a6f6bc"/><ellipse cx="543.8" cy="483.4" rx="6.6" ry="4.9" transform="rotate(169.0 543.8 483.4)" fill="#9ecaca"/><ellipse cx="537.1" cy="488.5" rx="6.6" ry="4.9" transform="rotate(173.5 537.1 488.5)" fill="#a6f6bc"/><ellipse cx="529.8" cy="493.3" rx="6.6" ry="4.9" transform="rotate(176.0 529.8 493.3)" fill="#9ecaca"/><ellipse cx="522.6" cy="497.5" rx="6.6" ry="4.9" transform="rotate(182.3 522.6 497.5)" fill="#a6f6bc"/><ellipse cx="515.7" cy="499.1" rx="6.6" ry="4.9" transform="rotate(197.1 515.7 499.1)" fill="#9ecaca"/>
<linearGradient id="gRTband" x1="0" y1="0" x2="0" y2="1"><stop offset="0" stop-color="#f2e2c4"/><stop offset="1" stop-color="#e0c4f0"/></linearGradient>
<path d="M442.0,269.0 L493.0,298.6 L442.0,328.5 L441.8,327.4 L441.3,325.8 L440.9,323.9 L440.5,321.9 L440.3,319.9 L440.5,318.0 L441.2,316.2 L442.4,314.4 L443.8,312.6 L445.1,310.7 L446.1,308.9 L446.5,307.0 L446.1,305.1 L445.0,303.1 L443.6,301.2 L442.1,299.2 L441.0,297.3 L440.5,295.5 L440.8,293.8 L441.7,292.2 L442.9,290.6 L444.1,289.1 L445.1,287.5 L445.5,286.0 L445.3,284.5 L444.7,282.9 L443.8,281.4 L442.8,279.9 L442.0,278.4 L441.5,277.0 L441.3,275.5 L441.4,274.0 L441.5,272.4 L441.7,271.0 L441.9,269.9 L442.0,269.0 Z" fill="url(#gRT)" stroke="#111" stroke-width="6.4" stroke-linejoin="round"/>
<path d="M442.0,269.0 L493.0,298.6 L442.0,328.5 L441.8,327.4 L441.3,325.8 L440.9,323.9 L440.5,321.9 L440.3,319.9 L440.5,318.0 L441.2,316.2 L442.4,314.4 L443.8,312.6 L445.1,310.7 L446.1,308.9 L446.5,307.0 L446.1,305.1 L445.0,303.1 L443.6,301.2 L442.1,299.2 L441.0,297.3 L440.5,295.5 L440.8,293.8 L441.7,292.2 L442.9,290.6 L444.1,289.1 L445.1,287.5 L445.5,286.0 L445.3,284.5 L444.7,282.9 L443.8,281.4 L442.8,279.9 L442.0,278.4 L441.5,277.0 L441.3,275.5 L441.4,274.0 L441.5,272.4 L441.7,271.0 L441.9,269.9 L442.0,269.0 Z" fill="none" stroke="url(#gRTband)" stroke-width="3.3" stroke-linejoin="round"/>
<path d="M578.6,269.0 L527.6,298.6 L578.6,328.5 L578.9,327.4 L579.3,325.8 L579.7,323.9 L580.1,321.9 L580.3,319.9 L580.1,318.0 L579.4,316.2 L578.2,314.4 L576.8,312.6 L575.5,310.7 L574.5,308.9 L574.1,307.0 L574.5,305.1 L575.6,303.1 L577.0,301.2 L578.5,299.2 L579.6,297.3 L580.1,295.5 L579.8,293.8 L578.9,292.2 L577.7,290.6 L576.5,289.1 L575.5,287.5 L575.1,286.0 L575.3,284.5 L575.9,282.9 L576.8,281.4 L577.8,279.9 L578.6,278.4 L579.1,277.0 L579.3,275.5 L579.2,274.0 L579.1,272.4 L578.9,271.0 L578.7,269.9 L578.6,269.0 Z" fill="url(#gRT)" stroke="#111" stroke-width="6.4" stroke-linejoin="round"/>
<path d="M578.6,269.0 L527.6,298.6 L578.6,328.5 L578.9,327.4 L579.3,325.8 L579.7,323.9 L580.1,321.9 L580.3,319.9 L580.1,318.0 L579.4,316.2 L578.2,314.4 L576.8,312.6 L575.5,310.7 L574.5,308.9 L574.1,307.0 L574.5,305.1 L575.6,303.1 L577.0,301.2 L578.5,299.2 L579.6,297.3 L580.1,295.5 L579.8,293.8 L578.9,292.2 L577.7,290.6 L576.5,289.1 L575.5,287.5 L575.1,286.0 L575.3,284.5 L575.9,282.9 L576.8,281.4 L577.8,279.9 L578.6,278.4 L579.1,277.0 L579.3,275.5 L579.2,274.0 L579.1,272.4 L578.9,271.0 L578.7,269.9 L578.6,269.0 Z" fill="none" stroke="url(#gRTband)" stroke-width="3.3" stroke-linejoin="round"/>
<polyline points="467.0,229.0 467.2,228.1 467.4,227.0 467.5,225.6 467.7,224.0 468.0,222.4 468.3,220.7 468.8,219.1 469.4,217.5 470.1,216.2 471.0,215.0 472.1,214.0 473.4,213.0 474.9,212.1 476.6,211.2 478.3,210.5 480.1,209.8 481.9,209.3 483.7,208.8 485.4,208.6 487.0,208.5 488.6,208.6 490.2,208.8 491.9,209.2 493.5,209.7 495.1,210.3 496.7,211.0 498.2,211.9 499.6,212.8 500.9,213.9 502.0,215.0 503.0,216.3 504.0,217.7 504.9,219.3 505.7,221.0 506.4,222.8 507.0,224.7 507.4,226.6 507.8,228.4 508.0,230.3 508.0,232.0 507.8,233.7 507.5,235.5 507.0,237.2 506.4,239.0 505.6,240.8 504.8,242.5 503.9,244.2 502.9,245.9 502.0,247.5 501.0,249.0 499.9,250.4 498.7,251.8 497.3,253.0 495.8,254.2 494.3,255.4 492.9,256.6 491.6,257.9 490.5,259.1 489.6,260.5 489.0,262.0 488.7,263.6 488.6,265.3 488.7,267.2 489.0,269.0 489.4,270.9 489.9,272.8 490.6,274.7 491.3,276.6 492.1,278.3 493.0,280.0 494.1,281.5 495.6,282.8 497.4,284.1 499.3,285.2 501.3,286.4 503.1,287.6 504.7,288.9 506.0,290.4 506.8,292.1 507.0,294.0 506.6,296.3 505.8,298.9 504.5,301.7 503.0,304.8 501.2,307.8 499.1,310.9 497.0,313.9 494.8,316.8 492.7,319.4 490.6,321.6 488.5,323.5 486.2,325.1 483.8,326.5 481.3,327.8 478.8,328.9 476.2,330.0 473.7,331.1 471.3,332.2 469.0,333.4 466.9,334.8 464.9,336.3 462.9,337.8 460.9,339.4 459.0,341.0 457.2,342.6 455.5,344.2 453.9,345.9 452.6,347.6 451.4,349.3 450.5,351.0 449.8,352.7 449.4,354.4 449.1,356.2 449.0,357.9 449.1,359.7 449.3,361.5 449.6,363.3 450.0,365.2 450.5,367.1 451.0,369.0 451.7,371.0 452.5,373.0 453.4,375.0 454.5,377.1 455.7,379.2 456.9,381.4 458.1,383.6 459.3,385.7 460.5,388.0 461.6,390.2 462.7,392.5 463.8,394.8 465.0,397.1 466.1,399.5 467.3,401.9 468.4,404.3 469.4,406.7 470.5,409.1 471.4,411.5 472.2,413.9 472.9,416.3 473.6,418.7 474.2,421.1 474.8,423.5 475.3,426.0 475.7,428.4 476.1,430.7 476.5,433.1 476.8,435.4 477.0,437.6 477.2,439.9 477.2,442.2 477.2,444.6 477.2,447.0 477.1,449.3 476.9,451.5 476.8,453.5 476.7,455.3 476.6,456.8 476.5,458.0" fill="none" stroke="#000" stroke-width="8.6" stroke-linecap="round" stroke-linejoin="round"/>
<polyline points="467.0,229.0 467.2,228.0 467.3,227.0 467.5,226.0 467.6,225.0 467.7,224.1 467.9,223.1 468.1,222.1 468.3,221.1 468.5,220.1 468.8,219.2 469.1,218.2 469.5,217.3 470.0,216.4 470.5,215.6 471.2,214.8 471.9,214.2 472.7,213.6 473.5,213.0 474.4,212.4 475.2,211.9 476.1,211.5 477.0,211.0 477.9,210.6 478.9,210.3 479.8,209.9 480.8,209.6 481.7,209.3 482.7,209.1 483.7,208.8 484.7,208.7 485.6,208.6 486.6,208.5 487.6,208.5 488.6,208.6 489.6,208.7 490.6,208.9 491.6,209.1 492.6,209.4 493.5,209.7 494.5,210.0 495.4,210.4 496.3,210.8 497.2,211.3 498.0,211.8 498.9,212.3 499.7,212.9 500.5,213.5 501.2,214.2 501.9,214.9 502.6,215.7 503.2,216.5 503.7,217.3 504.2,218.2 504.7,219.1 505.2,220.0 505.6,220.9 506.0,221.8 506.3,222.7 506.6,223.7 506.9,224.6 507.2,225.6 507.4,226.6 507.6,227.5 507.8,228.5 507.9,229.5 508.0,230.5 508.0,231.5 508.0,232.5 507.9,233.5 507.7,234.5 507.5,235.5 507.2,236.5 506.9,237.4 506.6,238.4 506.3,239.3 505.9,240.2 505.4,241.1 505.0,242.0 504.6,242.9 504.1,243.8 503.6,244.7 503.1,245.5 502.6,246.4 502.1,247.3 501.6,248.1 501.0,249.0 500.4,249.8 499.8,250.6 499.1,251.3 498.4,252.0 497.7,252.7 496.9,253.3 496.2,254.0 495.4,254.6 494.6,255.2 493.8,255.8 493.1,256.5 492.3,257.2 491.6,257.9 490.9,258.6 490.3,259.4 489.8,260.2 489.3,261.1 489.0,262.1 488.8,263.0 488.7,264.0 488.6,265.0 488.7,266.0 488.7,267.0 488.8,268.0 489.0,269.0 489.2,270.0 489.4,271.0 489.7,271.9 489.9,272.9 490.3,273.8 490.6,274.8 491.0,275.7 491.3,276.6 491.8,277.6 492.2,278.5 492.7,279.3 493.2,280.2 493.8,281.0 494.4,281.8 495.2,282.4 495.9,283.0 496.8,283.6 497.6,284.2 498.5,284.7 499.3,285.2 500.2,285.7 501.0,286.2 501.9,286.8 502.7,287.3 503.5,287.9 504.3,288.6 505.0,289.3 505.7,290.0 506.2,290.8 506.6,291.7 506.9,292.7 507.0,293.7 506.9,294.7 506.7,295.7 506.5,296.7 506.2,297.6 505.9,298.6 505.5,299.5 505.1,300.4 504.7,301.3 504.3,302.2 503.8,303.1 503.4,304.0 502.9,304.9 502.4,305.7 501.9,306.6 501.4,307.5 500.8,308.3 500.3,309.2 499.8,310.0 499.2,310.8 498.6,311.7 498.1,312.5 497.5,313.3 496.9,314.1 496.3,314.9 495.7,315.7 495.1,316.5 494.4,317.3 493.8,318.0 493.1,318.8 492.5,319.6 491.8,320.3 491.1,321.0 490.4,321.7 489.7,322.4 489.0,323.1 488.2,323.7 487.4,324.3 486.5,324.9 485.7,325.4 484.8,325.9 484.0,326.4 483.1,326.9 482.2,327.3 481.3,327.8 480.4,328.2 479.5,328.6 478.6,329.0 477.6,329.4 476.7,329.8 475.8,330.2 474.9,330.6 474.0,331.0 473.0,331.4 472.1,331.8 471.2,332.2 470.4,332.7 469.5,333.2 468.6,333.7 467.8,334.2 466.9,334.8 466.1,335.4 465.3,336.0 464.5,336.6 463.7,337.2 462.9,337.8 462.1,338.4 461.4,339.0 460.6,339.7 459.8,340.3 459.0,340.9 458.3,341.6 457.6,342.3 456.8,343.0 456.1,343.7 455.4,344.4 454.7,345.1 454.0,345.8 453.4,346.6 452.8,347.4" fill="none" stroke="#166e28" stroke-width="6.6" stroke-linecap="round" stroke-linejoin="round"/>
<polyline points="459.8,340.3 459.0,340.9 458.3,341.6 457.6,342.3 456.8,343.0 456.1,343.7 455.4,344.4 454.7,345.1 454.0,345.8 453.4,346.6 452.8,347.4 452.2,348.2 451.6,349.0 451.1,349.9 450.6,350.8 450.2,351.7 449.9,352.6 449.6,353.6 449.3,354.5 449.2,355.5 449.1,356.5 449.0,357.5 449.0,358.5 449.1,359.5 449.2,360.5 449.3,361.5 449.4,362.5 449.6,363.5 449.8,364.4 450.0,365.4 450.3,366.4 450.5,367.4 450.8,368.3 451.1,369.3 451.4,370.2 451.7,371.2 452.1,372.1 452.5,373.0 452.9,373.9 453.3,374.8 453.8,375.7 454.3,376.6 454.7,377.5 455.2,378.4 455.7,379.3 456.2,380.1 456.7,381.0 457.2,381.9 457.7,382.8 458.1,383.6 458.6,384.5 459.1,385.4 459.6,386.3 460.1,387.1 460.5,388.0 461.0,388.9 461.4,389.8 461.9,390.7 462.3,391.6 462.7,392.5 463.2,393.4 463.6,394.3 464.0,395.2 464.5,396.1 464.9,397.0 465.4,397.9 465.8,398.8 466.2,399.7 466.7,400.6 467.1,401.5 467.5,402.4 467.9,403.3 468.4,404.3 468.8,405.2 469.2,406.1 469.6,407.0 470.0,407.9 470.3,408.8 470.7,409.8 471.1,410.7 471.4,411.6 471.7,412.6 472.1,413.5 472.4,414.5 472.7,415.4 473.0,416.4 473.2,417.4 473.5,418.3 473.8,419.3 474.0,420.3 474.3,421.2 474.5,422.2 474.7,423.2 474.9,424.2 475.1,425.1 475.3,426.1 475.5,427.1 475.7,428.1 475.9,429.1 476.0,430.1 476.2,431.1 476.3,432.0 476.5,433.0 476.6,434.0 476.7,435.0 476.8,436.0 476.9,437.0 477.0,438.0 477.1,439.0 477.2,440.0 477.2,441.0 477.2,442.0 477.2,443.0 477.2,444.0 477.2,445.0 477.2,446.0 477.2,447.0 477.1,448.0 477.1,449.0 477.0,450.0 476.9,451.0 476.9,452.0 476.8,453.0 476.7,454.0 476.7,455.0 476.6,456.0 476.5,457.0 476.5,458.0" fill="none" stroke="#145a24" stroke-width="6.6" stroke-linecap="round" stroke-linejoin="round"/>
<g fill="#0f5a20"><circle cx="469.2" cy="229.5" r="2.4"/><circle cx="465.4" cy="224.8" r="2.4"/><circle cx="470.4" cy="221.5" r="2.4"/><circle cx="467.5" cy="216.3" r="2.4"/><circle cx="473.4" cy="215.8" r="2.4"/><circle cx="474.2" cy="210.0" r="2.4"/><circle cx="479.6" cy="212.3" r="2.4"/><circle cx="482.2" cy="206.9" r="2.4"/><circle cx="486.8" cy="210.7" r="2.4"/><circle cx="491.1" cy="206.7" r="2.4"/><circle cx="493.7" cy="212.1" r="2.4"/><circle cx="499.1" cy="209.9" r="2.4"/><circle cx="499.7" cy="215.8" r="2.4"/><circle cx="505.6" cy="216.1" r="2.4"/><circle cx="503.6" cy="221.8" r="2.4"/><circle cx="509.0" cy="224.0" r="2.4"/><circle cx="505.6" cy="228.8" r="2.4"/><circle cx="510.1" cy="232.7" r="2.4"/><circle cx="505.1" cy="235.9" r="2.4"/><circle cx="507.9" cy="241.1" r="2.4"/><circle cx="502.1" cy="242.8" r="2.4"/><circle cx="504.0" cy="248.4" r="2.4"/><circle cx="498.2" cy="249.0" r="2.4"/><circle cx="498.3" cy="255.0" r="2.4"/><circle cx="492.4" cy="254.2" r="2.4"/><circle cx="492.6" cy="260.1" r="2.4"/><circle cx="486.8" cy="261.7" r="2.4"/><circle cx="490.8" cy="265.9" r="2.4"/><circle cx="487.0" cy="270.5" r="2.4"/><circle cx="492.3" cy="273.1" r="2.4"/><circle cx="489.8" cy="278.5" r="2.4"/><circle cx="495.5" cy="279.7" r="2.4"/><circle cx="495.5" cy="285.4" r="2.4"/><circle cx="501.3" cy="283.8" r="2.4"/><circle cx="502.1" cy="289.6" r="2.4"/><circle cx="508.2" cy="289.9" r="2.4"/><circle cx="504.7" cy="294.3" r="2.4"/><circle cx="508.0" cy="299.2" r="2.4"/><circle cx="502.3" cy="301.2" r="2.4"/><circle cx="504.3" cy="306.9" r="2.4"/><circle cx="498.5" cy="308.0" r="2.4"/><circle cx="499.9" cy="313.7" r="2.4"/><circle cx="493.9" cy="314.3" r="2.4"/><circle cx="494.8" cy="320.2" r="2.4"/><circle cx="489.0" cy="320.1" r="2.4"/><circle cx="488.6" cy="326.1" r="2.4"/><circle cx="482.9" cy="324.5" r="2.4"/><circle cx="481.3" cy="330.2" r="2.4"/><circle cx="475.9" cy="327.8" r="2.4"/><circle cx="474.0" cy="333.4" r="2.4"/><circle cx="468.4" cy="331.2" r="2.4"/><circle cx="467.4" cy="337.1" r="2.4"/><circle cx="461.6" cy="336.0" r="2.4"/><circle cx="461.2" cy="342.0" r="2.4"/><circle cx="455.3" cy="341.4" r="2.4"/><circle cx="455.6" cy="347.3" r="2.4"/><circle cx="449.8" cy="347.8" r="2.4"/><circle cx="451.9" cy="353.4" r="2.4"/><circle cx="446.9" cy="356.4" r="2.4"/><circle cx="451.3" cy="360.3" r="2.4"/><circle cx="447.7" cy="364.9" r="2.4"/><circle cx="452.9" cy="367.7" r="2.4"/><circle cx="450.1" cy="372.9" r="2.4"/><circle cx="455.8" cy="374.7" r="2.4"/><circle cx="453.8" cy="380.4" r="2.4"/><circle cx="459.6" cy="381.7" r="2.4"/><circle cx="457.6" cy="387.3" r="2.4"/><circle cx="463.4" cy="388.8" r="2.4"/><circle cx="461.2" cy="394.4" r="2.4"/><circle cx="466.9" cy="396.1" r="2.4"/><circle cx="464.7" cy="401.6" r="2.4"/><circle cx="470.4" cy="403.3" r="2.4"/><circle cx="467.9" cy="408.8" r="2.4"/><circle cx="473.5" cy="410.9" r="2.4"/><circle cx="470.6" cy="416.1" r="2.4"/><circle cx="475.9" cy="418.8" r="2.4"/><circle cx="472.6" cy="423.7" r="2.4"/><circle cx="477.7" cy="426.7" r="2.4"/><circle cx="474.0" cy="431.4" r="2.4"/><circle cx="478.9" cy="434.7" r="2.4"/><circle cx="474.9" cy="439.2" r="2.4"/><circle cx="479.4" cy="443.0" r="2.4"/><circle cx="475.0" cy="446.9" r="2.4"/><circle cx="479.1" cy="451.1" r="2.4"/><circle cx="474.5" cy="454.8" r="2.4"/></g>
<polyline points="467.0,229.0 468.9,228.3 469.6,227.4 468.8,226.2 467.1,225.0 465.8,223.8 465.7,222.7 467.2,221.9 469.2,221.3 470.6,220.7 470.7,219.7 469.5,218.4 468.3,216.7 467.9,215.3 469.2,214.6 471.2,214.9 473.1,215.4 474.1,215.4 474.2,214.1 474.1,212.0 474.3,210.2 475.1,209.5 476.7,210.2 478.3,211.5 479.6,212.3 480.5,211.8 480.9,210.0 481.3,208.0 482.2,206.8 483.3,207.2 484.7,208.7 485.7,210.3 486.8,210.8 487.6,209.8 488.7,208.1 489.9,206.7 491.1,206.8 491.8,208.2 492.3,210.3 492.7,211.7 493.8,211.9 495.2,210.8 496.9,209.6 498.3,209.3 498.9,210.3 498.8,212.4 498.6,214.3 499.0,215.3 500.3,215.1 502.3,214.5 504.1,214.4 505.0,215.3 504.4,216.8 503.4,218.7 502.8,220.1 503.4,220.8 505.2,221.0 507.3,221.3 508.5,221.9 508.2,223.2 506.9,224.7 505.5,226.0 505.2,227.1 506.4,227.8 508.4,228.5 509.9,229.3 510.1,230.5 508.8,231.5 506.9,232.4 505.7,233.3 505.8,234.1 507.2,235.4 508.6,236.8 509.1,238.2 508.1,238.9 506.1,239.2 504.2,239.5 503.4,240.1 503.9,241.5 505.1,243.2 505.9,244.8 505.5,245.7 503.8,245.9 501.7,245.9 500.2,246.1 499.9,247.1 500.7,248.8 501.6,250.6 501.5,252.1 500.3,252.4 498.3,251.9 496.5,251.3 495.5,251.6 495.4,253.0 495.8,255.1 495.9,256.8 495.2,257.5 493.6,257.1 491.6,256.4 490.1,256.2 489.5,257.3 490.0,259.2 491.0,261.0 491.5,262.0 490.6,262.3 488.6,263.0 486.9,263.9 486.4,264.9 487.4,266.1 489.3,267.0 490.9,267.7 491.1,268.7 489.9,269.8 488.3,271.3 487.5,272.5 488.1,273.5 490.0,273.9 492.0,274.2 493.1,274.9 492.8,276.0 491.6,277.6 490.6,279.3 490.7,280.4 492.2,280.9 494.3,280.6 495.8,280.2 496.6,280.8 496.4,282.4 496.1,284.5 496.4,286.1 497.5,286.3 499.2,285.5 500.9,284.4 502.2,284.3 502.7,285.5 502.6,287.5 502.3,289.4 502.9,290.3 504.1,290.0 506.2,289.6 508.1,289.9 508.5,290.8 507.6,292.6 505.8,293.8 504.7,294.3 504.9,295.4 506.3,296.6 507.7,298.1 508.1,299.3 506.9,300.1 504.9,300.3 503.0,300.6 502.3,301.2 502.8,302.6 504.0,304.3 504.7,306.0 504.2,306.8 502.5,307.0 500.4,306.9 499.0,307.1 498.7,308.1 499.6,309.9 500.5,311.7 500.5,313.0 499.3,313.4 497.3,313.1 495.4,313.0 494.5,313.5 494.8,315.0 495.6,316.9 496.1,318.6 495.4,319.4 493.7,319.2 491.6,318.8 490.2,318.8 489.8,319.8 490.3,321.6 490.7,323.6 490.5,324.8 489.1,324.9 487.2,324.1 485.5,323.3 484.6,323.5 484.3,325.0 484.4,327.1 484.0,328.8 483.1,329.2 481.6,328.4 479.9,327.1 478.5,326.5 477.8,327.3 477.6,329.2 477.3,331.2 476.7,332.3 475.5,331.9 473.8,330.7 472.2,329.7 471.2,329.8 470.7,331.3 470.7,333.4 470.5,335.1 469.7,335.4 468.1,334.8 466.3,333.8 464.8,333.6 464.2,334.5 464.4,336.4 464.7,338.4 464.3,339.6 463.1,339.6 461.2,338.8 459.4,338.2 458.4,338.6 458.4,340.1 458.8,342.2 459.0,343.9 458.3,344.4 456.5,344.1 454.5,343.5 453.0,343.5 452.7,344.6" fill="none" stroke="#8af070" stroke-width="1.8" stroke-linejoin="round"/>
<polyline points="459.0,343.9 458.3,344.4 456.5,344.1 454.5,343.5 453.0,343.5 452.7,344.6 453.3,346.5 454.0,348.4 454.1,349.5 452.8,349.8 450.8,349.7 448.9,349.8 448.2,350.8 448.9,352.2 450.4,353.8 451.5,354.9 451.2,355.8 449.7,356.5 447.8,357.4 446.7,358.6 447.3,359.6 449.0,360.5 450.9,361.2 451.7,362.1 451.0,363.2 449.5,364.5 448.2,365.9 448.1,366.9 449.6,367.6 451.6,368.1 453.1,368.6 453.3,369.6 452.3,371.0 450.9,372.6 450.4,374.0 451.3,374.7 453.3,374.9 455.3,375.0 456.3,375.6 456.0,376.8 454.9,378.6 454.0,380.2 454.2,381.2 455.8,381.5 457.9,381.5 459.5,381.7 459.9,382.6 459.1,384.2 458.0,386.0 457.6,387.3 458.5,388.0 460.5,388.1 462.5,388.2 463.5,388.8 463.1,390.1 461.9,391.8 461.0,393.4 461.2,394.4 462.7,394.8 464.8,394.8 466.4,395.2 466.7,396.1 465.8,397.7 464.6,399.4 464.2,400.7 465.1,401.4 467.1,401.5 469.0,401.7 470.0,402.4 469.6,403.7 468.4,405.3 467.4,406.9 467.5,407.8 469.1,408.3 471.2,408.5 472.7,409.0 472.9,410.0 471.9,411.5 470.5,413.0 469.9,414.3 470.7,415.0 472.7,415.5 474.6,415.9 475.4,416.7 474.8,418.0 473.3,419.4 472.1,420.8 472.1,421.7 473.6,422.4 475.6,423.0 477.1,423.7 477.1,424.7 475.8,426.0 474.2,427.4 473.4,428.5 474.2,429.4 476.0,430.1 477.9,430.8 478.6,431.7 477.8,432.8 476.1,434.1 474.7,435.3 474.7,436.3 476.0,437.1 478.0,437.9 479.3,438.9 479.1,439.9 477.7,441.0 475.9,442.0 474.9,443.0 475.5,444.0 477.2,445.0 478.9,446.1 479.4,447.1 478.4,448.1 476.6,449.0 475.0,449.9 474.8,450.9 476.0,451.9 477.8,453.1 478.9,454.2 478.6,455.1 477.0,456.0 475.2,456.9 474.2,457.9" fill="none" stroke="#f0fff0" stroke-width="1.8" stroke-linejoin="round"/>
<polyline points="553.0,226.0 552.7,225.2 552.3,224.1 551.9,222.8 551.5,221.3 551.0,219.8 550.4,218.2 549.7,216.7 548.9,215.3 548.0,214.0 547.0,213.0 545.8,212.2 544.5,211.4 543.0,210.7 541.5,210.1 539.8,209.5 538.2,209.1 536.4,208.8 534.8,208.6 533.1,208.5 531.5,208.5 529.9,208.7 528.2,208.9 526.5,209.3 524.8,209.8 523.1,210.4 521.4,211.1 519.9,211.9 518.4,212.9 517.1,213.9 516.0,215.0 515.0,216.3 514.1,217.7 513.3,219.3 512.6,221.0 512.0,222.8 511.6,224.7 511.2,226.6 511.0,228.4 510.9,230.3 511.0,232.0 511.3,233.7 511.7,235.5 512.3,237.2 513.0,239.0 513.9,240.8 514.9,242.5 515.9,244.2 516.9,245.9 518.0,247.5 519.0,249.0 520.1,250.4 521.5,251.8 522.9,253.0 524.4,254.2 526.0,255.4 527.4,256.6 528.8,257.9 530.0,259.1 530.9,260.5 531.5,262.0 531.8,263.6 532.0,265.3 532.0,267.2 531.8,269.0 531.5,270.9 531.0,272.8 530.4,274.7 529.7,276.6 528.9,278.3 528.0,280.0 526.8,281.5 525.2,282.8 523.3,284.1 521.3,285.2 519.2,286.4 517.2,287.6 515.5,288.9 514.1,290.4 513.2,292.1 513.0,294.0 513.4,296.3 514.3,298.9 515.6,301.7 517.2,304.8 519.2,307.8 521.3,310.9 523.5,313.9 525.8,316.8 528.1,319.4 530.2,321.6 532.3,323.5 534.7,325.1 537.1,326.5 539.6,327.8 542.1,328.9 544.7,330.0 547.2,331.1 549.6,332.2 551.8,333.4 553.9,334.8 555.9,336.3 557.8,337.8 559.7,339.3 561.6,340.8 563.3,342.4 565.0,344.1 566.4,345.7 567.7,347.4 568.7,349.2 569.5,351.0 570.0,352.9 570.2,354.8 570.3,356.8 570.1,358.8 569.7,360.9 569.3,363.0 568.7,365.1 568.1,367.3 567.6,369.5 567.0,371.7 566.4,373.9 565.8,376.2 565.1,378.6 564.4,381.0 563.5,383.4 562.7,385.8 561.8,388.2 560.9,390.6 560.0,393.0 559.1,395.4 558.1,397.8 557.1,400.2 556.0,402.6 554.8,405.0 553.7,407.5 552.6,409.9 551.4,412.3 550.4,414.6 549.5,416.9 548.6,419.2 547.8,421.4 547.1,423.6 546.5,425.8 545.9,428.0 545.3,430.1 544.8,432.2 544.3,434.2 543.9,436.2 543.6,438.2 543.3,440.2 543.1,442.2 543.0,444.2 542.9,446.3 542.9,448.4 543.0,450.4 543.0,452.3 543.1,454.1 543.2,455.6 543.3,457.0 543.3,458.0" fill="none" stroke="#000" stroke-width="8.6" stroke-linecap="round" stroke-linejoin="round"/>
<polyline points="553.0,226.0 552.6,225.1 552.3,224.1 552.1,223.2 551.8,222.2 551.5,221.2 551.1,220.3 550.8,219.4 550.4,218.4 550.1,217.5 549.6,216.6 549.2,215.7 548.6,214.9 548.0,214.1 547.3,213.3 546.6,212.7 545.8,212.1 544.9,211.6 544.0,211.1 543.1,210.7 542.2,210.3 541.2,210.0 540.3,209.7 539.3,209.4 538.4,209.2 537.4,209.0 536.4,208.8 535.4,208.6 534.4,208.5 533.4,208.5 532.4,208.5 531.4,208.5 530.4,208.6 529.4,208.7 528.4,208.9 527.5,209.1 526.5,209.3 525.5,209.6 524.6,209.9 523.6,210.2 522.7,210.6 521.8,211.0 520.9,211.4 520.0,211.9 519.1,212.4 518.3,213.0 517.5,213.6 516.8,214.2 516.1,214.9 515.4,215.7 514.9,216.5 514.3,217.4 513.8,218.3 513.4,219.2 513.0,220.1 512.6,221.0 512.3,222.0 512.0,222.9 511.8,223.9 511.5,224.9 511.3,225.8 511.2,226.8 511.1,227.8 511.0,228.8 510.9,229.8 511.0,230.8 511.0,231.8 511.1,232.8 511.3,233.8 511.5,234.8 511.8,235.7 512.1,236.7 512.5,237.6 512.9,238.5 513.3,239.4 513.7,240.3 514.2,241.2 514.6,242.1 515.1,243.0 515.7,243.8 516.2,244.7 516.7,245.5 517.3,246.4 517.8,247.2 518.4,248.1 518.9,248.9 519.5,249.7 520.2,250.5 520.9,251.2 521.6,251.9 522.3,252.5 523.1,253.2 523.9,253.8 524.7,254.4 525.4,255.0 526.2,255.7 527.0,256.3 527.8,256.9 528.5,257.6 529.2,258.3 529.9,259.1 530.5,259.9 531.0,260.7 531.4,261.7 531.6,262.6 531.8,263.6 531.9,264.6 532.0,265.6 532.0,266.6 531.9,267.6 531.8,268.6 531.7,269.6 531.5,270.6 531.3,271.5 531.1,272.5 530.8,273.5 530.5,274.4 530.2,275.4 529.8,276.3 529.4,277.2 529.0,278.1 528.5,279.0 528.1,279.9 527.5,280.7 526.8,281.5 526.1,282.1 525.3,282.8 524.5,283.3 523.6,283.9 522.8,284.4 521.9,284.9 521.0,285.4 520.2,285.9 519.3,286.4 518.4,286.9 517.6,287.4 516.8,288.0 516.0,288.6 515.2,289.2 514.5,290.0 513.9,290.8 513.5,291.6 513.2,292.6 513.1,293.6 513.1,294.6 513.3,295.5 513.5,296.5 513.8,297.5 514.1,298.4 514.5,299.3 514.9,300.3 515.3,301.2 515.8,302.1 516.3,302.9 516.7,303.8 517.2,304.7 517.7,305.5 518.3,306.4 518.8,307.2 519.3,308.1 519.9,308.9 520.5,309.7 521.0,310.6 521.6,311.4 522.2,312.2 522.8,313.0 523.4,313.8 524.0,314.6 524.7,315.3 525.3,316.1 525.9,316.9 526.6,317.6 527.2,318.4 527.9,319.2 528.6,319.9 529.3,320.6 530.0,321.3 530.7,322.0 531.4,322.7 532.2,323.4 533.0,323.9 533.8,324.5 534.6,325.1 535.5,325.6 536.4,326.1 537.2,326.6 538.1,327.0 539.0,327.5 539.9,327.9 540.8,328.3 541.7,328.7 542.7,329.1 543.6,329.5 544.5,329.9 545.4,330.3 546.3,330.7 547.3,331.1 548.2,331.5 549.1,332.0 550.0,332.4 550.8,332.9 551.7,333.4 552.6,333.9 553.4,334.5 554.2,335.0 555.0,335.6 555.8,336.2 556.6,336.8 557.4,337.5 558.2,338.1 559.0,338.7 559.8,339.3 560.5,340.0 561.3,340.6 562.0,341.3 562.8,341.9 563.5,342.6 564.2,343.3 564.9,344.0 565.6,344.8 566.3,345.5 566.9,346.3 567.5,347.1 568.0,348.0" fill="none" stroke="#166e28" stroke-width="6.6" stroke-linecap="round" stroke-linejoin="round"/>
<polyline points="561.3,340.6 562.0,341.3 562.8,341.9 563.5,342.6 564.2,343.3 564.9,344.0 565.6,344.8 566.3,345.5 566.9,346.3 567.5,347.1 568.0,348.0 568.5,348.8 569.0,349.7 569.3,350.7 569.7,351.6 569.9,352.6 570.1,353.6 570.2,354.5 570.2,355.5 570.2,356.5 570.2,357.5 570.1,358.5 569.9,359.5 569.8,360.5 569.6,361.5 569.4,362.5 569.1,363.4 568.9,364.4 568.6,365.4 568.4,366.4 568.1,367.3 567.9,368.3 567.6,369.3 567.4,370.2 567.1,371.2 566.9,372.2 566.6,373.1 566.4,374.1 566.1,375.1 565.9,376.0 565.6,377.0 565.3,378.0 565.0,378.9 564.7,379.9 564.4,380.8 564.1,381.8 563.8,382.7 563.4,383.7 563.1,384.6 562.8,385.6 562.4,386.5 562.1,387.4 561.8,388.4 561.4,389.3 561.1,390.3 560.7,391.2 560.4,392.1 560.0,393.1 559.6,394.0 559.3,394.9 558.9,395.9 558.5,396.8 558.2,397.7 557.8,398.6 557.4,399.6 557.0,400.5 556.5,401.4 556.1,402.3 555.7,403.2 555.3,404.1 554.9,405.0 554.4,405.9 554.0,406.8 553.6,407.7 553.1,408.6 552.7,409.5 552.3,410.4 551.9,411.3 551.5,412.3 551.0,413.2 550.6,414.1 550.2,415.0 549.9,415.9 549.5,416.9 549.1,417.8 548.8,418.7 548.4,419.7 548.1,420.6 547.8,421.6 547.5,422.5 547.2,423.5 546.9,424.4 546.6,425.4 546.3,426.3 546.0,427.3 545.8,428.3 545.5,429.2 545.3,430.2 545.0,431.2 544.8,432.1 544.6,433.1 544.4,434.1 544.2,435.1 544.0,436.1 543.8,437.0 543.6,438.0 543.5,439.0 543.3,440.0 543.2,441.0 543.1,442.0 543.0,443.0 543.0,444.0 542.9,445.0 542.9,446.0 542.9,447.0 542.9,448.0 542.9,449.0 543.0,450.0 543.0,451.0 543.0,452.0 543.1,453.0 543.1,454.0 543.2,455.0 543.2,456.0 543.3,457.0 543.3,458.0" fill="none" stroke="#145a24" stroke-width="6.6" stroke-linecap="round" stroke-linejoin="round"/>
<g fill="#0f5a20"><circle cx="555.1" cy="225.2" r="2.4"/><circle cx="549.7" cy="222.8" r="2.4"/><circle cx="552.5" cy="217.6" r="2.4"/><circle cx="546.8" cy="216.1" r="2.4"/><circle cx="546.9" cy="210.2" r="2.4"/><circle cx="541.4" cy="212.4" r="2.4"/><circle cx="538.9" cy="207.0" r="2.4"/><circle cx="534.3" cy="210.7" r="2.4"/><circle cx="530.2" cy="206.4" r="2.4"/><circle cx="527.1" cy="211.4" r="2.4"/><circle cx="521.8" cy="208.6" r="2.4"/><circle cx="520.3" cy="214.3" r="2.4"/><circle cx="514.5" cy="213.4" r="2.4"/><circle cx="515.8" cy="219.3" r="2.4"/><circle cx="510.2" cy="221.3" r="2.4"/><circle cx="513.5" cy="226.2" r="2.4"/><circle cx="508.7" cy="229.7" r="2.4"/><circle cx="513.4" cy="233.3" r="2.4"/><circle cx="510.4" cy="238.5" r="2.4"/><circle cx="516.1" cy="240.2" r="2.4"/><circle cx="514.3" cy="245.9" r="2.4"/><circle cx="520.2" cy="246.8" r="2.4"/><circle cx="519.3" cy="252.7" r="2.4"/><circle cx="525.2" cy="252.1" r="2.4"/><circle cx="525.6" cy="258.0" r="2.4"/><circle cx="531.5" cy="257.6" r="2.4"/><circle cx="529.5" cy="263.1" r="2.4"/><circle cx="534.2" cy="266.6" r="2.4"/><circle cx="529.4" cy="270.2" r="2.4"/><circle cx="532.6" cy="275.1" r="2.4"/><circle cx="527.0" cy="277.2" r="2.4"/><circle cx="528.6" cy="282.8" r="2.4"/><circle cx="522.4" cy="282.0" r="2.4"/><circle cx="521.2" cy="287.8" r="2.4"/><circle cx="515.4" cy="286.2" r="2.4"/><circle cx="515.9" cy="291.8" r="2.4"/><circle cx="510.9" cy="294.9" r="2.4"/><circle cx="516.2" cy="297.7" r="2.4"/><circle cx="513.8" cy="303.1" r="2.4"/><circle cx="519.6" cy="304.4" r="2.4"/><circle cx="518.1" cy="310.2" r="2.4"/><circle cx="524.0" cy="310.9" r="2.4"/><circle cx="523.0" cy="316.7" r="2.4"/><circle cx="528.9" cy="317.0" r="2.4"/><circle cx="528.4" cy="322.9" r="2.4"/><circle cx="534.3" cy="322.1" r="2.4"/><circle cx="535.3" cy="328.0" r="2.4"/><circle cx="540.8" cy="325.9" r="2.4"/><circle cx="542.7" cy="331.5" r="2.4"/><circle cx="548.2" cy="329.1" r="2.4"/><circle cx="549.8" cy="334.8" r="2.4"/><circle cx="555.5" cy="333.3" r="2.4"/><circle cx="556.1" cy="339.2" r="2.4"/><circle cx="561.9" cy="338.3" r="2.4"/><circle cx="562.0" cy="344.2" r="2.4"/><circle cx="567.9" cy="344.1" r="2.4"/><circle cx="566.6" cy="350.0" r="2.4"/><circle cx="572.0" cy="352.0" r="2.4"/><circle cx="568.0" cy="356.6" r="2.4"/><circle cx="571.9" cy="360.9" r="2.4"/><circle cx="566.8" cy="363.9" r="2.4"/><circle cx="570.0" cy="368.9" r="2.4"/><circle cx="564.7" cy="371.6" r="2.4"/><circle cx="568.0" cy="376.6" r="2.4"/><circle cx="562.6" cy="379.2" r="2.4"/><circle cx="565.5" cy="384.4" r="2.4"/><circle cx="560.0" cy="386.7" r="2.4"/><circle cx="562.8" cy="392.0" r="2.4"/><circle cx="557.2" cy="394.1" r="2.4"/><circle cx="559.8" cy="399.5" r="2.4"/><circle cx="554.1" cy="401.4" r="2.4"/><circle cx="556.4" cy="406.9" r="2.4"/><circle cx="550.7" cy="408.6" r="2.4"/><circle cx="553.1" cy="414.1" r="2.4"/><circle cx="547.5" cy="416.0" r="2.4"/><circle cx="550.2" cy="421.3" r="2.4"/><circle cx="544.8" cy="423.8" r="2.4"/><circle cx="547.9" cy="428.8" r="2.4"/><circle cx="542.7" cy="431.6" r="2.4"/><circle cx="546.1" cy="436.5" r="2.4"/><circle cx="541.2" cy="439.7" r="2.4"/><circle cx="545.2" cy="444.1" r="2.4"/><circle cx="540.7" cy="448.0" r="2.4"/><circle cx="545.2" cy="451.9" r="2.4"/><circle cx="541.0" cy="456.1" r="2.4"/></g>
<polyline points="553.0,226.0 554.3,224.5 554.5,223.4 553.3,222.8 551.3,222.3 549.6,221.9 549.1,221.0 549.9,219.7 551.3,218.1 552.1,216.6 551.4,215.6 549.6,215.5 547.5,215.7 546.2,215.4 546.1,214.5 546.6,212.7 546.6,210.6 546.1,209.6 544.6,209.9 542.9,211.2 541.4,212.2 540.6,212.1 540.0,210.5 539.6,208.5 538.9,207.0 537.8,207.0 536.5,208.3 535.2,210.0 534.3,210.8 533.3,210.2 532.4,208.4 531.2,206.8 530.2,206.3 529.2,207.4 528.5,209.4 527.9,211.1 527.1,211.4 525.8,210.5 524.2,209.0 522.9,208.1 521.9,208.8 521.6,210.6 521.5,212.7 521.0,213.9 520.0,213.8 518.3,212.9 516.4,212.2 515.2,212.6 515.1,214.0 515.9,216.1 516.6,217.6 516.2,218.5 514.6,218.7 512.5,218.7 511.0,219.3 510.8,220.3 511.9,221.8 513.4,223.3 514.0,224.5 513.2,225.2 511.3,225.8 509.4,226.6 508.8,227.6 509.7,228.8 511.5,229.8 513.0,230.7 513.1,231.7 512.0,232.7 510.3,234.0 509.4,235.3 510.0,236.4 511.7,236.8 513.8,237.1 515.0,237.6 514.7,238.7 513.6,240.4 512.6,242.1 512.7,243.2 514.1,243.6 516.2,243.5 517.9,243.6 518.5,244.4 518.0,245.9 516.9,247.8 516.5,249.3 517.3,250.0 519.2,249.9 521.2,249.4 522.5,249.5 522.6,250.6 522.3,252.6 522.0,254.6 522.5,255.6 523.9,255.4 525.8,254.6 527.5,254.1 528.4,254.6 528.3,256.3 527.8,258.4 527.6,259.8 528.5,260.4 530.2,260.1 532.3,260.2 533.5,260.8 533.2,262.3 531.7,263.6 530.1,264.8 529.7,265.6 530.8,266.6 532.6,267.6 533.9,268.8 533.8,269.9 532.3,270.7 530.3,271.3 528.9,272.0 529.0,272.9 530.2,274.3 531.5,275.9 531.9,277.1 530.9,277.9 528.8,278.1 526.9,278.2 526.1,278.8 526.5,279.9 527.3,281.9 527.4,283.7 526.7,284.4 524.9,284.0 523.0,283.0 521.7,282.4 521.0,283.2 520.9,285.1 520.9,287.2 520.4,288.4 519.3,288.2 517.5,287.2 515.7,286.5 514.6,286.8 514.3,288.4 515.0,290.4 515.8,291.7 515.4,292.6 513.9,292.7 512.0,293.4 510.9,294.9 511.4,295.9 513.2,296.6 515.2,297.0 516.3,297.7 515.9,298.7 514.7,300.3 513.7,301.9 513.8,303.1 515.2,303.5 517.3,303.5 519.0,303.7 519.5,304.4 518.9,306.0 517.8,307.8 517.5,309.4 518.4,310.0 520.3,309.9 522.3,309.7 523.5,310.0 523.5,311.2 522.6,313.1 521.9,314.9 522.3,316.0 523.8,316.1 525.8,315.7 527.5,315.5 528.2,316.3 527.8,317.9 527.0,319.9 526.9,321.4 527.9,321.9 529.8,321.5 531.7,320.9 533.0,321.0 533.2,322.2 532.9,324.1 532.7,326.0 533.3,326.9 534.9,326.6 536.7,325.5 538.2,324.7 539.1,325.2 539.3,326.9 539.5,329.0 539.9,330.4 541.0,330.4 542.6,329.3 544.2,328.1 545.4,327.8 546.0,328.9 546.2,330.9 546.5,332.8 547.2,333.6 548.6,333.0 550.3,331.8 551.9,331.0 552.7,331.5 552.9,333.3 552.7,335.4 552.9,336.8 553.9,337.1 555.7,336.4 557.6,335.6 558.8,335.6 559.1,336.9 558.8,338.9 558.6,340.8 559.1,341.7 560.6,341.5 562.6,340.7 564.2,340.4 565.0,341.1 564.7,342.9 564.1,344.9 563.9,346.3 564.9,346.7" fill="none" stroke="#8af070" stroke-width="1.8" stroke-linejoin="round"/>
<polyline points="565.0,341.1 564.7,342.9 564.1,344.9 563.9,346.3 564.9,346.7 566.7,346.4 568.7,346.2 570.0,346.8 569.8,348.1 568.7,349.9 567.6,351.4 567.5,352.2 568.9,352.9 570.9,353.5 572.3,354.3 572.3,355.5 570.9,356.5 569.0,357.4 567.8,358.3 568.1,359.2 569.6,360.5 571.1,361.8 571.6,363.0 570.6,363.8 568.6,364.3 566.8,364.9 566.2,365.8 567.1,367.0 568.6,368.5 569.7,369.8 569.4,370.7 567.7,371.3 565.7,371.9 564.4,372.6 564.7,373.6 566.0,375.0 567.4,376.5 567.8,377.7 566.7,378.4 564.7,378.8 562.9,379.3 562.3,380.1 563.1,381.4 564.5,383.0 565.5,384.4 565.1,385.3 563.4,385.8 561.3,386.1 560.0,386.7 560.1,387.8 561.3,389.3 562.6,390.8 562.9,392.0 561.7,392.6 559.7,392.9 557.8,393.3 557.2,394.1 557.9,395.5 559.3,397.1 560.2,398.5 559.6,399.5 557.9,399.8 555.8,399.9 554.5,400.4 554.5,401.5 555.6,403.1 556.8,404.8 556.9,406.0 555.7,406.5 553.7,406.7 551.8,406.9 551.1,407.7 551.8,409.1 553.1,410.8 553.8,412.2 553.3,413.1 551.6,413.4 549.5,413.6 548.1,414.1 548.2,415.2 549.4,416.8 550.7,418.4 550.9,419.5 549.8,420.1 547.7,420.5 545.9,421.0 545.4,421.8 546.2,423.2 547.7,424.7 548.7,426.0 548.3,426.9 546.6,427.5 544.5,427.9 543.3,428.7 543.6,429.8 545.0,431.2 546.4,432.5 546.8,433.6 545.7,434.4 543.8,435.0 542.1,435.7 541.6,436.7 542.6,437.9 544.3,439.2 545.5,440.3 545.2,441.2 543.6,442.1 541.7,442.9 540.7,443.9 541.2,445.0 542.9,446.0 544.6,447.0 545.2,448.0 544.3,449.0 542.5,450.0 541.0,451.1 540.8,452.1 542.1,453.1 544.0,454.0 545.4,454.9 545.2,455.9 543.8,457.0 542.0,458.0" fill="none" stroke="#f0fff0" stroke-width="1.8" stroke-linejoin="round"/>
<g fill="none" stroke-linecap="round" stroke-linejoin="round"><path d="M549,228 Q553,229 557,233 M556.6,219 L560,252 M558.6,238.5 L566,236 M558.2,240 Q551,240.5 552,244.5 Q553,248 559.2,247" stroke="#000" stroke-width="4.8"/><circle cx="563.3" cy="257.6" r="4.7" stroke="#000" stroke-width="4.8"/><circle cx="570.3" cy="234.6" r="4.9" stroke="#000" stroke-width="4.8"/><path d="M549,228 Q553,229 557,233 M556.6,219 L560,252 M558.6,238.5 L566,236 M558.2,240 Q551,240.5 552,244.5 Q553,248 559.2,247" stroke="#86e864" stroke-width="2.4"/><circle cx="563.3" cy="257.6" r="4.7" stroke="#86e864" stroke-width="2.4"/><circle cx="570.3" cy="234.6" r="4.9" stroke="#86e864" stroke-width="2.4"/></g>
<linearGradient id="gInt" x1="0" y1="0" x2="0" y2="1"><stop offset="0" stop-color="#8a3a88"/><stop offset="1" stop-color="#3a2ac8"/></linearGradient>
<circle cx="493.3" cy="353.1" r="12.8" fill="#c8c0f2" stroke="#111" stroke-width="2"/>
<polygon points="483.3,345.1 496.3,343.1 504.3,353.1 496.3,363.1 483.3,361.1 486.3,353.1" fill="url(#gInt)" stroke="#15103a" stroke-width="1.8" stroke-linejoin="round"/>
<circle cx="531.5" cy="353.1" r="12.8" fill="#c8c0f2" stroke="#111" stroke-width="2"/>
<polygon points="541.5,345.1 528.5,343.1 520.5,353.1 528.5,363.1 541.5,361.1 538.5,353.1" fill="url(#gInt)" stroke="#15103a" stroke-width="1.8" stroke-linejoin="round"/>
<path d="M382.9,253.5 L395.6,262.5 Q400.5,266.0 395.1,269.1 L381.4,276.9 Q376.0,280.0 376.4,273.4 L377.6,256.6 Q378.0,250.0 382.9,253.5 Z" fill="#3a8e9c" stroke="#10203a" stroke-width="1.8" stroke-linejoin="round"/><path d="M388.1,257.2 L382.9,253.5 Q378.0,250.0 377.6,256.6 L377.1,263.5 Z" fill="#3838a8"/><circle cx="384.6" cy="265.1" r="8" fill="url(#gCyan)" stroke="#10203a" stroke-width="1.6"/>
<path d="M406.9,412.3 L422.1,430.7 Q428.0,438.0 419.2,438.9 L396.8,441.1 Q388.0,442.0 390.9,433.9 L398.1,413.1 Q401.0,405.0 406.9,412.3 Z" fill="#3a8e9c" stroke="#10203a" stroke-width="1.8" stroke-linejoin="round"/><path d="M413.1,419.9 L406.9,412.3 Q401.0,405.0 398.1,413.1 L395.1,421.6 Z" fill="#3838a8"/><circle cx="405.2" cy="427.5" r="11.5" fill="url(#gCyan)" stroke="#10203a" stroke-width="1.6"/>
<path d="M628.7,408.4 L627.8,426.1 Q627.5,433.0 621.9,429.3 L607.6,419.7 Q602.0,416.0 607.9,412.8 L623.1,404.7 Q629.0,401.5 628.7,408.4 Z" fill="#3a8e9c" stroke="#10203a" stroke-width="1.8" stroke-linejoin="round"/><path d="M628.3,415.7 L628.7,408.4 Q629.0,401.5 623.1,404.7 L616.9,408.0 Z" fill="#3838a8"/><circle cx="621" cy="416.7" r="9.5" fill="url(#gCyan)" stroke="#10203a" stroke-width="1.6"/>
<linearGradient id="gTeal" x1="0" y1="0" x2="0" y2="1"><stop offset="0" stop-color="#80ece4"/><stop offset="1" stop-color="#48c0c4"/></linearGradient>
<path d="M432.7,464.6 L439.0,461.0 Q455.6,451.4 455.6,470.5 L455.6,477.9 Q455.6,497.0 439.0,487.4 L432.7,483.8 Q416.0,474.2 432.7,464.6 Z" fill="url(#gTeal)" stroke="#0c2a30" stroke-width="1.5" stroke-linejoin="round"/><circle cx="442.4" cy="474.2" r="12.6" fill="url(#gLav)" stroke="#141848" stroke-width="1.6"/>
<path d="M407.1,371.0 L403.0,373.3 Q392.3,379.5 392.3,367.2 L392.3,362.4 Q392.3,350.1 403.0,356.3 L407.1,358.6 Q417.8,364.8 407.1,371.0 Z" fill="url(#gTeal)" stroke="#0c2a30" stroke-width="1.5" stroke-linejoin="round"/><circle cx="400.8" cy="364.8" r="7.4" fill="url(#gLav)" stroke="#141848" stroke-width="1.6"/>
<path d="M641.7,263.8 L636.3,263.8 Q622.1,263.8 629.2,251.5 L631.9,246.8 Q639.0,234.4 646.1,246.8 L648.8,251.5 Q655.9,263.8 641.7,263.8 Z" fill="url(#gTeal)" stroke="#0c2a30" stroke-width="1.5" stroke-linejoin="round"/><circle cx="639" cy="254" r="8.8" fill="url(#gLav)" stroke="#141848" stroke-width="1.6"/>
<linearGradient id="gProt" x1="0.2" y1="0" x2="0.8" y2="1"><stop offset="0" stop-color="#d8d4f8"/><stop offset="0.5" stop-color="#8a78e0"/><stop offset="1" stop-color="#4030c0"/></linearGradient>
<g transform="translate(359.4 333.1) rotate(0) scale(1.0 1.0)"><circle cx="0" cy="0" r="15.5" fill="url(#gProt)" stroke="#10103a" stroke-width="1.8"/><path d="M-1.0,11.1 A11.2,11.2 0 0 1 -5.6,-9.7" fill="none" stroke="#0e2a3a" stroke-width="8.1" stroke-linecap="round"/><path d="M-1.0,11.1 A11.2,11.2 0 0 1 -5.6,-9.7" fill="none" stroke="#50c8c8" stroke-width="6.1" stroke-linecap="round"/><circle cx="-2.3" cy="0.5" r="9.2" fill="url(#gCyan)" stroke="#10203a" stroke-width="1.4"/></g>
<g transform="translate(657.1 367.7) rotate(-15) scale(1.0 0.85)"><circle cx="0" cy="0" r="13.5" fill="url(#gProt)" stroke="#10103a" stroke-width="1.8"/><path d="M-0.8,9.7 A9.7,9.7 0 0 1 -4.9,-8.4" fill="none" stroke="#0e2a3a" stroke-width="7.3" stroke-linecap="round"/><path d="M-0.8,9.7 A9.7,9.7 0 0 1 -4.9,-8.4" fill="none" stroke="#50c8c8" stroke-width="5.3" stroke-linecap="round"/><circle cx="-2.0" cy="0.5" r="7.6" fill="url(#gCyan)" stroke="#10203a" stroke-width="1.4"/></g>
<line x1="189.3" y1="84.6" x2="482.2" y2="84.6" stroke="#111" stroke-width="1.9"/><polygon points="492.2,84.6 478.2,91.8 482.2,84.6 478.2,77.4" fill="#111"/>
<line x1="189.3" y1="161.4" x2="494.4" y2="118.2" stroke="#111" stroke-width="1.9"/><polygon points="504.3,116.8 491.4,125.9 494.4,118.2 489.4,111.6" fill="#111"/>
<line x1="189.3" y1="237.6" x2="231.7" y2="265.8" stroke="#111" stroke-width="1.9"/><polygon points="240,271.3 224.4,269.5 231.7,265.8 232.3,257.6" fill="#111"/>
<line x1="189.3" y1="315.7" x2="297.0" y2="315.4" stroke="#111" stroke-width="1.9"/><polygon points="307,315.4 293.0,322.6 297.0,315.4 293.0,308.2" fill="#111"/>
<line x1="189.4" y1="391.7" x2="332.1" y2="341.3" stroke="#111" stroke-width="1.9"/><polygon points="341.5,338 330.7,349.5 332.1,341.3 325.9,335.9" fill="#111"/>
<line x1="189.4" y1="468.6" x2="382.2" y2="431.6" stroke="#111" stroke-width="1.9"/><polygon points="392,429.7 379.6,439.4 382.2,431.6 376.9,425.3" fill="#111"/>
<line x1="189.4" y1="545.6" x2="413.2" y2="478.7" stroke="#111" stroke-width="1.9"/><polygon points="422.8,475.8 411.4,486.7 413.2,478.7 407.3,472.9" fill="#111"/>
<line x1="784.3" y1="135.6" x2="548.2" y2="178.7" stroke="#111" stroke-width="1.9"/><polygon points="538.4,180.5 550.9,170.9 548.2,178.7 553.5,185.1" fill="#111"/>
<line x1="784.3" y1="216.1" x2="554.0" y2="208.8" stroke="#111" stroke-width="1.9"/><polygon points="544,208.5 558.2,201.7 554.0,208.8 557.8,216.1" fill="#111"/>
<line x1="784.4" y1="296.1" x2="577.0" y2="250.4" stroke="#111" stroke-width="1.9"/><polygon points="567.2,248.2 582.4,244.2 577.0,250.4 579.3,258.2" fill="#111"/>
<line x1="784.4" y1="375.8" x2="593.6" y2="314.7" stroke="#111" stroke-width="1.9"/><polygon points="584.1,311.7 599.6,309.1 593.6,314.7 595.2,322.8" fill="#111"/>
<line x1="784.4" y1="456.4" x2="559.1" y2="361.1" stroke="#111" stroke-width="1.9"/><polygon points="549.9,357.2 565.6,356.0 559.1,361.1 560.0,369.3" fill="#111"/>
<g font-family="Liberation Sans, sans-serif" fill="#161616"><text x="168.5" y="85.9" font-size="19.4" text-anchor="end" textLength="56" lengthAdjust="spacingAndGlyphs">gp120</text><text x="168.5" y="102.6" font-size="13.6" text-anchor="end" textLength="137" lengthAdjust="spacingAndGlyphs">Docking Glycoprotein</text><text x="168.5" y="154.3" font-size="19.4" text-anchor="end" textLength="45" lengthAdjust="spacingAndGlyphs">gp41</text><text x="168.5" y="170.7" font-size="13.6" text-anchor="end" textLength="103" lengthAdjust="spacingAndGlyphs">Transmembrane</text><text x="168.5" y="187.1" font-size="13.6" text-anchor="end" textLength="82" lengthAdjust="spacingAndGlyphs">Glycoprotein</text><text x="168.5" y="244.6" font-size="20.2" text-anchor="end" textLength="119" lengthAdjust="spacingAndGlyphs">Host ICAM-1</text><text x="168.5" y="321.9" font-size="20.2" text-anchor="end" textLength="60" lengthAdjust="spacingAndGlyphs">Matrix</text><text x="169.5" y="398.7" font-size="20.2" text-anchor="end" textLength="82" lengthAdjust="spacingAndGlyphs">Protease</text><text x="168.5" y="475.5" font-size="20.2" text-anchor="end" textLength="31" lengthAdjust="spacingAndGlyphs">Vpr</text><text x="168.5" y="553.1" font-size="20.2" text-anchor="end" textLength="99.5" lengthAdjust="spacingAndGlyphs">Host CypA</text><text x="802.5" y="143.7" font-size="20.2" text-anchor="start" textLength="64.5" lengthAdjust="spacingAndGlyphs">Capsid</text><text x="802.5" y="223.3" font-size="20.2" text-anchor="start" textLength="129" lengthAdjust="spacingAndGlyphs">Nucleocapsid</text><text x="802.5" y="303" font-size="20.2" text-anchor="start" textLength="83" lengthAdjust="spacingAndGlyphs">tRNA lys</text><text x="802.5" y="383.4" font-size="20.2" text-anchor="start" textLength="207.5" lengthAdjust="spacingAndGlyphs">Reverse-transcriptase</text><text x="802.5" y="463.2" font-size="20.2" text-anchor="start" textLength="88.5" lengthAdjust="spacingAndGlyphs">Integrase</text></g></svg></body></html>
